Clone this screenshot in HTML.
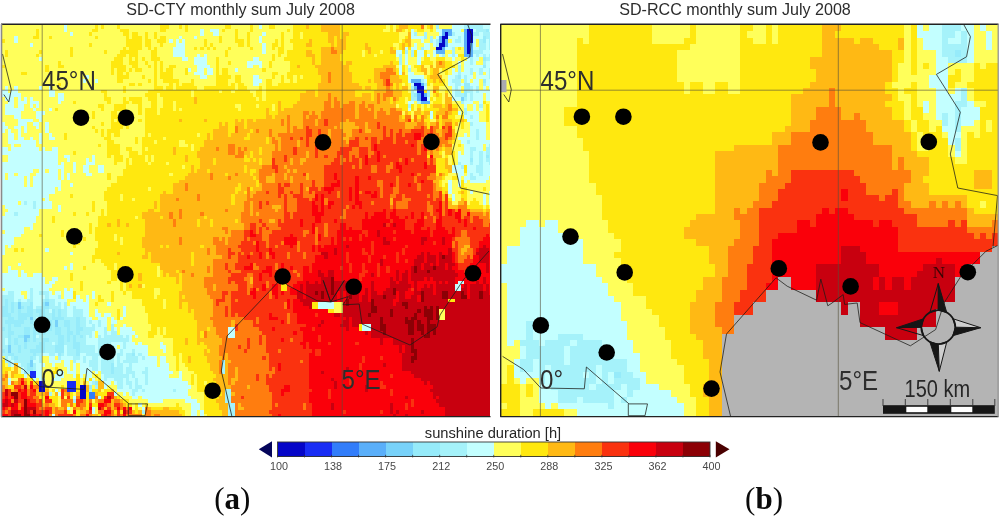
<!DOCTYPE html>
<html lang="en"><head><meta charset="utf-8"><title>Sunshine duration July 2008</title>
<style>html,body{margin:0;padding:0;background:#fff}body{width:1000px;height:516px;overflow:hidden}svg{display:block}text{font-family:"Liberation Sans",Arial,sans-serif}text.sf{font-family:"Liberation Serif","Times New Roman",serif}</style></head>
<body>
<svg width="1000" height="516" viewBox="0 0 1000 516">
<rect width="1000" height="516" fill="#fff"/>
<g shape-rendering="crispEdges">
<rect x="2" y="25" width="488" height="391.5" fill="#fa320f"/>
<path fill="#0505c8" d="M445.3 32.2H448.4V35.8H445.3zM442.2 35.8H448.4V39.4H442.2zM467 28.6H473.2V43H467zM442.2 39.4H445.3V43H442.2zM439.1 43H445.3V46.6H439.1zM436 46.6H442.2V50.2H436zM467 43H470.1V53.8H467zM414.3 82.6H420.5V86.2H414.3zM417.4 86.2H423.6V93.4H417.4zM420.5 93.4H423.6V97H420.5zM420.5 97H426.7V100.6H420.5zM39.2 381.4H45.4V392.2H39.2zM79.5 385H85.7V399.4H79.5z"/>
<path fill="#192df5" d="M29.9 370.6H36.1V377.8H29.9zM67.1 381.4H76.4V392.2H67.1z"/>
<path fill="#327dfa" d="M88.8 392.2H95V399.4H88.8z"/>
<path fill="#5aaffa" d="M442.2 28.6H451.5V32.2H442.2zM448.4 32.2H451.5V35.8H448.4zM442.2 32.2H445.3V35.8H442.2zM439.1 35.8H442.2V43H439.1zM445.3 39.4H448.4V46.6H445.3zM442.2 46.6H445.3V50.2H442.2zM463.9 28.6H467V53.8H463.9zM470.1 43H473.2V53.8H470.1zM436 50.2H445.3V53.8H436zM463.9 53.8H473.2V57.4H463.9zM411.2 79H420.5V82.6H411.2zM420.5 82.6H423.6V86.2H420.5zM414.3 86.2H417.4V89.8H414.3zM423.6 93.4H426.7V97H423.6zM417.4 93.4H420.5V100.6H417.4zM420.5 100.6H429.8V104.2H420.5z"/>
<path fill="#78d2fa" d="M460.8 97H463.9V100.6H460.8zM45.4 302.2H48.5V305.8H45.4zM17.5 302.2H20.6V309.4H17.5zM29.9 316.6H33V320.2H29.9zM54.7 320.2H57.8V327.4H54.7zM23.7 334.6H29.9V338.2H23.7zM23.7 338.2H26.8V341.8H23.7zM8.2 345.4H11.3V352.6H8.2zM29.9 359.8H33V367H29.9z"/>
<path fill="#96ebfa" d="M467 25H470.1V28.6H467zM485.6 28.6H488.7V32.2H485.6zM482.5 35.8H485.6V43H482.5zM482.5 57.4H485.6V61H482.5zM482.5 64.6H485.6V68.2H482.5zM457.7 75.4H460.8V79H457.7zM482.5 79H485.6V82.6H482.5zM463.9 82.6H470.1V89.8H463.9zM463.9 89.8H467V97H463.9zM414.3 93.4H417.4V97H414.3zM485.6 154.6H488.7V158.2H485.6zM470.1 158.2H473.2V161.8H470.1zM45.4 298.6H48.5V302.2H45.4zM5.1 298.6H8.2V305.8H5.1zM29.9 302.2H33V305.8H29.9zM42.3 302.2H45.4V305.8H42.3zM20.6 305.8H23.7V309.4H20.6zM42.3 305.8H48.5V309.4H42.3zM11.3 302.2H14.4V313H11.3zM26.8 305.8H33V313H26.8zM2 305.8H8.2V313H2zM36.1 309.4H45.4V313H36.1zM17.5 309.4H20.6V313H17.5zM51.6 309.4H54.7V316.6H51.6zM57.8 309.4H60.9V316.6H57.8zM2 313H11.3V316.6H2zM39.2 313H45.4V316.6H39.2zM17.5 313H33V316.6H17.5zM51.6 316.6H64V320.2H51.6zM39.2 316.6H42.3V320.2H39.2zM17.5 316.6H26.8V320.2H17.5zM8.2 316.6H14.4V320.2H8.2zM48.5 320.2H51.6V323.8H48.5zM29.9 320.2H33V323.8H29.9zM5.1 320.2H23.7V323.8H5.1zM76.4 316.6H79.5V327.4H76.4zM64 320.2H70.2V327.4H64zM42.3 323.8H51.6V327.4H42.3zM36.1 323.8H39.2V327.4H36.1zM14.4 323.8H20.6V327.4H14.4zM8.2 323.8H11.3V331H8.2zM2 327.4H5.1V331H2zM33 327.4H51.6V331H33zM76.4 327.4H82.6V331H76.4zM67.1 327.4H70.2V331H67.1zM23.7 327.4H29.9V334.6H23.7zM54.7 327.4H60.9V334.6H54.7zM76.4 331H79.5V334.6H76.4zM67.1 331H73.3V334.6H67.1zM42.3 331H45.4V334.6H42.3zM8.2 331H14.4V334.6H8.2zM17.5 334.6H23.7V338.2H17.5zM79.5 334.6H82.6V338.2H79.5zM33 331H36.1V341.8H33zM73.3 334.6H76.4V341.8H73.3zM67.1 334.6H70.2V341.8H67.1zM42.3 338.2H48.5V341.8H42.3zM26.8 338.2H29.9V341.8H26.8zM8.2 334.6H11.3V345.4H8.2zM57.8 334.6H64V345.4H57.8zM14.4 338.2H17.5V345.4H14.4zM39.2 341.8H45.4V345.4H39.2zM23.7 341.8H26.8V349H23.7zM73.3 341.8H79.5V349H73.3zM36.1 345.4H45.4V349H36.1zM17.5 345.4H20.6V352.6H17.5zM54.7 345.4H64V352.6H54.7zM2 349H5.1V352.6H2zM29.9 349H45.4V352.6H29.9zM76.4 349H79.5V356.2H76.4zM33 352.6H36.1V356.2H33zM132.2 352.6H135.3V356.2H132.2zM8.2 352.6H14.4V356.2H8.2zM57.8 352.6H60.9V356.2H57.8zM14.4 356.2H17.5V359.8H14.4zM29.9 356.2H33V359.8H29.9zM26.8 363.4H29.9V367H26.8zM26.8 367H33V370.6H26.8zM110.5 363.4H113.6V374.2H110.5zM23.7 370.6H26.8V374.2H23.7zM95 381.4H98.1V385H95zM88.8 385H91.9V388.6H88.8z"/>
<path fill="#a5f2fa" d="M436 25H439.1V28.6H436zM470.1 25H482.5V28.6H470.1zM463.9 25H467V28.6H463.9zM476.3 28.6H485.6V32.2H476.3zM451.5 32.2H454.6V35.8H451.5zM473.2 32.2H479.4V35.8H473.2zM414.3 32.2H417.4V35.8H414.3zM482.5 32.2H490V35.8H482.5zM423.6 32.2H426.7V39.4H423.6zM485.6 35.8H490V39.4H485.6zM457.7 35.8H460.8V39.4H457.7zM429.8 35.8H432.9V43H429.8zM454.6 39.4H460.8V43H454.6zM479.4 39.4H482.5V43H479.4zM436 39.4H439.1V46.6H436zM488.7 39.4H490V50.2H488.7zM479.4 43H485.6V50.2H479.4zM420.5 46.6H423.6V50.2H420.5zM405 50.2H408.1V53.8H405zM473.2 50.2H482.5V53.8H473.2zM451.5 46.6H454.6V57.4H451.5zM411.2 50.2H414.3V57.4H411.2zM476.3 53.8H479.4V57.4H476.3zM482.5 53.8H485.6V57.4H482.5zM488.7 53.8H490V57.4H488.7zM442.2 53.8H445.3V57.4H442.2zM485.6 57.4H490V61H485.6zM398.8 53.8H401.9V64.6H398.8zM470.1 57.4H473.2V64.6H470.1zM482.5 61H485.6V64.6H482.5zM408.1 68.2H411.2V71.8H408.1zM457.7 64.6H460.8V75.4H457.7zM479.4 68.2H482.5V75.4H479.4zM470.1 68.2H473.2V75.4H470.1zM488.7 68.2H490V79H488.7zM454.6 75.4H457.7V79H454.6zM463.9 75.4H467V82.6H463.9zM451.5 79H460.8V82.6H451.5zM420.5 79H423.6V82.6H420.5zM454.6 82.6H460.8V86.2H454.6zM482.5 82.6H485.6V86.2H482.5zM423.6 82.6H426.7V86.2H423.6zM470.1 86.2H473.2V89.8H470.1zM454.6 86.2H457.7V89.8H454.6zM476.3 86.2H479.4V93.4H476.3zM467 89.8H473.2V93.4H467zM454.6 89.8H460.8V93.4H454.6zM411.2 86.2H414.3V97H411.2zM426.7 89.8H429.8V97H426.7zM454.6 93.4H463.9V97H454.6zM470.1 93.4H473.2V100.6H470.1zM463.9 97H467V100.6H463.9zM411.2 97H417.4V100.6H411.2zM417.4 100.6H420.5V104.2H417.4zM460.8 100.6H463.9V104.2H460.8zM479.4 104.2H482.5V107.8H479.4zM408.1 104.2H411.2V107.8H408.1zM463.9 107.8H467V115H463.9zM470.1 115H473.2V118.6H470.1zM470.1 122.2H473.2V125.8H470.1zM476.3 129.4H479.4V140.2H476.3zM467 140.2H470.1V143.8H467zM488.7 143.8H490V147.4H488.7zM470.1 147.4H476.3V151H470.1zM485.6 147.4H490V154.6H485.6zM470.1 151H473.2V158.2H470.1zM488.7 154.6H490V158.2H488.7zM485.6 158.2H490V161.8H485.6zM479.4 151H482.5V165.4H479.4zM457.7 161.8H460.8V165.4H457.7zM470.1 161.8H473.2V165.4H470.1zM488.7 161.8H490V165.4H488.7zM460.8 165.4H463.9V169H460.8zM476.3 165.4H482.5V172.6H476.3zM479.4 172.6H482.5V176.2H479.4zM470.1 172.6H473.2V176.2H470.1zM470.1 176.2H476.3V179.8H470.1zM23.7 201.4H26.8V205H23.7zM33 201.4H36.1V208.6H33zM14.4 212.2H17.5V215.8H14.4zM8.2 291.4H14.4V295H8.2zM39.2 291.4H48.5V295H39.2zM29.9 287.8H33V298.6H29.9zM2 295H14.4V298.6H2zM45.4 295H48.5V298.6H45.4zM57.8 295H60.9V298.6H57.8zM17.5 298.6H20.6V302.2H17.5zM42.3 298.6H45.4V302.2H42.3zM8.2 298.6H14.4V302.2H8.2zM26.8 298.6H33V302.2H26.8zM48.5 298.6H54.7V305.8H48.5zM2 298.6H5.1V305.8H2zM57.8 302.2H60.9V305.8H57.8zM20.6 302.2H29.9V305.8H20.6zM64 302.2H67.1V309.4H64zM23.7 305.8H26.8V309.4H23.7zM48.5 305.8H60.9V309.4H48.5zM36.1 305.8H42.3V309.4H36.1zM73.3 305.8H76.4V309.4H73.3zM14.4 302.2H17.5V313H14.4zM8.2 302.2H11.3V313H8.2zM20.6 309.4H26.8V313H20.6zM45.4 309.4H48.5V313H45.4zM33 309.4H36.1V313H33zM60.9 309.4H67.1V316.6H60.9zM54.7 309.4H57.8V316.6H54.7zM73.3 309.4H82.6V316.6H73.3zM33 313H39.2V316.6H33zM45.4 313H51.6V316.6H45.4zM11.3 313H17.5V316.6H11.3zM2 316.6H8.2V320.2H2zM26.8 316.6H29.9V320.2H26.8zM64 316.6H76.4V320.2H64zM42.3 316.6H51.6V320.2H42.3zM14.4 316.6H17.5V320.2H14.4zM33 316.6H36.1V323.8H33zM88.8 320.2H91.9V323.8H88.8zM39.2 320.2H48.5V323.8H39.2zM23.7 320.2H29.9V323.8H23.7zM2 320.2H5.1V323.8H2zM79.5 316.6H85.7V327.4H79.5zM57.8 320.2H64V327.4H57.8zM98.1 320.2H101.2V327.4H98.1zM91.9 323.8H95V327.4H91.9zM11.3 323.8H14.4V327.4H11.3zM2 323.8H8.2V327.4H2zM39.2 323.8H42.3V327.4H39.2zM20.6 323.8H36.1V327.4H20.6zM51.6 320.2H54.7V331H51.6zM70.2 320.2H76.4V331H70.2zM110.5 323.8H113.6V331H110.5zM5.1 327.4H8.2V331H5.1zM11.3 327.4H23.7V331H11.3zM82.6 327.4H95V331H82.6zM104.3 327.4H107.4V334.6H104.3zM60.9 327.4H67.1V334.6H60.9zM110.5 331H116.7V334.6H110.5zM79.5 331H91.9V334.6H79.5zM45.4 331H54.7V334.6H45.4zM36.1 331H42.3V334.6H36.1zM73.3 331H76.4V334.6H73.3zM14.4 331H23.7V334.6H14.4zM2 331H8.2V338.2H2zM88.8 334.6H91.9V338.2H88.8zM39.2 334.6H57.8V338.2H39.2zM76.4 334.6H79.5V338.2H76.4zM82.6 334.6H85.7V338.2H82.6zM98.1 334.6H101.2V338.2H98.1zM126 334.6H129.1V338.2H126zM11.3 334.6H17.5V338.2H11.3zM104.3 334.6H122.9V338.2H104.3zM29.9 327.4H33V341.8H29.9zM64 334.6H67.1V341.8H64zM70.2 334.6H73.3V341.8H70.2zM98.1 338.2H129.1V341.8H98.1zM36.1 338.2H42.3V341.8H36.1zM48.5 338.2H57.8V341.8H48.5zM76.4 338.2H85.7V341.8H76.4zM11.3 338.2H14.4V345.4H11.3zM2 338.2H5.1V345.4H2zM17.5 338.2H23.7V345.4H17.5zM79.5 341.8H85.7V345.4H79.5zM64 341.8H73.3V345.4H64zM45.4 341.8H51.6V345.4H45.4zM54.7 341.8H57.8V345.4H54.7zM26.8 341.8H39.2V345.4H26.8zM98.1 341.8H110.5V345.4H98.1zM122.9 341.8H126V349H122.9zM67.1 345.4H73.3V349H67.1zM2 345.4H8.2V349H2zM26.8 345.4H36.1V349H26.8zM20.6 345.4H23.7V349H20.6zM107.4 345.4H113.6V349H107.4zM98.1 345.4H104.3V349H98.1zM79.5 345.4H95V352.6H79.5zM45.4 345.4H54.7V352.6H45.4zM11.3 345.4H17.5V352.6H11.3zM110.5 349H113.6V352.6H110.5zM119.8 349H122.9V352.6H119.8zM132.2 349H135.3V352.6H132.2zM98.1 349H107.4V352.6H98.1zM5.1 349H8.2V352.6H5.1zM20.6 349H29.9V352.6H20.6zM67.1 349H76.4V356.2H67.1zM126 352.6H132.2V356.2H126zM48.5 352.6H54.7V356.2H48.5zM2 352.6H8.2V356.2H2zM14.4 352.6H33V356.2H14.4zM138.4 352.6H141.5V356.2H138.4zM85.7 352.6H113.6V356.2H85.7zM116.7 352.6H122.9V356.2H116.7zM36.1 352.6H42.3V356.2H36.1zM60.9 352.6H64V356.2H60.9zM17.5 356.2H29.9V359.8H17.5zM73.3 356.2H79.5V359.8H73.3zM11.3 356.2H14.4V359.8H11.3zM126 356.2H138.4V359.8H126zM5.1 356.2H8.2V359.8H5.1zM141.5 356.2H144.6V359.8H141.5zM57.8 356.2H60.9V359.8H57.8zM33 356.2H36.1V359.8H33zM91.9 356.2H98.1V359.8H91.9zM82.6 356.2H85.7V363.4H82.6zM116.7 356.2H119.8V363.4H116.7zM101.2 356.2H113.6V363.4H101.2zM39.2 356.2H42.3V363.4H39.2zM14.4 359.8H29.9V363.4H14.4zM122.9 359.8H138.4V363.4H122.9zM73.3 359.8H76.4V363.4H73.3zM5.1 359.8H11.3V363.4H5.1zM88.8 359.8H98.1V367H88.8zM20.6 363.4H26.8V367H20.6zM116.7 363.4H122.9V367H116.7zM129.1 363.4H132.2V367H129.1zM8.2 363.4H11.3V367H8.2zM33 363.4H36.1V370.6H33zM23.7 367H26.8V370.6H23.7zM126 367H132.2V370.6H126zM91.9 367H98.1V370.6H91.9zM144.6 367H147.7V370.6H144.6zM222.1 359.8H225.2V374.2H222.1zM101.2 363.4H110.5V374.2H101.2zM113.6 367H122.9V374.2H113.6zM141.5 370.6H147.7V374.2H141.5zM26.8 370.6H29.9V374.2H26.8zM126 370.6H135.3V374.2H126zM132.2 374.2H135.3V377.8H132.2zM104.3 374.2H129.1V377.8H104.3zM104.3 377.8H107.4V381.4H104.3zM126 377.8H129.1V381.4H126zM113.6 377.8H122.9V381.4H113.6zM144.6 374.2H147.7V385H144.6zM135.3 377.8H138.4V385H135.3zM126 381.4H132.2V385H126zM91.9 381.4H95V385H91.9zM116.7 381.4H122.9V388.6H116.7zM95 385H98.1V388.6H95zM135.3 385H141.5V388.6H135.3zM129.1 385H132.2V388.6H129.1zM88.8 388.6H91.9V392.2H88.8zM172.5 388.6H175.6V392.2H172.5zM141.5 388.6H144.6V392.2H141.5zM132.2 388.6H138.4V392.2H132.2zM132.2 392.2H135.3V395.8H132.2zM48.5 392.2H51.6V395.8H48.5zM225.2 388.6H231.4V403H225.2zM73.3 399.4H76.4V403H73.3zM141.5 410.2H144.6V413.8H141.5zM228.3 403H234.5V416.5H228.3z"/>
<path fill="#c3ffff" d="M259.3 25H262.4V28.6H259.3zM451.5 25H463.9V28.6H451.5zM482.5 25H490V28.6H482.5zM64 25H67.1V32.2H64zM451.5 28.6H460.8V32.2H451.5zM436 28.6H442.2V32.2H436zM473.2 28.6H476.3V32.2H473.2zM488.7 28.6H490V32.2H488.7zM209.7 28.6H219V32.2H209.7zM411.2 28.6H414.3V35.8H411.2zM200.4 28.6H203.5V35.8H200.4zM212.8 32.2H219V35.8H212.8zM479.4 32.2H482.5V35.8H479.4zM262.4 32.2H265.5V35.8H262.4zM454.6 32.2H463.9V35.8H454.6zM439.1 32.2H442.2V35.8H439.1zM70.2 32.2H73.3V35.8H70.2zM178.7 35.8H181.8V39.4H178.7zM194.2 35.8H197.3V39.4H194.2zM473.2 35.8H482.5V39.4H473.2zM448.4 35.8H457.7V39.4H448.4zM436 35.8H439.1V39.4H436zM411.2 35.8H423.6V39.4H411.2zM460.8 35.8H463.9V43H460.8zM259.3 35.8H262.4V43H259.3zM14.4 35.8H17.5V43H14.4zM181.8 39.4H184.9V43H181.8zM420.5 39.4H423.6V43H420.5zM169.4 39.4H172.5V43H169.4zM175.6 39.4H178.7V43H175.6zM451.5 39.4H454.6V43H451.5zM473.2 39.4H476.3V46.6H473.2zM432.9 39.4H436V46.6H432.9zM414.3 43H417.4V46.6H414.3zM29.9 43H33V46.6H29.9zM448.4 43H463.9V46.6H448.4zM175.6 43H184.9V46.6H175.6zM485.6 39.4H488.7V50.2H485.6zM423.6 43H429.8V50.2H423.6zM411.2 46.6H417.4V50.2H411.2zM445.3 46.6H451.5V50.2H445.3zM473.2 46.6H479.4V50.2H473.2zM405 46.6H408.1V50.2H405zM262.4 43H265.5V53.8H262.4zM482.5 50.2H490V53.8H482.5zM395.7 50.2H401.9V53.8H395.7zM172.5 46.6H184.9V57.4H172.5zM417.4 50.2H423.6V57.4H417.4zM432.9 50.2H436V57.4H432.9zM479.4 53.8H482.5V57.4H479.4zM473.2 53.8H476.3V57.4H473.2zM426.7 53.8H429.8V57.4H426.7zM485.6 53.8H488.7V57.4H485.6zM454.6 53.8H457.7V57.4H454.6zM203.5 53.8H206.6V57.4H203.5zM448.4 53.8H451.5V57.4H448.4zM395.7 53.8H398.8V57.4H395.7zM439.1 53.8H442.2V57.4H439.1zM197.3 53.8H200.4V57.4H197.3zM467 57.4H470.1V61H467zM181.8 57.4H188V61H181.8zM253.1 57.4H259.3V61H253.1zM451.5 57.4H454.6V61H451.5zM473.2 57.4H479.4V61H473.2zM39.2 57.4H42.3V61H39.2zM405 53.8H408.1V64.6H405zM417.4 57.4H420.5V64.6H417.4zM194.2 57.4H206.6V64.6H194.2zM457.7 61H460.8V64.6H457.7zM473.2 61H476.3V64.6H473.2zM246.9 61H262.4V64.6H246.9zM463.9 61H470.1V64.6H463.9zM485.6 61H490V68.2H485.6zM259.3 64.6H262.4V68.2H259.3zM197.3 64.6H209.7V68.2H197.3zM246.9 64.6H253.1V68.2H246.9zM408.1 64.6H411.2V68.2H408.1zM463.9 64.6H482.5V68.2H463.9zM197.3 68.2H203.5V71.8H197.3zM234.5 68.2H237.6V71.8H234.5zM188 68.2H191.1V71.8H188zM463.9 68.2H470.1V71.8H463.9zM451.5 68.2H454.6V71.8H451.5zM473.2 68.2H479.4V71.8H473.2zM482.5 68.2H488.7V71.8H482.5zM398.8 64.6H401.9V75.4H398.8zM206.6 68.2H212.8V75.4H206.6zM408.1 71.8H414.3V75.4H408.1zM485.6 71.8H488.7V75.4H485.6zM451.5 71.8H457.7V75.4H451.5zM460.8 71.8H470.1V75.4H460.8zM194.2 71.8H203.5V75.4H194.2zM476.3 71.8H479.4V75.4H476.3zM200.4 75.4H206.6V79H200.4zM85.7 75.4H88.8V79H85.7zM460.8 75.4H463.9V79H460.8zM448.4 75.4H454.6V79H448.4zM476.3 75.4H488.7V79H476.3zM408.1 75.4H423.6V79H408.1zM467 75.4H473.2V79H467zM253.1 75.4H259.3V79H253.1zM467 79H470.1V82.6H467zM253.1 79H262.4V82.6H253.1zM408.1 79H411.2V82.6H408.1zM423.6 79H426.7V82.6H423.6zM448.4 79H451.5V82.6H448.4zM82.6 79H85.7V82.6H82.6zM95 79H98.1V82.6H95zM473.2 79H479.4V82.6H473.2zM485.6 79H490V86.2H485.6zM460.8 82.6H463.9V86.2H460.8zM448.4 82.6H454.6V86.2H448.4zM470.1 82.6H479.4V86.2H470.1zM253.1 82.6H259.3V86.2H253.1zM411.2 82.6H414.3V86.2H411.2zM457.7 86.2H460.8V89.8H457.7zM482.5 86.2H485.6V89.8H482.5zM5.1 86.2H8.2V89.8H5.1zM14.4 86.2H17.5V89.8H14.4zM488.7 86.2H490V89.8H488.7zM48.5 86.2H51.6V89.8H48.5zM423.6 86.2H426.7V89.8H423.6zM39.2 86.2H42.3V89.8H39.2zM473.2 86.2H476.3V93.4H473.2zM414.3 89.8H417.4V93.4H414.3zM11.3 89.8H17.5V93.4H11.3zM479.4 89.8H490V93.4H479.4zM2 89.8H8.2V93.4H2zM451.5 86.2H454.6V97H451.5zM48.5 89.8H54.7V97H48.5zM2 93.4H20.6V97H2zM467 93.4H470.1V100.6H467zM473.2 93.4H482.5V100.6H473.2zM57.8 93.4H64V100.6H57.8zM485.6 93.4H490V100.6H485.6zM17.5 97H20.6V100.6H17.5zM451.5 97H460.8V100.6H451.5zM426.7 97H429.8V100.6H426.7zM5.1 97H14.4V100.6H5.1zM29.9 97H33V100.6H29.9zM23.7 97H26.8V100.6H23.7zM479.4 100.6H482.5V104.2H479.4zM463.9 100.6H473.2V104.2H463.9zM17.5 100.6H26.8V104.2H17.5zM408.1 100.6H414.3V104.2H408.1zM8.2 100.6H14.4V104.2H8.2zM57.8 100.6H60.9V104.2H57.8zM29.9 100.6H39.2V104.2H29.9zM5.1 104.2H14.4V107.8H5.1zM17.5 104.2H23.7V107.8H17.5zM29.9 104.2H33V107.8H29.9zM36.1 104.2H39.2V107.8H36.1zM463.9 104.2H467V107.8H463.9zM473.2 104.2H476.3V111.4H473.2zM479.4 107.8H482.5V111.4H479.4zM33 107.8H36.1V111.4H33zM408.1 107.8H411.2V111.4H408.1zM48.5 107.8H51.6V111.4H48.5zM5.1 107.8H23.7V111.4H5.1zM36.1 111.4H45.4V115H36.1zM457.7 111.4H460.8V115H457.7zM5.1 111.4H20.6V115H5.1zM467 111.4H479.4V115H467zM429.8 111.4H432.9V118.6H429.8zM36.1 115H42.3V118.6H36.1zM463.9 115H470.1V118.6H463.9zM14.4 115H20.6V118.6H14.4zM473.2 115H479.4V118.6H473.2zM17.5 118.6H33V122.2H17.5zM467 118.6H479.4V122.2H467zM39.2 118.6H42.3V122.2H39.2zM17.5 122.2H26.8V125.8H17.5zM2 122.2H5.1V125.8H2zM33 122.2H39.2V125.8H33zM473.2 122.2H485.6V125.8H473.2zM470.1 125.8H485.6V129.4H470.1zM36.1 125.8H39.2V129.4H36.1zM14.4 125.8H20.6V129.4H14.4zM2 125.8H8.2V129.4H2zM45.4 122.2H48.5V133H45.4zM23.7 125.8H26.8V133H23.7zM2 129.4H5.1V133H2zM8.2 129.4H11.3V133H8.2zM17.5 129.4H20.6V136.6H17.5zM470.1 129.4H476.3V136.6H470.1zM48.5 133H51.6V136.6H48.5zM463.9 133H467V136.6H463.9zM479.4 129.4H485.6V140.2H479.4zM8.2 133H14.4V140.2H8.2zM17.5 136.6H23.7V140.2H17.5zM29.9 136.6H33V140.2H29.9zM457.7 136.6H476.3V140.2H457.7zM48.5 136.6H54.7V140.2H48.5zM39.2 133H42.3V143.8H39.2zM8.2 140.2H36.1V143.8H8.2zM470.1 140.2H490V143.8H470.1zM460.8 140.2H467V143.8H460.8zM485.6 143.8H488.7V147.4H485.6zM20.6 143.8H36.1V147.4H20.6zM463.9 143.8H482.5V147.4H463.9zM11.3 143.8H14.4V147.4H11.3zM11.3 147.4H39.2V151H11.3zM42.3 147.4H45.4V151H42.3zM476.3 147.4H482.5V151H476.3zM51.6 147.4H57.8V151H51.6zM2 147.4H8.2V151H2zM463.9 147.4H470.1V154.6H463.9zM457.7 151H460.8V154.6H457.7zM2 151H57.8V154.6H2zM64 154.6H70.2V158.2H64zM482.5 151H485.6V161.8H482.5zM457.7 154.6H470.1V161.8H457.7zM8.2 154.6H57.8V161.8H8.2zM91.9 154.6H95V161.8H91.9zM85.7 158.2H88.8V161.8H85.7zM67.1 158.2H70.2V161.8H67.1zM473.2 151H479.4V165.4H473.2zM85.7 161.8H95V165.4H85.7zM460.8 161.8H470.1V165.4H460.8zM60.9 161.8H64V165.4H60.9zM2 161.8H57.8V165.4H2zM482.5 161.8H488.7V165.4H482.5zM451.5 165.4H460.8V169H451.5zM2 165.4H64V169H2zM73.3 161.8H76.4V172.6H73.3zM467 165.4H476.3V172.6H467zM82.6 165.4H88.8V172.6H82.6zM98.1 165.4H104.3V172.6H98.1zM2 169H33V172.6H2zM451.5 169H463.9V172.6H451.5zM48.5 169H57.8V172.6H48.5zM39.2 169H45.4V172.6H39.2zM482.5 165.4H490V176.2H482.5zM467 172.6H470.1V176.2H467zM36.1 172.6H57.8V176.2H36.1zM8.2 172.6H14.4V176.2H8.2zM457.7 172.6H463.9V176.2H457.7zM85.7 172.6H91.9V176.2H85.7zM17.5 172.6H29.9V176.2H17.5zM473.2 172.6H479.4V176.2H473.2zM60.9 169H64V179.8H60.9zM67.1 172.6H70.2V179.8H67.1zM2 172.6H5.1V179.8H2zM33 176.2H57.8V179.8H33zM463.9 176.2H470.1V179.8H463.9zM476.3 176.2H488.7V179.8H476.3zM8.2 176.2H23.7V179.8H8.2zM470.1 179.8H485.6V183.4H470.1zM463.9 179.8H467V183.4H463.9zM457.7 176.2H460.8V187H457.7zM26.8 176.2H29.9V187H26.8zM33 179.8H60.9V187H33zM2 179.8H23.7V187H2zM70.2 183.4H73.3V187H70.2zM57.8 187H60.9V190.6H57.8zM448.4 179.8H451.5V194.2H448.4zM2 187H54.7V194.2H2zM470.1 190.6H473.2V194.2H470.1zM2 194.2H48.5V197.8H2zM451.5 194.2H454.6V201.4H451.5zM45.4 197.8H48.5V201.4H45.4zM2 197.8H42.3V201.4H2zM488.7 190.6H490V205H488.7zM482.5 194.2H485.6V205H482.5zM20.6 201.4H23.7V205H20.6zM26.8 201.4H33V205H26.8zM2 201.4H17.5V205H2zM36.1 201.4H51.6V208.6H36.1zM5.1 205H33V208.6H5.1zM57.8 205H60.9V212.2H57.8zM8.2 208.6H39.2V212.2H8.2zM5.1 212.2H14.4V215.8H5.1zM17.5 212.2H39.2V215.8H17.5zM2 215.8H36.1V223H2zM2 223H33V226.6H2zM29.9 226.6H33V230.2H29.9zM2 226.6H23.7V230.2H2zM5.1 230.2H23.7V233.8H5.1zM2 233.8H20.6V237.4H2zM2 237.4H14.4V244.6H2zM8.2 244.6H11.3V248.2H8.2zM45.4 248.2H48.5V251.8H45.4zM2 244.6H5.1V255.4H2zM70.2 251.8H73.3V255.4H70.2zM17.5 262.6H20.6V266.2H17.5zM70.2 262.6H73.3V269.8H70.2zM8.2 266.2H11.3V269.8H8.2zM64 266.2H67.1V269.8H64zM20.6 269.8H23.7V273.4H20.6zM8.2 269.8H17.5V273.4H8.2zM33 273.4H42.3V277H33zM2 273.4H17.5V277H2zM20.6 273.4H26.8V277H20.6zM51.6 277H57.8V280.6H51.6zM2 277H45.4V284.2H2zM457.7 280.6H463.9V284.2H457.7zM48.5 280.6H54.7V284.2H48.5zM2 284.2H51.6V287.8H2zM454.6 284.2H460.8V291.4H454.6zM5.1 287.8H29.9V291.4H5.1zM33 287.8H48.5V291.4H33zM64 287.8H67.1V291.4H64zM70.2 287.8H73.3V291.4H70.2zM54.7 291.4H60.9V295H54.7zM2 291.4H8.2V295H2zM33 291.4H39.2V295H33zM14.4 291.4H20.6V295H14.4zM48.5 291.4H51.6V295H48.5zM64 291.4H73.3V298.6H64zM26.8 291.4H29.9V298.6H26.8zM91.9 291.4H95V298.6H91.9zM14.4 295H23.7V298.6H14.4zM48.5 295H57.8V298.6H48.5zM76.4 295H79.5V298.6H76.4zM33 295H45.4V298.6H33zM85.7 295H88.8V302.2H85.7zM76.4 298.6H82.6V302.2H76.4zM14.4 298.6H17.5V302.2H14.4zM20.6 298.6H26.8V302.2H20.6zM54.7 298.6H67.1V302.2H54.7zM33 298.6H42.3V305.8H33zM107.4 302.2H110.5V305.8H107.4zM54.7 302.2H57.8V305.8H54.7zM70.2 302.2H88.8V305.8H70.2zM318.2 302.2H333.7V309.4H318.2zM60.9 302.2H64V309.4H60.9zM76.4 305.8H88.8V309.4H76.4zM33 305.8H36.1V309.4H33zM48.5 309.4H51.6V313H48.5zM95 309.4H98.1V313H95zM122.9 305.8H126V316.6H122.9zM67.1 305.8H73.3V316.6H67.1zM82.6 309.4H88.8V316.6H82.6zM104.3 313H110.5V316.6H104.3zM95 313H101.2V316.6H95zM110.5 316.6H113.6V320.2H110.5zM98.1 316.6H107.4V320.2H98.1zM85.7 316.6H91.9V320.2H85.7zM119.8 316.6H122.9V320.2H119.8zM36.1 316.6H39.2V323.8H36.1zM85.7 320.2H88.8V323.8H85.7zM91.9 320.2H98.1V323.8H91.9zM110.5 320.2H116.7V323.8H110.5zM101.2 320.2H107.4V327.4H101.2zM85.7 323.8H91.9V327.4H85.7zM122.9 323.8H126V327.4H122.9zM95 323.8H98.1V327.4H95zM361.6 323.8H370.9V331H361.6zM95 327.4H104.3V331H95zM113.6 327.4H116.7V331H113.6zM119.8 327.4H132.2V331H119.8zM107.4 331H110.5V334.6H107.4zM119.8 331H135.3V334.6H119.8zM98.1 331H104.3V334.6H98.1zM228.3 327.4H234.5V338.2H228.3zM91.9 331H95V338.2H91.9zM85.7 334.6H88.8V338.2H85.7zM101.2 334.6H104.3V338.2H101.2zM122.9 334.6H126V338.2H122.9zM135.3 334.6H138.4V338.2H135.3zM36.1 334.6H39.2V338.2H36.1zM129.1 334.6H132.2V341.8H129.1zM5.1 338.2H8.2V345.4H5.1zM85.7 338.2H98.1V345.4H85.7zM138.4 341.8H141.5V345.4H138.4zM160.1 341.8H163.2V345.4H160.1zM126 341.8H135.3V345.4H126zM110.5 341.8H122.9V345.4H110.5zM51.6 341.8H54.7V345.4H51.6zM113.6 345.4H116.7V349H113.6zM126 345.4H147.7V349H126zM104.3 345.4H107.4V349H104.3zM160.1 345.4H166.3V349H160.1zM119.8 345.4H122.9V349H119.8zM95 345.4H98.1V352.6H95zM107.4 349H110.5V352.6H107.4zM135.3 349H147.7V352.6H135.3zM122.9 349H132.2V352.6H122.9zM113.6 349H119.8V352.6H113.6zM163.2 349H166.3V352.6H163.2zM64 345.4H67.1V356.2H64zM54.7 352.6H57.8V356.2H54.7zM122.9 352.6H126V356.2H122.9zM79.5 352.6H85.7V356.2H79.5zM42.3 352.6H48.5V356.2H42.3zM135.3 352.6H138.4V356.2H135.3zM141.5 352.6H147.7V356.2H141.5zM60.9 356.2H73.3V359.8H60.9zM79.5 356.2H82.6V359.8H79.5zM138.4 356.2H141.5V359.8H138.4zM144.6 356.2H157V359.8H144.6zM85.7 356.2H91.9V359.8H85.7zM119.8 356.2H126V359.8H119.8zM8.2 356.2H11.3V359.8H8.2zM36.1 356.2H39.2V359.8H36.1zM48.5 356.2H54.7V359.8H48.5zM160.1 356.2H166.3V363.4H160.1zM85.7 359.8H88.8V363.4H85.7zM48.5 359.8H60.9V363.4H48.5zM76.4 359.8H82.6V363.4H76.4zM33 359.8H39.2V363.4H33zM138.4 359.8H157V363.4H138.4zM119.8 359.8H122.9V363.4H119.8zM113.6 352.6H116.7V367H113.6zM64 359.8H70.2V367H64zM11.3 359.8H14.4V367H11.3zM17.5 363.4H20.6V367H17.5zM79.5 363.4H88.8V367H79.5zM122.9 363.4H129.1V367H122.9zM160.1 363.4H169.4V367H160.1zM132.2 363.4H157V367H132.2zM51.6 363.4H54.7V367H51.6zM36.1 363.4H45.4V367H36.1zM98.1 356.2H101.2V370.6H98.1zM73.3 363.4H76.4V370.6H73.3zM67.1 367H70.2V370.6H67.1zM132.2 367H144.6V370.6H132.2zM147.7 367H169.4V370.6H147.7zM20.6 367H23.7V374.2H20.6zM122.9 367H126V374.2H122.9zM79.5 367H91.9V374.2H79.5zM135.3 370.6H141.5V374.2H135.3zM67.1 370.6H76.4V374.2H67.1zM147.7 370.6H172.5V374.2H147.7zM57.8 370.6H64V374.2H57.8zM95 370.6H98.1V374.2H95zM36.1 367H42.3V377.8H36.1zM178.7 370.6H181.8V377.8H178.7zM79.5 374.2H82.6V377.8H79.5zM54.7 374.2H64V377.8H54.7zM129.1 374.2H132.2V377.8H129.1zM73.3 374.2H76.4V377.8H73.3zM85.7 374.2H91.9V377.8H85.7zM135.3 374.2H144.6V377.8H135.3zM23.7 374.2H26.8V377.8H23.7zM147.7 374.2H169.4V377.8H147.7zM101.2 374.2H104.3V381.4H101.2zM85.7 377.8H88.8V381.4H85.7zM147.7 377.8H181.8V381.4H147.7zM51.6 377.8H60.9V381.4H51.6zM33 377.8H36.1V381.4H33zM129.1 377.8H135.3V381.4H129.1zM107.4 377.8H113.6V381.4H107.4zM39.2 377.8H45.4V381.4H39.2zM91.9 377.8H95V381.4H91.9zM8.2 377.8H11.3V385H8.2zM138.4 377.8H144.6V385H138.4zM122.9 377.8H126V385H122.9zM147.7 381.4H188V385H147.7zM113.6 381.4H116.7V385H113.6zM104.3 381.4H110.5V385H104.3zM88.8 381.4H91.9V385H88.8zM132.2 381.4H135.3V388.6H132.2zM122.9 385H129.1V388.6H122.9zM141.5 385H191.1V388.6H141.5zM104.3 385H107.4V388.6H104.3zM144.6 388.6H172.5V392.2H144.6zM116.7 388.6H132.2V392.2H116.7zM54.7 388.6H57.8V392.2H54.7zM138.4 388.6H141.5V392.2H138.4zM175.6 388.6H188V392.2H175.6zM113.6 392.2H116.7V395.8H113.6zM57.8 392.2H60.9V395.8H57.8zM135.3 392.2H188V395.8H135.3zM129.1 392.2H132.2V395.8H129.1zM122.9 392.2H126V395.8H122.9zM98.1 395.8H101.2V399.4H98.1zM73.3 395.8H76.4V399.4H73.3zM132.2 395.8H138.4V399.4H132.2zM141.5 395.8H191.1V399.4H141.5zM184.9 399.4H197.3V403H184.9zM147.7 399.4H163.2V403H147.7zM138.4 403H141.5V406.6H138.4zM191.1 403H200.4V410.2H191.1zM67.1 406.6H70.2V410.2H67.1zM141.5 406.6H144.6V410.2H141.5zM91.9 406.6H95V413.8H91.9zM200.4 410.2H203.5V416.5H200.4zM191.1 410.2H197.3V416.5H191.1zM51.6 413.8H54.7V416.5H51.6z"/>
<path fill="#ffff5a" d="M439.1 25H451.5V28.6H439.1zM119.8 25H160.1V28.6H119.8zM231.4 25H250V28.6H231.4zM104.3 25H116.7V28.6H104.3zM188 25H225.2V28.6H188zM67.1 25H95V28.6H67.1zM423.6 25H426.7V28.6H423.6zM169.4 25H178.7V28.6H169.4zM2 25H64V28.6H2zM253.1 25H259.3V28.6H253.1zM262.4 25H268.6V28.6H262.4zM386.4 25H389.5V28.6H386.4zM274.8 25H293.4V28.6H274.8zM98.1 25H101.2V28.6H98.1zM181.8 25H184.9V28.6H181.8zM432.9 25H436V32.2H432.9zM392.6 25H395.7V32.2H392.6zM423.6 28.6H429.8V32.2H423.6zM98.1 28.6H119.8V32.2H98.1zM129.1 28.6H160.1V32.2H129.1zM383.3 28.6H389.5V32.2H383.3zM237.6 28.6H250V32.2H237.6zM253.1 28.6H287.2V32.2H253.1zM166.3 28.6H184.9V32.2H166.3zM39.2 28.6H64V32.2H39.2zM405 28.6H408.1V32.2H405zM290.3 28.6H293.4V32.2H290.3zM67.1 28.6H91.9V32.2H67.1zM188 28.6H200.4V32.2H188zM225.2 28.6H234.5V32.2H225.2zM460.8 28.6H463.9V32.2H460.8zM414.3 28.6H417.4V32.2H414.3zM219 28.6H222.1V32.2H219zM203.5 28.6H209.7V32.2H203.5zM2 28.6H36.1V35.8H2zM265.5 32.2H281V35.8H265.5zM219 32.2H234.5V35.8H219zM417.4 32.2H423.6V35.8H417.4zM157 32.2H200.4V35.8H157zM73.3 32.2H88.8V35.8H73.3zM91.9 32.2H122.9V35.8H91.9zM138.4 32.2H144.6V35.8H138.4zM250 32.2H262.4V35.8H250zM203.5 32.2H212.8V35.8H203.5zM39.2 32.2H70.2V35.8H39.2zM426.7 32.2H439.1V35.8H426.7zM398.8 32.2H408.1V35.8H398.8zM129.1 32.2H132.2V39.4H129.1zM299.6 32.2H302.7V39.4H299.6zM284.1 32.2H293.4V39.4H284.1zM147.7 32.2H153.9V39.4H147.7zM237.6 32.2H246.9V39.4H237.6zM98.1 35.8H126V39.4H98.1zM398.8 35.8H405V39.4H398.8zM432.9 35.8H436V39.4H432.9zM157 35.8H160.1V39.4H157zM166.3 35.8H178.7V39.4H166.3zM181.8 35.8H194.2V39.4H181.8zM197.3 35.8H219V39.4H197.3zM2 35.8H14.4V39.4H2zM262.4 35.8H281V39.4H262.4zM39.2 35.8H48.5V39.4H39.2zM51.6 35.8H95V39.4H51.6zM426.7 35.8H429.8V39.4H426.7zM17.5 35.8H33V39.4H17.5zM250 35.8H259.3V43H250zM222.1 35.8H234.5V43H222.1zM423.6 39.4H429.8V43H423.6zM150.8 39.4H157V43H150.8zM17.5 39.4H126V43H17.5zM448.4 39.4H451.5V43H448.4zM262.4 39.4H274.8V43H262.4zM206.6 39.4H219V43H206.6zM398.8 39.4H401.9V43H398.8zM166.3 39.4H169.4V43H166.3zM411.2 39.4H420.5V43H411.2zM178.7 39.4H181.8V43H178.7zM5.1 39.4H14.4V43H5.1zM284.1 39.4H290.3V43H284.1zM172.5 39.4H175.6V43H172.5zM141.5 35.8H144.6V46.6H141.5zM184.9 39.4H203.5V46.6H184.9zM476.3 39.4H479.4V46.6H476.3zM243.8 39.4H246.9V46.6H243.8zM277.9 39.4H281V46.6H277.9zM417.4 43H423.6V46.6H417.4zM429.8 43H432.9V46.6H429.8zM163.2 43H175.6V46.6H163.2zM33 43H88.8V46.6H33zM250 43H262.4V46.6H250zM2 43H29.9V46.6H2zM411.2 43H414.3V46.6H411.2zM150.8 43H160.1V46.6H150.8zM392.6 43H398.8V46.6H392.6zM206.6 43H209.7V46.6H206.6zM91.9 43H126V46.6H91.9zM212.8 43H237.6V46.6H212.8zM284.1 43H293.4V50.2H284.1zM265.5 43H271.7V50.2H265.5zM454.6 46.6H457.7V50.2H454.6zM253.1 46.6H262.4V50.2H253.1zM209.7 46.6H212.8V50.2H209.7zM231.4 46.6H250V50.2H231.4zM73.3 46.6H122.9V50.2H73.3zM203.5 46.6H206.6V50.2H203.5zM395.7 46.6H398.8V50.2H395.7zM417.4 46.6H420.5V50.2H417.4zM184.9 46.6H194.2V50.2H184.9zM197.3 46.6H200.4V50.2H197.3zM429.8 46.6H436V50.2H429.8zM150.8 46.6H153.9V50.2H150.8zM2 46.6H70.2V50.2H2zM141.5 46.6H147.7V50.2H141.5zM126 46.6H129.1V50.2H126zM460.8 46.6H463.9V50.2H460.8zM274.8 46.6H277.9V50.2H274.8zM215.9 46.6H228.3V50.2H215.9zM184.9 50.2H225.2V53.8H184.9zM454.6 50.2H463.9V53.8H454.6zM42.3 50.2H70.2V53.8H42.3zM8.2 50.2H39.2V53.8H8.2zM284.1 50.2H287.2V53.8H284.1zM107.4 50.2H119.8V53.8H107.4zM445.3 50.2H451.5V53.8H445.3zM426.7 50.2H432.9V53.8H426.7zM265.5 50.2H277.9V53.8H265.5zM228.3 50.2H262.4V53.8H228.3zM380.2 50.2H383.3V53.8H380.2zM73.3 50.2H104.3V53.8H73.3zM157 46.6H172.5V57.4H157zM2 50.2H5.1V57.4H2zM408.1 50.2H411.2V57.4H408.1zM361.6 50.2H364.7V57.4H361.6zM138.4 50.2H150.8V57.4H138.4zM374 53.8H377.1V57.4H374zM200.4 53.8H203.5V57.4H200.4zM429.8 53.8H432.9V57.4H429.8zM184.9 53.8H197.3V57.4H184.9zM73.3 53.8H116.7V57.4H73.3zM436 53.8H439.1V57.4H436zM228.3 53.8H271.7V57.4H228.3zM39.2 53.8H70.2V57.4H39.2zM206.6 53.8H225.2V57.4H206.6zM445.3 53.8H448.4V57.4H445.3zM281 53.8H287.2V57.4H281zM8.2 53.8H36.1V57.4H8.2zM126 53.8H129.1V57.4H126zM274.8 53.8H277.9V57.4H274.8zM274.8 57.4H284.1V61H274.8zM2 57.4H39.2V61H2zM420.5 57.4H423.6V61H420.5zM160.1 57.4H181.8V61H160.1zM445.3 57.4H451.5V61H445.3zM259.3 57.4H271.7V61H259.3zM219 57.4H253.1V61H219zM395.7 57.4H398.8V61H395.7zM429.8 57.4H436V61H429.8zM463.9 57.4H467V61H463.9zM454.6 57.4H460.8V61H454.6zM188 57.4H194.2V61H188zM132.2 57.4H135.3V61H132.2zM479.4 57.4H482.5V61H479.4zM144.6 57.4H150.8V61H144.6zM138.4 57.4H141.5V61H138.4zM42.3 57.4H113.6V61H42.3zM401.9 53.8H405V64.6H401.9zM206.6 57.4H215.9V64.6H206.6zM122.9 57.4H129.1V64.6H122.9zM408.1 57.4H417.4V64.6H408.1zM451.5 61H457.7V64.6H451.5zM476.3 61H482.5V64.6H476.3zM60.9 61H110.5V64.6H60.9zM138.4 61H144.6V64.6H138.4zM2 61H57.8V64.6H2zM163.2 61H194.2V64.6H163.2zM147.7 61H153.9V64.6H147.7zM231.4 61H246.9V64.6H231.4zM219 61H228.3V64.6H219zM432.9 61H436V68.2H432.9zM271.7 61H290.3V68.2H271.7zM262.4 61H268.6V68.2H262.4zM423.6 64.6H429.8V68.2H423.6zM138.4 64.6H147.7V68.2H138.4zM163.2 64.6H169.4V68.2H163.2zM219 64.6H246.9V68.2H219zM48.5 64.6H57.8V68.2H48.5zM5.1 64.6H45.4V68.2H5.1zM395.7 64.6H398.8V68.2H395.7zM253.1 64.6H259.3V68.2H253.1zM126 64.6H132.2V68.2H126zM150.8 64.6H153.9V68.2H150.8zM411.2 64.6H414.3V68.2H411.2zM209.7 64.6H215.9V68.2H209.7zM175.6 64.6H197.3V68.2H175.6zM64 64.6H110.5V68.2H64zM460.8 61H463.9V71.8H460.8zM454.6 64.6H457.7V71.8H454.6zM411.2 68.2H417.4V71.8H411.2zM2 68.2H45.4V71.8H2zM191.1 68.2H197.3V71.8H191.1zM163.2 68.2H166.3V71.8H163.2zM439.1 68.2H442.2V71.8H439.1zM48.5 68.2H110.5V71.8H48.5zM237.6 68.2H262.4V71.8H237.6zM265.5 68.2H290.3V71.8H265.5zM132.2 68.2H135.3V71.8H132.2zM126 68.2H129.1V71.8H126zM141.5 68.2H153.9V71.8H141.5zM228.3 68.2H234.5V71.8H228.3zM405 64.6H408.1V75.4H405zM426.7 68.2H429.8V75.4H426.7zM212.8 68.2H215.9V75.4H212.8zM203.5 68.2H206.6V75.4H203.5zM448.4 68.2H451.5V75.4H448.4zM172.5 68.2H184.9V75.4H172.5zM219 68.2H222.1V75.4H219zM113.6 68.2H116.7V75.4H113.6zM129.1 71.8H153.9V75.4H129.1zM414.3 71.8H423.6V75.4H414.3zM277.9 71.8H287.2V75.4H277.9zM439.1 71.8H445.3V75.4H439.1zM122.9 71.8H126V75.4H122.9zM228.3 71.8H271.7V75.4H228.3zM188 71.8H194.2V75.4H188zM2 71.8H20.6V75.4H2zM482.5 71.8H485.6V75.4H482.5zM26.8 71.8H110.5V75.4H26.8zM157 61H160.1V79H157zM473.2 71.8H476.3V79H473.2zM206.6 75.4H215.9V79H206.6zM2 75.4H85.7V79H2zM172.5 75.4H200.4V79H172.5zM284.1 75.4H287.2V79H284.1zM423.6 75.4H426.7V79H423.6zM274.8 75.4H281V79H274.8zM259.3 75.4H271.7V79H259.3zM144.6 75.4H153.9V79H144.6zM299.6 75.4H302.7V79H299.6zM442.2 75.4H448.4V79H442.2zM231.4 75.4H234.5V79H231.4zM88.8 75.4H116.7V79H88.8zM129.1 75.4H141.5V79H129.1zM293.4 75.4H296.5V82.6H293.4zM240.7 75.4H253.1V82.6H240.7zM122.9 79H147.7V82.6H122.9zM178.7 79H191.1V82.6H178.7zM98.1 79H116.7V82.6H98.1zM150.8 79H153.9V82.6H150.8zM284.1 79H290.3V82.6H284.1zM271.7 79H281V82.6H271.7zM470.1 79H473.2V82.6H470.1zM460.8 79H463.9V82.6H460.8zM2 79H82.6V82.6H2zM157 79H163.2V82.6H157zM228.3 79H234.5V82.6H228.3zM85.7 79H95V82.6H85.7zM262.4 79H265.5V82.6H262.4zM194.2 79H215.9V86.2H194.2zM445.3 79H448.4V86.2H445.3zM157 82.6H169.4V86.2H157zM429.8 82.6H432.9V86.2H429.8zM259.3 82.6H265.5V86.2H259.3zM228.3 82.6H231.4V86.2H228.3zM271.7 82.6H277.9V86.2H271.7zM2 82.6H57.8V86.2H2zM135.3 82.6H138.4V86.2H135.3zM243.8 82.6H253.1V86.2H243.8zM60.9 82.6H129.1V86.2H60.9zM401.9 82.6H405V86.2H401.9zM178.7 82.6H181.8V86.2H178.7zM141.5 82.6H153.9V86.2H141.5zM479.4 79H482.5V89.8H479.4zM234.5 82.6H237.6V89.8H234.5zM172.5 82.6H175.6V89.8H172.5zM17.5 86.2H39.2V89.8H17.5zM2 86.2H5.1V89.8H2zM439.1 86.2H451.5V89.8H439.1zM126 86.2H153.9V89.8H126zM246.9 86.2H259.3V89.8H246.9zM42.3 86.2H48.5V89.8H42.3zM426.7 86.2H432.9V89.8H426.7zM163.2 86.2H166.3V89.8H163.2zM51.6 86.2H122.9V89.8H51.6zM485.6 86.2H488.7V89.8H485.6zM8.2 86.2H14.4V89.8H8.2zM197.3 86.2H203.5V89.8H197.3zM408.1 82.6H411.2V93.4H408.1zM460.8 86.2H463.9V93.4H460.8zM439.1 89.8H445.3V93.4H439.1zM126 89.8H147.7V93.4H126zM8.2 89.8H11.3V93.4H8.2zM250 89.8H256.2V93.4H250zM54.7 89.8H101.2V93.4H54.7zM17.5 89.8H48.5V93.4H17.5zM231.4 89.8H234.5V93.4H231.4zM107.4 89.8H122.9V93.4H107.4zM219 89.8H222.1V93.4H219zM429.8 89.8H432.9V97H429.8zM448.4 89.8H451.5V97H448.4zM191.1 89.8H194.2V97H191.1zM20.6 93.4H48.5V97H20.6zM157 93.4H160.1V97H157zM107.4 93.4H144.6V97H107.4zM54.7 93.4H57.8V97H54.7zM253.1 93.4H256.2V97H253.1zM262.4 86.2H265.5V100.6H262.4zM482.5 93.4H485.6V100.6H482.5zM64 93.4H104.3V100.6H64zM20.6 97H23.7V100.6H20.6zM2 97H5.1V100.6H2zM432.9 97H436V100.6H432.9zM256.2 97H259.3V100.6H256.2zM141.5 97H147.7V100.6H141.5zM126 97H129.1V100.6H126zM33 97H57.8V100.6H33zM442.2 93.4H445.3V104.2H442.2zM110.5 97H122.9V104.2H110.5zM405 97H408.1V104.2H405zM26.8 97H29.9V104.2H26.8zM129.1 100.6H132.2V104.2H129.1zM429.8 100.6H432.9V104.2H429.8zM76.4 100.6H107.4V104.2H76.4zM39.2 100.6H57.8V104.2H39.2zM485.6 100.6H490V104.2H485.6zM473.2 100.6H479.4V104.2H473.2zM2 100.6H8.2V104.2H2zM451.5 100.6H460.8V104.2H451.5zM60.9 100.6H73.3V104.2H60.9zM14.4 97H17.5V107.8H14.4zM157 97H163.2V107.8H157zM141.5 100.6H150.8V107.8H141.5zM426.7 104.2H429.8V107.8H426.7zM33 104.2H36.1V107.8H33zM23.7 104.2H29.9V107.8H23.7zM395.7 104.2H398.8V107.8H395.7zM39.2 104.2H98.1V107.8H39.2zM256.2 104.2H259.3V107.8H256.2zM234.5 104.2H240.7V107.8H234.5zM414.3 100.6H417.4V111.4H414.3zM172.5 100.6H175.6V111.4H172.5zM420.5 104.2H423.6V111.4H420.5zM457.7 104.2H463.9V111.4H457.7zM467 104.2H473.2V111.4H467zM476.3 104.2H479.4V111.4H476.3zM104.3 104.2H113.6V111.4H104.3zM271.7 104.2H274.8V111.4H271.7zM482.5 104.2H485.6V111.4H482.5zM36.1 107.8H48.5V111.4H36.1zM23.7 107.8H33V111.4H23.7zM51.6 107.8H54.7V111.4H51.6zM237.6 107.8H240.7V111.4H237.6zM178.7 107.8H181.8V111.4H178.7zM57.8 107.8H101.2V111.4H57.8zM2 104.2H5.1V115H2zM126 104.2H138.4V115H126zM141.5 107.8H144.6V115H141.5zM157 107.8H160.1V115H157zM116.7 111.4H122.9V115H116.7zM45.4 111.4H91.9V115H45.4zM401.9 111.4H405V115H401.9zM460.8 111.4H463.9V115H460.8zM20.6 111.4H36.1V118.6H20.6zM411.2 111.4H414.3V118.6H411.2zM95 111.4H110.5V118.6H95zM85.7 115H91.9V118.6H85.7zM126 115H144.6V118.6H126zM454.6 115H460.8V118.6H454.6zM2 115H14.4V118.6H2zM488.7 104.2H490V122.2H488.7zM479.4 111.4H485.6V122.2H479.4zM42.3 115H82.6V122.2H42.3zM119.8 115H122.9V122.2H119.8zM141.5 118.6H144.6V122.2H141.5zM2 118.6H17.5V122.2H2zM33 118.6H39.2V122.2H33zM429.8 118.6H436V122.2H429.8zM85.7 118.6H110.5V122.2H85.7zM126 118.6H138.4V122.2H126zM113.6 118.6H116.7V122.2H113.6zM104.3 122.2H110.5V125.8H104.3zM26.8 122.2H33V125.8H26.8zM5.1 122.2H17.5V125.8H5.1zM126 122.2H144.6V125.8H126zM457.7 122.2H460.8V125.8H457.7zM48.5 122.2H101.2V125.8H48.5zM463.9 122.2H470.1V129.4H463.9zM39.2 122.2H45.4V129.4H39.2zM129.1 125.8H144.6V129.4H129.1zM48.5 125.8H91.9V129.4H48.5zM122.9 125.8H126V129.4H122.9zM454.6 125.8H460.8V129.4H454.6zM95 125.8H110.5V129.4H95zM26.8 125.8H36.1V129.4H26.8zM8.2 125.8H14.4V129.4H8.2zM20.6 125.8H23.7V133H20.6zM11.3 129.4H17.5V133H11.3zM454.6 129.4H470.1V133H454.6zM26.8 129.4H45.4V133H26.8zM98.1 129.4H101.2V133H98.1zM48.5 129.4H95V133H48.5zM5.1 129.4H8.2V133H5.1zM119.8 129.4H144.6V136.6H119.8zM104.3 129.4H107.4V136.6H104.3zM51.6 133H64V136.6H51.6zM457.7 133H463.9V136.6H457.7zM147.7 133H150.8V136.6H147.7zM67.1 133H101.2V136.6H67.1zM197.3 133H200.4V136.6H197.3zM20.6 133H39.2V136.6H20.6zM110.5 133H113.6V136.6H110.5zM467 133H470.1V136.6H467zM485.6 122.2H490V140.2H485.6zM14.4 133H17.5V140.2H14.4zM42.3 133H48.5V140.2H42.3zM23.7 136.6H29.9V140.2H23.7zM454.6 136.6H457.7V140.2H454.6zM33 136.6H39.2V140.2H33zM163.2 136.6H166.3V140.2H163.2zM110.5 136.6H135.3V140.2H110.5zM54.7 136.6H64V140.2H54.7zM67.1 136.6H104.3V140.2H67.1zM2 133H8.2V143.8H2zM138.4 136.6H141.5V143.8H138.4zM153.9 140.2H157V143.8H153.9zM113.6 140.2H135.3V143.8H113.6zM178.7 140.2H184.9V143.8H178.7zM36.1 140.2H39.2V143.8H36.1zM454.6 140.2H460.8V143.8H454.6zM42.3 140.2H107.4V143.8H42.3zM451.5 143.8H457.7V147.4H451.5zM2 143.8H11.3V147.4H2zM101.2 143.8H107.4V147.4H101.2zM14.4 143.8H20.6V147.4H14.4zM178.7 143.8H188V147.4H178.7zM460.8 143.8H463.9V147.4H460.8zM119.8 143.8H141.5V147.4H119.8zM36.1 143.8H98.1V147.4H36.1zM191.1 143.8H194.2V151H191.1zM482.5 143.8H485.6V151H482.5zM57.8 147.4H107.4V151H57.8zM451.5 147.4H463.9V151H451.5zM144.6 147.4H147.7V151H144.6zM8.2 147.4H11.3V151H8.2zM119.8 147.4H126V151H119.8zM45.4 147.4H51.6V151H45.4zM39.2 147.4H42.3V151H39.2zM132.2 147.4H141.5V151H132.2zM57.8 151H73.3V154.6H57.8zM76.4 151H107.4V154.6H76.4zM119.8 151H129.1V154.6H119.8zM460.8 151H463.9V154.6H460.8zM138.4 151H141.5V154.6H138.4zM442.2 151H445.3V158.2H442.2zM95 154.6H107.4V158.2H95zM122.9 154.6H129.1V158.2H122.9zM57.8 154.6H64V158.2H57.8zM110.5 154.6H113.6V158.2H110.5zM70.2 154.6H91.9V158.2H70.2zM144.6 154.6H147.7V161.8H144.6zM150.8 154.6H153.9V161.8H150.8zM2 154.6H8.2V161.8H2zM57.8 158.2H67.1V161.8H57.8zM88.8 158.2H91.9V161.8H88.8zM122.9 158.2H126V161.8H122.9zM70.2 158.2H85.7V161.8H70.2zM454.6 151H457.7V165.4H454.6zM448.4 154.6H451.5V165.4H448.4zM129.1 158.2H132.2V165.4H129.1zM95 158.2H113.6V165.4H95zM57.8 161.8H60.9V165.4H57.8zM147.7 161.8H150.8V165.4H147.7zM76.4 161.8H85.7V165.4H76.4zM116.7 161.8H126V165.4H116.7zM166.3 161.8H169.4V165.4H166.3zM104.3 165.4H126V169H104.3zM181.8 165.4H184.9V169H181.8zM64 161.8H73.3V172.6H64zM88.8 165.4H98.1V172.6H88.8zM76.4 165.4H82.6V172.6H76.4zM104.3 169H122.9V172.6H104.3zM33 169H39.2V172.6H33zM45.4 169H48.5V172.6H45.4zM14.4 172.6H17.5V176.2H14.4zM169.4 172.6H172.5V176.2H169.4zM110.5 172.6H122.9V176.2H110.5zM448.4 172.6H457.7V176.2H448.4zM463.9 172.6H467V176.2H463.9zM91.9 172.6H107.4V176.2H91.9zM29.9 172.6H36.1V176.2H29.9zM70.2 172.6H85.7V176.2H70.2zM57.8 169H60.9V179.8H57.8zM64 172.6H67.1V179.8H64zM5.1 172.6H8.2V179.8H5.1zM488.7 176.2H490V179.8H488.7zM445.3 176.2H451.5V179.8H445.3zM110.5 176.2H116.7V179.8H110.5zM70.2 176.2H107.4V179.8H70.2zM460.8 176.2H463.9V179.8H460.8zM485.6 179.8H490V183.4H485.6zM60.9 179.8H116.7V183.4H60.9zM442.2 179.8H448.4V183.4H442.2zM467 179.8H470.1V183.4H467zM29.9 176.2H33V187H29.9zM23.7 176.2H26.8V187H23.7zM451.5 179.8H457.7V187H451.5zM60.9 183.4H70.2V187H60.9zM73.3 183.4H110.5V187H73.3zM442.2 183.4H445.3V187H442.2zM463.9 183.4H490V187H463.9zM147.7 187H150.8V190.6H147.7zM485.6 187H490V190.6H485.6zM60.9 187H107.4V190.6H60.9zM451.5 187H460.8V190.6H451.5zM54.7 187H57.8V190.6H54.7zM467 187H482.5V190.6H467zM451.5 190.6H457.7V194.2H451.5zM54.7 190.6H104.3V194.2H54.7zM473.2 190.6H488.7V194.2H473.2zM467 190.6H470.1V194.2H467zM48.5 194.2H70.2V197.8H48.5zM448.4 194.2H451.5V197.8H448.4zM467 194.2H482.5V197.8H467zM73.3 194.2H104.3V197.8H73.3zM454.6 194.2H460.8V201.4H454.6zM119.8 194.2H122.9V201.4H119.8zM476.3 197.8H482.5V201.4H476.3zM467 197.8H473.2V201.4H467zM48.5 197.8H104.3V201.4H48.5zM132.2 197.8H135.3V201.4H132.2zM42.3 197.8H45.4V201.4H42.3zM485.6 194.2H488.7V205H485.6zM451.5 201.4H457.7V205H451.5zM51.6 201.4H91.9V205H51.6zM467 201.4H470.1V205H467zM17.5 201.4H20.6V205H17.5zM479.4 201.4H482.5V205H479.4zM95 201.4H107.4V208.6H95zM2 205H5.1V208.6H2zM51.6 205H57.8V208.6H51.6zM488.7 205H490V208.6H488.7zM482.5 205H485.6V208.6H482.5zM60.9 205H91.9V212.2H60.9zM95 208.6H101.2V212.2H95zM39.2 208.6H57.8V212.2H39.2zM2 208.6H8.2V212.2H2zM104.3 208.6H107.4V215.8H104.3zM2 212.2H5.1V215.8H2zM39.2 212.2H73.3V215.8H39.2zM76.4 212.2H85.7V215.8H76.4zM88.8 212.2H101.2V215.8H88.8zM135.3 215.8H138.4V219.4H135.3zM36.1 215.8H51.6V223H36.1zM54.7 215.8H98.1V223H54.7zM91.9 223H98.1V226.6H91.9zM33 223H88.8V230.2H33zM23.7 226.6H29.9V230.2H23.7zM91.9 226.6H95V233.8H91.9zM2 230.2H5.1V233.8H2zM64 230.2H88.8V233.8H64zM23.7 230.2H60.9V233.8H23.7zM73.3 233.8H95V237.4H73.3zM20.6 233.8H39.2V237.4H20.6zM42.3 233.8H60.9V237.4H42.3zM64 233.8H70.2V237.4H64zM113.6 233.8H116.7V241H113.6zM14.4 237.4H82.6V241H14.4zM85.7 237.4H95V241H85.7zM119.8 237.4H122.9V244.6H119.8zM14.4 241H76.4V244.6H14.4zM79.5 241H98.1V244.6H79.5zM11.3 244.6H73.3V248.2H11.3zM76.4 244.6H98.1V248.2H76.4zM5.1 244.6H8.2V248.2H5.1zM17.5 248.2H20.6V251.8H17.5zM48.5 248.2H95V251.8H48.5zM5.1 248.2H14.4V251.8H5.1zM23.7 248.2H45.4V251.8H23.7zM73.3 251.8H95V255.4H73.3zM5.1 251.8H70.2V255.4H5.1zM2 255.4H91.9V262.6H2zM95 259H101.2V262.6H95zM20.6 262.6H70.2V266.2H20.6zM2 262.6H17.5V266.2H2zM73.3 262.6H104.3V266.2H73.3zM113.6 262.6H116.7V269.8H113.6zM11.3 266.2H64V269.8H11.3zM73.3 266.2H82.6V269.8H73.3zM67.1 266.2H70.2V269.8H67.1zM85.7 266.2H107.4V269.8H85.7zM2 266.2H8.2V273.4H2zM23.7 269.8H110.5V273.4H23.7zM157 266.2H160.1V277H157zM17.5 269.8H20.6V277H17.5zM42.3 273.4H70.2V277H42.3zM26.8 273.4H33V277H26.8zM73.3 273.4H110.5V280.6H73.3zM116.7 273.4H119.8V280.6H116.7zM45.4 277H51.6V280.6H45.4zM57.8 277H70.2V280.6H57.8zM82.6 280.6H107.4V284.2H82.6zM54.7 280.6H79.5V284.2H54.7zM110.5 280.6H119.8V284.2H110.5zM45.4 280.6H48.5V284.2H45.4zM141.5 284.2H144.6V287.8H141.5zM51.6 284.2H79.5V287.8H51.6zM122.9 280.6H126V291.4H122.9zM82.6 284.2H119.8V291.4H82.6zM2 287.8H5.1V291.4H2zM48.5 287.8H64V291.4H48.5zM73.3 287.8H79.5V291.4H73.3zM67.1 287.8H70.2V291.4H67.1zM153.9 287.8H160.1V295H153.9zM126 291.4H132.2V295H126zM113.6 291.4H122.9V295H113.6zM76.4 291.4H91.9V295H76.4zM51.6 291.4H54.7V295H51.6zM20.6 291.4H26.8V295H20.6zM95 291.4H110.5V295H95zM60.9 291.4H64V298.6H60.9zM153.9 295H157V298.6H153.9zM101.2 295H110.5V298.6H101.2zM88.8 295H91.9V298.6H88.8zM79.5 295H85.7V298.6H79.5zM23.7 295H26.8V298.6H23.7zM95 295H98.1V298.6H95zM113.6 295H132.2V298.6H113.6zM67.1 298.6H76.4V302.2H67.1zM104.3 298.6H110.5V302.2H104.3zM113.6 298.6H141.5V302.2H113.6zM88.8 298.6H98.1V302.2H88.8zM82.6 298.6H85.7V302.2H82.6zM110.5 302.2H141.5V305.8H110.5zM98.1 302.2H107.4V305.8H98.1zM67.1 302.2H70.2V305.8H67.1zM88.8 302.2H95V305.8H88.8zM163.2 298.6H166.3V309.4H163.2zM88.8 305.8H122.9V309.4H88.8zM333.7 302.2H343V313H333.7zM126 305.8H144.6V313H126zM98.1 309.4H116.7V313H98.1zM119.8 309.4H122.9V316.6H119.8zM88.8 309.4H95V316.6H88.8zM126 313H147.7V316.6H126zM110.5 313H116.7V316.6H110.5zM101.2 313H104.3V316.6H101.2zM439.1 309.4H445.3V320.2H439.1zM91.9 316.6H98.1V320.2H91.9zM122.9 316.6H147.7V320.2H122.9zM113.6 316.6H116.7V320.2H113.6zM116.7 320.2H147.7V323.8H116.7zM113.6 323.8H122.9V327.4H113.6zM126 323.8H150.8V327.4H126zM107.4 316.6H110.5V331H107.4zM132.2 327.4H150.8V331H132.2zM157 327.4H160.1V334.6H157zM163.2 327.4H166.3V334.6H163.2zM116.7 327.4H119.8V334.6H116.7zM135.3 331H147.7V334.6H135.3zM95 331H98.1V338.2H95zM138.4 334.6H147.7V338.2H138.4zM153.9 334.6H163.2V338.2H153.9zM132.2 334.6H135.3V338.2H132.2zM132.2 338.2H172.5V341.8H132.2zM135.3 341.8H138.4V345.4H135.3zM163.2 341.8H172.5V345.4H163.2zM141.5 341.8H160.1V345.4H141.5zM147.7 345.4H160.1V349H147.7zM116.7 345.4H119.8V349H116.7zM166.3 345.4H172.5V352.6H166.3zM147.7 349H163.2V352.6H147.7zM147.7 352.6H172.5V356.2H147.7zM2 356.2H5.1V359.8H2zM54.7 356.2H57.8V359.8H54.7zM178.7 352.6H181.8V363.4H178.7zM42.3 356.2H48.5V363.4H42.3zM166.3 356.2H175.6V363.4H166.3zM60.9 359.8H64V363.4H60.9zM157 356.2H160.1V367H157zM178.7 363.4H184.9V367H178.7zM45.4 363.4H51.6V367H45.4zM5.1 363.4H8.2V367H5.1zM54.7 363.4H64V367H54.7zM70.2 359.8H73.3V370.6H70.2zM169.4 363.4H175.6V370.6H169.4zM57.8 367H67.1V370.6H57.8zM11.3 367H14.4V370.6H11.3zM42.3 367H54.7V370.6H42.3zM178.7 367H188V370.6H178.7zM76.4 363.4H79.5V374.2H76.4zM17.5 367H20.6V374.2H17.5zM42.3 370.6H51.6V374.2H42.3zM64 370.6H67.1V374.2H64zM172.5 370.6H178.7V374.2H172.5zM181.8 370.6H194.2V374.2H181.8zM8.2 370.6H11.3V377.8H8.2zM91.9 370.6H95V377.8H91.9zM98.1 370.6H101.2V377.8H98.1zM169.4 374.2H178.7V377.8H169.4zM64 374.2H73.3V377.8H64zM82.6 374.2H85.7V377.8H82.6zM42.3 374.2H54.7V377.8H42.3zM26.8 374.2H29.9V377.8H26.8zM181.8 374.2H191.1V381.4H181.8zM11.3 377.8H17.5V381.4H11.3zM60.9 377.8H76.4V381.4H60.9zM45.4 377.8H51.6V381.4H45.4zM95 377.8H98.1V381.4H95zM36.1 377.8H39.2V381.4H36.1zM194.2 374.2H197.3V385H194.2zM79.5 377.8H82.6V385H79.5zM188 381.4H191.1V385H188zM45.4 381.4H67.1V385H45.4zM203.5 381.4H206.6V385H203.5zM110.5 381.4H113.6V385H110.5zM85.7 381.4H88.8V385H85.7zM191.1 385H197.3V388.6H191.1zM64 385H67.1V388.6H64zM91.9 385H95V388.6H91.9zM107.4 385H116.7V388.6H107.4zM48.5 385H60.9V388.6H48.5zM57.8 388.6H60.9V392.2H57.8zM48.5 388.6H51.6V392.2H48.5zM188 388.6H197.3V392.2H188zM113.6 388.6H116.7V392.2H113.6zM101.2 388.6H104.3V392.2H101.2zM116.7 392.2H122.9V395.8H116.7zM73.3 392.2H76.4V395.8H73.3zM188 392.2H203.5V395.8H188zM51.6 392.2H54.7V395.8H51.6zM126 392.2H129.1V395.8H126zM191.1 395.8H203.5V399.4H191.1zM119.8 395.8H132.2V399.4H119.8zM64 395.8H67.1V399.4H64zM138.4 395.8H141.5V399.4H138.4zM91.9 399.4H95V403H91.9zM163.2 399.4H184.9V403H163.2zM129.1 399.4H147.7V403H129.1zM197.3 399.4H203.5V403H197.3zM57.8 395.8H60.9V406.6H57.8zM141.5 403H144.6V406.6H141.5zM178.7 403H191.1V406.6H178.7zM147.7 403H175.6V406.6H147.7zM200.4 403H203.5V410.2H200.4zM132.2 403H135.3V410.2H132.2zM181.8 406.6H191.1V410.2H181.8zM138.4 406.6H141.5V410.2H138.4zM95 406.6H98.1V413.8H95zM70.2 406.6H73.3V413.8H70.2zM184.9 410.2H191.1V416.5H184.9zM197.3 410.2H200.4V416.5H197.3zM141.5 413.8H144.6V416.5H141.5zM203.5 413.8H206.6V416.5H203.5z"/>
<path fill="#ffe80f" d="M225.2 25H231.4V28.6H225.2zM339.9 25H386.4V28.6H339.9zM395.7 25H398.8V28.6H395.7zM95 25H98.1V28.6H95zM116.7 25H119.8V28.6H116.7zM268.6 25H274.8V28.6H268.6zM408.1 25H420.5V28.6H408.1zM293.4 25H305.8V28.6H293.4zM178.7 25H181.8V28.6H178.7zM101.2 25H104.3V28.6H101.2zM426.7 25H429.8V28.6H426.7zM308.9 25H321.3V28.6H308.9zM160.1 25H169.4V28.6H160.1zM184.9 25H188V32.2H184.9zM250 25H253.1V32.2H250zM389.5 25H392.6V32.2H389.5zM293.4 28.6H321.3V32.2H293.4zM160.1 28.6H166.3V32.2H160.1zM119.8 28.6H129.1V32.2H119.8zM339.9 28.6H383.3V32.2H339.9zM401.9 28.6H405V32.2H401.9zM287.2 28.6H290.3V32.2H287.2zM222.1 28.6H225.2V32.2H222.1zM91.9 28.6H98.1V32.2H91.9zM417.4 28.6H423.6V32.2H417.4zM408.1 28.6H411.2V32.2H408.1zM429.8 28.6H432.9V32.2H429.8zM36.1 28.6H39.2V35.8H36.1zM122.9 32.2H129.1V35.8H122.9zM132.2 32.2H138.4V35.8H132.2zM349.2 32.2H398.8V35.8H349.2zM88.8 32.2H91.9V35.8H88.8zM234.5 28.6H237.6V39.4H234.5zM302.7 32.2H327.5V39.4H302.7zM339.9 32.2H343V39.4H339.9zM293.4 32.2H299.6V39.4H293.4zM153.9 32.2H157V39.4H153.9zM144.6 32.2H147.7V39.4H144.6zM33 35.8H39.2V39.4H33zM95 35.8H98.1V39.4H95zM160.1 35.8H166.3V39.4H160.1zM405 35.8H408.1V39.4H405zM132.2 35.8H141.5V39.4H132.2zM126 35.8H129.1V39.4H126zM48.5 35.8H51.6V39.4H48.5zM346.1 35.8H398.8V43H346.1zM219 35.8H222.1V43H219zM157 39.4H166.3V43H157zM312 39.4H327.5V43H312zM401.9 39.4H405V43H401.9zM274.8 39.4H277.9V43H274.8zM2 39.4H5.1V43H2zM290.3 39.4H308.9V43H290.3zM234.5 39.4H243.8V43H234.5zM246.9 32.2H250V46.6H246.9zM281 32.2H284.1V46.6H281zM333.7 35.8H336.8V46.6H333.7zM144.6 39.4H150.8V46.6H144.6zM126 39.4H141.5V46.6H126zM203.5 39.4H206.6V46.6H203.5zM237.6 43H243.8V46.6H237.6zM405 43H408.1V46.6H405zM293.4 43H305.8V46.6H293.4zM160.1 43H163.2V46.6H160.1zM209.7 43H212.8V46.6H209.7zM312 43H330.6V46.6H312zM271.7 43H277.9V46.6H271.7zM88.8 43H91.9V46.6H88.8zM367.8 43H392.6V46.6H367.8zM398.8 43H401.9V50.2H398.8zM346.1 43H364.7V50.2H346.1zM147.7 46.6H150.8V50.2H147.7zM122.9 46.6H126V50.2H122.9zM293.4 46.6H321.3V50.2H293.4zM250 46.6H253.1V50.2H250zM457.7 46.6H460.8V50.2H457.7zM271.7 46.6H274.8V50.2H271.7zM129.1 46.6H141.5V50.2H129.1zM206.6 46.6H209.7V50.2H206.6zM194.2 46.6H197.3V50.2H194.2zM392.6 46.6H395.7V50.2H392.6zM212.8 46.6H215.9V50.2H212.8zM153.9 46.6H157V50.2H153.9zM200.4 46.6H203.5V50.2H200.4zM408.1 46.6H411.2V50.2H408.1zM228.3 46.6H231.4V50.2H228.3zM370.9 46.6H389.5V50.2H370.9zM277.9 46.6H284.1V53.8H277.9zM119.8 50.2H138.4V53.8H119.8zM104.3 50.2H107.4V53.8H104.3zM39.2 50.2H42.3V53.8H39.2zM370.9 50.2H380.2V53.8H370.9zM312 50.2H321.3V53.8H312zM401.9 50.2H405V53.8H401.9zM343 50.2H361.6V53.8H343zM383.3 50.2H389.5V53.8H383.3zM364.7 50.2H367.8V53.8H364.7zM70.2 46.6H73.3V57.4H70.2zM423.6 50.2H426.7V57.4H423.6zM287.2 50.2H305.8V57.4H287.2zM225.2 50.2H228.3V57.4H225.2zM5.1 50.2H8.2V57.4H5.1zM414.3 50.2H417.4V57.4H414.3zM150.8 50.2H157V57.4H150.8zM364.7 53.8H374V57.4H364.7zM36.1 53.8H39.2V57.4H36.1zM116.7 53.8H126V57.4H116.7zM277.9 53.8H281V57.4H277.9zM339.9 53.8H361.6V57.4H339.9zM377.1 53.8H395.7V57.4H377.1zM457.7 53.8H463.9V57.4H457.7zM129.1 53.8H138.4V57.4H129.1zM271.7 53.8H274.8V61H271.7zM436 57.4H445.3V61H436zM135.3 57.4H138.4V61H135.3zM284.1 57.4H312V61H284.1zM150.8 57.4H160.1V61H150.8zM460.8 57.4H463.9V61H460.8zM339.9 57.4H395.7V61H339.9zM423.6 57.4H429.8V61H423.6zM141.5 57.4H144.6V61H141.5zM129.1 57.4H132.2V61H129.1zM113.6 57.4H122.9V61H113.6zM315.1 53.8H321.3V64.6H315.1zM445.3 61H451.5V64.6H445.3zM392.6 61H398.8V64.6H392.6zM420.5 61H432.9V64.6H420.5zM352.3 61H389.5V64.6H352.3zM290.3 61H312V64.6H290.3zM57.8 61H60.9V64.6H57.8zM228.3 61H231.4V64.6H228.3zM110.5 61H122.9V64.6H110.5zM343 61H346.1V64.6H343zM144.6 61H147.7V64.6H144.6zM129.1 61H138.4V64.6H129.1zM268.6 61H271.7V68.2H268.6zM147.7 64.6H150.8V68.2H147.7zM57.8 64.6H64V68.2H57.8zM414.3 64.6H420.5V68.2H414.3zM349.2 64.6H383.3V68.2H349.2zM299.6 64.6H315.1V68.2H299.6zM169.4 64.6H175.6V68.2H169.4zM110.5 64.6H126V68.2H110.5zM445.3 64.6H454.6V68.2H445.3zM290.3 64.6H296.5V68.2H290.3zM2 64.6H5.1V68.2H2zM132.2 64.6H138.4V68.2H132.2zM160.1 61H163.2V71.8H160.1zM401.9 64.6H405V71.8H401.9zM45.4 64.6H48.5V71.8H45.4zM417.4 68.2H420.5V71.8H417.4zM116.7 68.2H126V71.8H116.7zM442.2 68.2H448.4V71.8H442.2zM349.2 68.2H374V71.8H349.2zM262.4 68.2H265.5V71.8H262.4zM290.3 68.2H318.2V71.8H290.3zM135.3 68.2H141.5V71.8H135.3zM129.1 68.2H132.2V71.8H129.1zM166.3 68.2H172.5V71.8H166.3zM215.9 57.4H219V75.4H215.9zM395.7 68.2H398.8V75.4H395.7zM184.9 68.2H188V75.4H184.9zM110.5 68.2H113.6V75.4H110.5zM222.1 68.2H228.3V75.4H222.1zM429.8 68.2H432.9V75.4H429.8zM20.6 71.8H26.8V75.4H20.6zM445.3 71.8H448.4V75.4H445.3zM126 71.8H129.1V75.4H126zM287.2 71.8H318.2V75.4H287.2zM116.7 71.8H122.9V75.4H116.7zM271.7 71.8H277.9V75.4H271.7zM160.1 71.8H172.5V79H160.1zM352.3 71.8H374V79H352.3zM287.2 75.4H293.4V79H287.2zM215.9 75.4H231.4V79H215.9zM271.7 75.4H274.8V79H271.7zM426.7 75.4H429.8V79H426.7zM398.8 75.4H408.1V79H398.8zM141.5 75.4H144.6V79H141.5zM116.7 75.4H129.1V79H116.7zM302.7 75.4H321.3V79H302.7zM296.5 75.4H299.6V79H296.5zM234.5 75.4H240.7V82.6H234.5zM281 75.4H284.1V82.6H281zM147.7 79H150.8V82.6H147.7zM436 79H439.1V82.6H436zM426.7 79H432.9V82.6H426.7zM401.9 79H408.1V82.6H401.9zM370.9 79H374V82.6H370.9zM290.3 79H293.4V82.6H290.3zM163.2 79H178.7V82.6H163.2zM191.1 79H194.2V82.6H191.1zM352.3 79H367.8V82.6H352.3zM116.7 79H122.9V82.6H116.7zM442.2 79H445.3V82.6H442.2zM296.5 79H321.3V82.6H296.5zM153.9 61H157V86.2H153.9zM265.5 79H271.7V86.2H265.5zM215.9 79H228.3V86.2H215.9zM237.6 82.6H243.8V86.2H237.6zM277.9 82.6H318.2V86.2H277.9zM181.8 82.6H194.2V86.2H181.8zM175.6 82.6H178.7V86.2H175.6zM405 82.6H408.1V86.2H405zM231.4 82.6H234.5V86.2H231.4zM129.1 82.6H135.3V86.2H129.1zM358.5 82.6H377.1V86.2H358.5zM432.9 82.6H445.3V86.2H432.9zM138.4 82.6H141.5V86.2H138.4zM426.7 82.6H429.8V86.2H426.7zM57.8 82.6H60.9V86.2H57.8zM169.4 82.6H172.5V86.2H169.4zM398.8 82.6H401.9V89.8H398.8zM392.6 82.6H395.7V89.8H392.6zM265.5 86.2H318.2V89.8H265.5zM175.6 86.2H197.3V89.8H175.6zM259.3 86.2H262.4V89.8H259.3zM237.6 86.2H246.9V89.8H237.6zM370.9 86.2H377.1V89.8H370.9zM361.6 86.2H364.7V89.8H361.6zM203.5 86.2H234.5V89.8H203.5zM153.9 86.2H163.2V89.8H153.9zM166.3 86.2H172.5V89.8H166.3zM122.9 86.2H126V93.4H122.9zM423.6 89.8H426.7V93.4H423.6zM436 89.8H439.1V93.4H436zM101.2 89.8H107.4V93.4H101.2zM401.9 89.8H408.1V93.4H401.9zM147.7 89.8H191.1V93.4H147.7zM265.5 89.8H305.8V93.4H265.5zM445.3 89.8H448.4V93.4H445.3zM194.2 89.8H219V93.4H194.2zM355.4 89.8H374V93.4H355.4zM222.1 89.8H231.4V93.4H222.1zM234.5 89.8H250V93.4H234.5zM315.1 89.8H318.2V97H315.1zM256.2 89.8H262.4V97H256.2zM104.3 93.4H107.4V97H104.3zM439.1 93.4H442.2V97H439.1zM194.2 93.4H253.1V97H194.2zM355.4 93.4H361.6V97H355.4zM160.1 93.4H191.1V97H160.1zM144.6 93.4H157V97H144.6zM401.9 93.4H411.2V97H401.9zM432.9 93.4H436V97H432.9zM265.5 93.4H299.6V100.6H265.5zM370.9 93.4H374V100.6H370.9zM147.7 97H157V100.6H147.7zM122.9 97H126V100.6H122.9zM163.2 97H194.2V100.6H163.2zM129.1 97H141.5V100.6H129.1zM259.3 97H262.4V100.6H259.3zM436 97H442.2V100.6H436zM408.1 97H411.2V100.6H408.1zM104.3 97H110.5V100.6H104.3zM429.8 97H432.9V100.6H429.8zM398.8 97H405V100.6H398.8zM197.3 97H256.2V100.6H197.3zM389.5 97H392.6V104.2H389.5zM395.7 100.6H405V104.2H395.7zM132.2 100.6H141.5V104.2H132.2zM107.4 100.6H110.5V104.2H107.4zM482.5 100.6H485.6V104.2H482.5zM122.9 100.6H129.1V104.2H122.9zM197.3 100.6H277.9V104.2H197.3zM73.3 100.6H76.4V104.2H73.3zM432.9 100.6H442.2V104.2H432.9zM281 100.6H296.5V104.2H281zM175.6 100.6H194.2V104.2H175.6zM163.2 100.6H172.5V107.8H163.2zM150.8 100.6H157V107.8H150.8zM423.6 104.2H426.7V107.8H423.6zM259.3 104.2H271.7V107.8H259.3zM417.4 104.2H420.5V107.8H417.4zM442.2 104.2H445.3V107.8H442.2zM281 104.2H293.4V107.8H281zM398.8 104.2H408.1V107.8H398.8zM175.6 104.2H234.5V107.8H175.6zM451.5 104.2H457.7V107.8H451.5zM240.7 104.2H256.2V107.8H240.7zM429.8 104.2H432.9V107.8H429.8zM98.1 104.2H104.3V107.8H98.1zM411.2 104.2H414.3V111.4H411.2zM113.6 104.2H126V111.4H113.6zM274.8 104.2H277.9V111.4H274.8zM401.9 107.8H408.1V111.4H401.9zM423.6 107.8H439.1V111.4H423.6zM175.6 107.8H178.7V111.4H175.6zM240.7 107.8H265.5V111.4H240.7zM160.1 107.8H172.5V111.4H160.1zM54.7 107.8H57.8V111.4H54.7zM101.2 107.8H104.3V111.4H101.2zM268.6 107.8H271.7V111.4H268.6zM281 107.8H284.1V111.4H281zM181.8 107.8H237.6V111.4H181.8zM138.4 104.2H141.5V115H138.4zM144.6 107.8H157V115H144.6zM268.6 111.4H277.9V115H268.6zM160.1 111.4H265.5V115H160.1zM451.5 111.4H457.7V115H451.5zM408.1 111.4H411.2V115H408.1zM420.5 111.4H423.6V115H420.5zM110.5 111.4H116.7V115H110.5zM91.9 111.4H95V118.6H91.9zM432.9 111.4H436V118.6H432.9zM417.4 115H420.5V118.6H417.4zM271.7 115H274.8V118.6H271.7zM401.9 115H405V118.6H401.9zM110.5 115H119.8V118.6H110.5zM460.8 115H463.9V118.6H460.8zM426.7 115H429.8V118.6H426.7zM448.4 115H454.6V118.6H448.4zM144.6 115H265.5V118.6H144.6zM485.6 104.2H488.7V122.2H485.6zM122.9 111.4H126V122.2H122.9zM82.6 115H85.7V122.2H82.6zM181.8 118.6H203.5V122.2H181.8zM116.7 118.6H119.8V122.2H116.7zM463.9 118.6H467V122.2H463.9zM411.2 118.6H414.3V122.2H411.2zM110.5 118.6H113.6V122.2H110.5zM451.5 118.6H460.8V122.2H451.5zM144.6 118.6H178.7V122.2H144.6zM237.6 118.6H240.7V122.2H237.6zM138.4 118.6H141.5V122.2H138.4zM253.1 118.6H256.2V122.2H253.1zM423.6 118.6H429.8V122.2H423.6zM206.6 118.6H234.5V122.2H206.6zM110.5 122.2H126V125.8H110.5zM101.2 122.2H104.3V125.8H101.2zM222.1 122.2H225.2V125.8H222.1zM439.1 115H442.2V129.4H439.1zM243.8 118.6H246.9V129.4H243.8zM451.5 122.2H454.6V129.4H451.5zM460.8 122.2H463.9V129.4H460.8zM426.7 122.2H429.8V129.4H426.7zM144.6 122.2H219V129.4H144.6zM91.9 125.8H95V129.4H91.9zM126 125.8H129.1V129.4H126zM110.5 125.8H122.9V129.4H110.5zM228.3 122.2H234.5V133H228.3zM95 129.4H98.1V133H95zM250 129.4H253.1V133H250zM144.6 129.4H212.8V133H144.6zM107.4 129.4H119.8V133H107.4zM101.2 129.4H104.3V136.6H101.2zM113.6 133H119.8V136.6H113.6zM200.4 133H206.6V136.6H200.4zM107.4 133H110.5V136.6H107.4zM246.9 133H250V136.6H246.9zM150.8 133H197.3V136.6H150.8zM454.6 133H457.7V136.6H454.6zM228.3 133H231.4V136.6H228.3zM144.6 133H147.7V136.6H144.6zM64 133H67.1V140.2H64zM209.7 133H212.8V140.2H209.7zM141.5 136.6H163.2V140.2H141.5zM166.3 136.6H206.6V140.2H166.3zM243.8 136.6H250V140.2H243.8zM104.3 136.6H110.5V140.2H104.3zM135.3 136.6H138.4V143.8H135.3zM265.5 136.6H268.6V143.8H265.5zM157 140.2H178.7V143.8H157zM451.5 140.2H454.6V143.8H451.5zM141.5 140.2H153.9V143.8H141.5zM184.9 140.2H203.5V143.8H184.9zM107.4 140.2H113.6V143.8H107.4zM457.7 143.8H460.8V147.4H457.7zM98.1 143.8H101.2V147.4H98.1zM188 143.8H191.1V147.4H188zM141.5 143.8H178.7V147.4H141.5zM194.2 143.8H203.5V147.4H194.2zM194.2 147.4H200.4V151H194.2zM126 147.4H132.2V151H126zM175.6 147.4H191.1V151H175.6zM141.5 147.4H144.6V151H141.5zM147.7 147.4H172.5V151H147.7zM442.2 147.4H445.3V151H442.2zM107.4 143.8H119.8V154.6H107.4zM259.3 147.4H262.4V154.6H259.3zM439.1 151H442.2V154.6H439.1zM175.6 151H197.3V154.6H175.6zM141.5 151H172.5V154.6H141.5zM73.3 151H76.4V154.6H73.3zM129.1 151H138.4V154.6H129.1zM250 151H253.1V158.2H250zM243.8 154.6H246.9V158.2H243.8zM445.3 154.6H448.4V158.2H445.3zM107.4 154.6H110.5V158.2H107.4zM426.7 154.6H429.8V158.2H426.7zM129.1 154.6H144.6V158.2H129.1zM188 154.6H197.3V158.2H188zM147.7 154.6H150.8V161.8H147.7zM153.9 154.6H184.9V161.8H153.9zM113.6 154.6H122.9V161.8H113.6zM188 158.2H200.4V161.8H188zM253.1 158.2H256.2V161.8H253.1zM243.8 158.2H250V161.8H243.8zM132.2 158.2H144.6V161.8H132.2zM451.5 151H454.6V165.4H451.5zM126 158.2H129.1V165.4H126zM259.3 158.2H262.4V165.4H259.3zM212.8 158.2H215.9V165.4H212.8zM150.8 161.8H166.3V165.4H150.8zM132.2 161.8H147.7V165.4H132.2zM113.6 161.8H116.7V165.4H113.6zM169.4 161.8H200.4V165.4H169.4zM436 158.2H445.3V169H436zM194.2 165.4H200.4V169H194.2zM184.9 165.4H191.1V169H184.9zM126 165.4H181.8V169H126zM243.8 165.4H246.9V172.6H243.8zM463.9 165.4H467V172.6H463.9zM250 169H256.2V172.6H250zM122.9 169H191.1V172.6H122.9zM206.6 169H209.7V172.6H206.6zM436 169H448.4V172.6H436zM194.2 169H197.3V172.6H194.2zM436 172.6H439.1V176.2H436zM250 172.6H253.1V176.2H250zM445.3 172.6H448.4V176.2H445.3zM225.2 172.6H228.3V176.2H225.2zM122.9 172.6H169.4V176.2H122.9zM172.5 172.6H188V176.2H172.5zM107.4 172.6H110.5V179.8H107.4zM253.1 176.2H256.2V179.8H253.1zM116.7 176.2H184.9V179.8H116.7zM451.5 176.2H457.7V179.8H451.5zM442.2 176.2H445.3V179.8H442.2zM116.7 179.8H178.7V183.4H116.7zM439.1 179.8H442.2V187H439.1zM256.2 179.8H259.3V187H256.2zM460.8 179.8H463.9V187H460.8zM445.3 183.4H448.4V187H445.3zM237.6 183.4H240.7V187H237.6zM110.5 183.4H172.5V187H110.5zM460.8 187H467V190.6H460.8zM442.2 187H448.4V190.6H442.2zM150.8 187H172.5V190.6H150.8zM250 187H253.1V190.6H250zM234.5 187H240.7V190.6H234.5zM482.5 187H485.6V190.6H482.5zM107.4 187H147.7V190.6H107.4zM243.8 190.6H246.9V194.2H243.8zM463.9 190.6H467V194.2H463.9zM442.2 190.6H445.3V194.2H442.2zM457.7 190.6H460.8V194.2H457.7zM234.5 190.6H237.6V194.2H234.5zM104.3 190.6H163.2V194.2H104.3zM166.3 190.6H172.5V194.2H166.3zM122.9 194.2H160.1V197.8H122.9zM460.8 194.2H467V197.8H460.8zM70.2 194.2H73.3V197.8H70.2zM104.3 194.2H119.8V201.4H104.3zM448.4 197.8H451.5V201.4H448.4zM122.9 197.8H132.2V201.4H122.9zM463.9 197.8H467V201.4H463.9zM473.2 197.8H476.3V201.4H473.2zM135.3 197.8H160.1V201.4H135.3zM231.4 194.2H234.5V205H231.4zM470.1 201.4H479.4V205H470.1zM107.4 201.4H153.9V208.6H107.4zM157 201.4H160.1V208.6H157zM485.6 205H488.7V208.6H485.6zM467 205H482.5V208.6H467zM91.9 201.4H95V212.2H91.9zM153.9 208.6H160.1V212.2H153.9zM482.5 208.6H485.6V212.2H482.5zM107.4 208.6H147.7V212.2H107.4zM101.2 208.6H104.3V215.8H101.2zM85.7 212.2H88.8V215.8H85.7zM73.3 212.2H76.4V215.8H73.3zM107.4 212.2H141.5V215.8H107.4zM98.1 215.8H135.3V219.4H98.1zM138.4 215.8H141.5V219.4H138.4zM160.1 215.8H163.2V219.4H160.1zM203.5 215.8H206.6V219.4H203.5zM51.6 215.8H54.7V223H51.6zM119.8 219.4H144.6V223H119.8zM98.1 219.4H116.7V223H98.1zM234.5 219.4H237.6V223H234.5zM197.3 219.4H200.4V226.6H197.3zM209.7 219.4H212.8V226.6H209.7zM119.8 223H126V226.6H119.8zM98.1 223H107.4V226.6H98.1zM129.1 223H144.6V226.6H129.1zM110.5 223H116.7V226.6H110.5zM88.8 223H91.9V233.8H88.8zM95 226.6H144.6V233.8H95zM60.9 230.2H64V237.4H60.9zM70.2 233.8H73.3V237.4H70.2zM39.2 233.8H42.3V237.4H39.2zM116.7 233.8H144.6V237.4H116.7zM95 233.8H113.6V241H95zM82.6 237.4H85.7V241H82.6zM116.7 237.4H119.8V241H116.7zM122.9 237.4H141.5V244.6H122.9zM76.4 241H79.5V244.6H76.4zM98.1 241H119.8V244.6H98.1zM166.3 244.6H169.4V248.2H166.3zM98.1 244.6H141.5V248.2H98.1zM160.1 244.6H163.2V248.2H160.1zM73.3 244.6H76.4V248.2H73.3zM200.4 244.6H203.5V248.2H200.4zM95 248.2H144.6V251.8H95zM20.6 248.2H23.7V251.8H20.6zM14.4 248.2H17.5V251.8H14.4zM119.8 251.8H144.6V255.4H119.8zM95 251.8H116.7V255.4H95zM147.7 251.8H150.8V259H147.7zM91.9 255.4H141.5V259H91.9zM91.9 259H95V262.6H91.9zM101.2 259H150.8V262.6H101.2zM191.1 251.8H194.2V266.2H191.1zM104.3 262.6H113.6V266.2H104.3zM116.7 262.6H160.1V266.2H116.7zM82.6 266.2H85.7V269.8H82.6zM116.7 266.2H157V269.8H116.7zM107.4 266.2H113.6V269.8H107.4zM110.5 269.8H157V273.4H110.5zM175.6 269.8H178.7V273.4H175.6zM160.1 269.8H163.2V277H160.1zM166.3 273.4H169.4V277H166.3zM141.5 273.4H157V277H141.5zM119.8 273.4H138.4V280.6H119.8zM70.2 273.4H73.3V280.6H70.2zM110.5 273.4H116.7V280.6H110.5zM141.5 277H175.6V280.6H141.5zM178.7 273.4H181.8V284.2H178.7zM107.4 280.6H110.5V284.2H107.4zM126 280.6H175.6V284.2H126zM144.6 284.2H181.8V287.8H144.6zM126 284.2H129.1V287.8H126zM132.2 284.2H138.4V287.8H132.2zM119.8 280.6H122.9V291.4H119.8zM79.5 280.6H82.6V291.4H79.5zM281 284.2H287.2V291.4H281zM126 287.8H153.9V291.4H126zM160.1 287.8H181.8V291.4H160.1zM122.9 291.4H126V295H122.9zM160.1 291.4H178.7V295H160.1zM73.3 291.4H76.4V298.6H73.3zM132.2 291.4H153.9V298.6H132.2zM157 295H178.7V298.6H157zM98.1 295H101.2V298.6H98.1zM181.8 295H184.9V298.6H181.8zM110.5 291.4H113.6V302.2H110.5zM448.4 298.6H454.6V302.2H448.4zM98.1 298.6H104.3V302.2H98.1zM141.5 298.6H163.2V305.8H141.5zM95 302.2H98.1V305.8H95zM166.3 298.6H178.7V309.4H166.3zM181.8 302.2H188V309.4H181.8zM312 302.2H318.2V309.4H312zM144.6 305.8H163.2V309.4H144.6zM144.6 309.4H188V313H144.6zM191.1 309.4H194.2V313H191.1zM327.5 309.4H333.7V313H327.5zM116.7 309.4H119.8V320.2H116.7zM147.7 313H194.2V320.2H147.7zM147.7 320.2H197.3V323.8H147.7zM150.8 323.8H197.3V327.4H150.8zM358.5 323.8H361.6V331H358.5zM206.6 327.4H209.7V331H206.6zM150.8 327.4H157V331H150.8zM166.3 327.4H197.3V334.6H166.3zM160.1 327.4H163.2V334.6H160.1zM147.7 331H157V334.6H147.7zM200.4 331H203.5V338.2H200.4zM147.7 334.6H153.9V338.2H147.7zM163.2 334.6H197.3V338.2H163.2zM188 338.2H197.3V345.4H188zM172.5 338.2H184.9V345.4H172.5zM200.4 341.8H203.5V345.4H200.4zM172.5 345.4H206.6V349H172.5zM172.5 349H203.5V352.6H172.5zM206.6 349H209.7V352.6H206.6zM181.8 352.6H203.5V356.2H181.8zM172.5 352.6H178.7V356.2H172.5zM181.8 356.2H188V363.4H181.8zM191.1 356.2H206.6V363.4H191.1zM2 359.8H5.1V367H2zM184.9 363.4H209.7V367H184.9zM175.6 356.2H178.7V370.6H175.6zM188 367H209.7V370.6H188zM54.7 367H57.8V370.6H54.7zM2 367H11.3V370.6H2zM194.2 370.6H212.8V374.2H194.2zM2 370.6H5.1V374.2H2zM51.6 370.6H57.8V374.2H51.6zM95 374.2H98.1V377.8H95zM197.3 374.2H215.9V377.8H197.3zM14.4 374.2H23.7V377.8H14.4zM82.6 377.8H85.7V381.4H82.6zM98.1 377.8H101.2V381.4H98.1zM197.3 377.8H212.8V381.4H197.3zM26.8 377.8H33V381.4H26.8zM88.8 377.8H91.9V381.4H88.8zM191.1 374.2H194.2V385H191.1zM26.8 381.4H29.9V385H26.8zM197.3 381.4H203.5V385H197.3zM33 381.4H36.1V385H33zM206.6 381.4H215.9V385H206.6zM8.2 385H14.4V388.6H8.2zM45.4 385H48.5V388.6H45.4zM60.9 385H64V388.6H60.9zM76.4 374.2H79.5V392.2H76.4zM197.3 385H219V392.2H197.3zM51.6 388.6H54.7V392.2H51.6zM91.9 388.6H98.1V392.2H91.9zM104.3 388.6H110.5V392.2H104.3zM98.1 392.2H107.4V395.8H98.1zM203.5 392.2H222.1V395.8H203.5zM70.2 392.2H73.3V399.4H70.2zM116.7 395.8H119.8V399.4H116.7zM203.5 395.8H219V399.4H203.5zM101.2 395.8H104.3V399.4H101.2zM48.5 395.8H57.8V399.4H48.5zM39.2 395.8H45.4V399.4H39.2zM42.3 399.4H45.4V403H42.3zM203.5 399.4H215.9V403H203.5zM122.9 399.4H129.1V403H122.9zM51.6 399.4H57.8V403H51.6zM126 403H132.2V406.6H126zM175.6 403H178.7V406.6H175.6zM54.7 403H57.8V406.6H54.7zM67.1 403H70.2V406.6H67.1zM144.6 403H147.7V406.6H144.6zM91.9 403H98.1V406.6H91.9zM73.3 403H76.4V406.6H73.3zM85.7 392.2H88.8V410.2H85.7zM203.5 403H219V410.2H203.5zM169.4 406.6H181.8V410.2H169.4zM150.8 406.6H163.2V410.2H150.8zM135.3 403H138.4V413.8H135.3zM119.8 410.2H122.9V413.8H119.8zM67.1 410.2H70.2V413.8H67.1zM178.7 410.2H184.9V413.8H178.7zM113.6 410.2H116.7V413.8H113.6zM203.5 410.2H222.1V413.8H203.5zM76.4 410.2H79.5V416.5H76.4zM98.1 413.8H101.2V416.5H98.1zM181.8 413.8H184.9V416.5H181.8zM206.6 413.8H222.1V416.5H206.6z"/>
<path fill="#ffb914" d="M305.8 25H308.9V28.6H305.8zM398.8 25H408.1V28.6H398.8zM429.8 25H432.9V28.6H429.8zM321.3 25H339.9V32.2H321.3zM395.7 28.6H401.9V32.2H395.7zM343 32.2H349.2V35.8H343zM327.5 32.2H339.9V35.8H327.5zM408.1 32.2H411.2V39.4H408.1zM343 35.8H346.1V39.4H343zM336.8 35.8H339.9V39.4H336.8zM327.5 35.8H333.7V43H327.5zM405 39.4H411.2V43H405zM308.9 39.4H312V43H308.9zM336.8 39.4H346.1V46.6H336.8zM330.6 43H333.7V46.6H330.6zM408.1 43H411.2V46.6H408.1zM305.8 43H312V46.6H305.8zM364.7 43H367.8V46.6H364.7zM401.9 43H405V50.2H401.9zM364.7 46.6H370.9V50.2H364.7zM389.5 46.6H392.6V50.2H389.5zM333.7 46.6H346.1V50.2H333.7zM321.3 46.6H330.6V53.8H321.3zM389.5 50.2H395.7V53.8H389.5zM336.8 50.2H343V53.8H336.8zM305.8 50.2H312V53.8H305.8zM367.8 50.2H370.9V53.8H367.8zM305.8 53.8H315.1V57.4H305.8zM321.3 53.8H339.9V61H321.3zM312 57.4H315.1V64.6H312zM321.3 61H343V64.6H321.3zM442.2 61H445.3V64.6H442.2zM389.5 61H392.6V64.6H389.5zM436 61H439.1V64.6H436zM346.1 61H352.3V64.6H346.1zM315.1 64.6H349.2V68.2H315.1zM420.5 64.6H423.6V68.2H420.5zM429.8 64.6H432.9V68.2H429.8zM383.3 64.6H395.7V68.2H383.3zM296.5 64.6H299.6V68.2H296.5zM436 64.6H445.3V68.2H436zM318.2 68.2H349.2V71.8H318.2zM420.5 68.2H426.7V71.8H420.5zM374 68.2H386.4V71.8H374zM392.6 68.2H395.7V71.8H392.6zM432.9 68.2H439.1V75.4H432.9zM401.9 71.8H405V75.4H401.9zM318.2 71.8H327.5V75.4H318.2zM423.6 71.8H426.7V75.4H423.6zM374 71.8H380.2V79H374zM429.8 75.4H442.2V79H429.8zM389.5 75.4H398.8V79H389.5zM330.6 71.8H352.3V82.6H330.6zM321.3 75.4H327.5V82.6H321.3zM389.5 79H401.9V82.6H389.5zM374 79H383.3V82.6H374zM432.9 79H436V82.6H432.9zM367.8 79H370.9V82.6H367.8zM439.1 79H442.2V82.6H439.1zM377.1 82.6H383.3V86.2H377.1zM318.2 82.6H358.5V86.2H318.2zM395.7 82.6H398.8V89.8H395.7zM432.9 86.2H439.1V89.8H432.9zM318.2 86.2H361.6V89.8H318.2zM364.7 86.2H370.9V89.8H364.7zM389.5 86.2H392.6V89.8H389.5zM377.1 86.2H386.4V89.8H377.1zM401.9 86.2H408.1V89.8H401.9zM318.2 89.8H355.4V93.4H318.2zM374 89.8H386.4V93.4H374zM305.8 89.8H315.1V93.4H305.8zM392.6 89.8H401.9V97H392.6zM445.3 93.4H448.4V97H445.3zM299.6 93.4H315.1V97H299.6zM318.2 93.4H327.5V97H318.2zM361.6 93.4H370.9V97H361.6zM436 93.4H439.1V97H436zM330.6 93.4H355.4V97H330.6zM380.2 93.4H383.3V100.6H380.2zM374 93.4H377.1V100.6H374zM386.4 97H389.5V100.6H386.4zM336.8 97H370.9V100.6H336.8zM299.6 97H327.5V100.6H299.6zM395.7 97H398.8V100.6H395.7zM194.2 97H197.3V104.2H194.2zM445.3 97H451.5V104.2H445.3zM339.9 100.6H349.2V104.2H339.9zM355.4 100.6H361.6V104.2H355.4zM364.7 100.6H377.1V104.2H364.7zM380.2 100.6H389.5V104.2H380.2zM392.6 100.6H395.7V104.2H392.6zM296.5 100.6H324.4V104.2H296.5zM330.6 97H333.7V107.8H330.6zM445.3 104.2H448.4V107.8H445.3zM339.9 104.2H343V107.8H339.9zM293.4 104.2H324.4V107.8H293.4zM432.9 104.2H442.2V107.8H432.9zM364.7 104.2H367.8V107.8H364.7zM374 104.2H395.7V107.8H374zM277.9 100.6H281V111.4H277.9zM439.1 107.8H448.4V111.4H439.1zM374 107.8H380.2V111.4H374zM284.1 107.8H324.4V111.4H284.1zM451.5 107.8H457.7V111.4H451.5zM383.3 107.8H389.5V111.4H383.3zM395.7 107.8H401.9V111.4H395.7zM367.8 107.8H370.9V111.4H367.8zM417.4 107.8H420.5V111.4H417.4zM265.5 107.8H268.6V115H265.5zM277.9 111.4H302.7V115H277.9zM386.4 111.4H389.5V115H386.4zM423.6 111.4H429.8V115H423.6zM315.1 111.4H321.3V115H315.1zM308.9 111.4H312V115H308.9zM414.3 111.4H420.5V115H414.3zM436 111.4H445.3V115H436zM448.4 111.4H451.5V115H448.4zM405 111.4H408.1V115H405zM355.4 104.2H358.5V118.6H355.4zM374 111.4H377.1V118.6H374zM398.8 115H401.9V118.6H398.8zM305.8 115H308.9V118.6H305.8zM318.2 115H321.3V118.6H318.2zM423.6 115H426.7V118.6H423.6zM265.5 115H271.7V118.6H265.5zM274.8 115H287.2V118.6H274.8zM178.7 118.6H181.8V122.2H178.7zM460.8 118.6H463.9V122.2H460.8zM240.7 118.6H243.8V122.2H240.7zM346.1 118.6H349.2V122.2H346.1zM234.5 118.6H237.6V122.2H234.5zM246.9 118.6H253.1V122.2H246.9zM398.8 118.6H405V122.2H398.8zM442.2 118.6H451.5V122.2H442.2zM203.5 118.6H206.6V122.2H203.5zM256.2 118.6H281V122.2H256.2zM436 118.6H439.1V122.2H436zM417.4 118.6H420.5V122.2H417.4zM290.3 115H302.7V125.8H290.3zM284.1 118.6H287.2V125.8H284.1zM315.1 118.6H318.2V125.8H315.1zM339.9 122.2H355.4V125.8H339.9zM225.2 122.2H228.3V125.8H225.2zM219 122.2H222.1V125.8H219zM454.6 122.2H457.7V125.8H454.6zM405 122.2H417.4V125.8H405zM246.9 122.2H281V125.8H246.9zM442.2 122.2H445.3V125.8H442.2zM234.5 122.2H243.8V125.8H234.5zM423.6 122.2H426.7V125.8H423.6zM429.8 122.2H436V125.8H429.8zM364.7 122.2H367.8V129.4H364.7zM296.5 125.8H302.7V129.4H296.5zM219 125.8H228.3V129.4H219zM333.7 125.8H336.8V129.4H333.7zM237.6 125.8H243.8V129.4H237.6zM246.9 125.8H287.2V129.4H246.9zM339.9 125.8H358.5V129.4H339.9zM405 125.8H414.3V129.4H405zM290.3 125.8H293.4V133H290.3zM259.3 129.4H268.6V133H259.3zM436 129.4H442.2V133H436zM253.1 129.4H256.2V133H253.1zM271.7 129.4H287.2V133H271.7zM364.7 129.4H370.9V133H364.7zM237.6 129.4H250V133H237.6zM343 129.4H352.3V133H343zM212.8 129.4H228.3V136.6H212.8zM231.4 133H246.9V136.6H231.4zM271.7 133H277.9V136.6H271.7zM346.1 133H352.3V136.6H346.1zM439.1 133H442.2V136.6H439.1zM250 133H268.6V136.6H250zM451.5 129.4H454.6V140.2H451.5zM206.6 133H209.7V140.2H206.6zM250 136.6H265.5V140.2H250zM343 136.6H349.2V140.2H343zM212.8 136.6H243.8V140.2H212.8zM274.8 136.6H281V140.2H274.8zM268.6 136.6H271.7V143.8H268.6zM203.5 140.2H265.5V143.8H203.5zM346.1 140.2H349.2V143.8H346.1zM448.4 140.2H451.5V143.8H448.4zM327.5 129.4H330.6V147.4H327.5zM296.5 140.2H299.6V147.4H296.5zM203.5 143.8H228.3V147.4H203.5zM442.2 143.8H445.3V147.4H442.2zM234.5 143.8H274.8V147.4H234.5zM277.9 140.2H281V151H277.9zM219 147.4H228.3V151H219zM240.7 147.4H243.8V151H240.7zM200.4 147.4H215.9V151H200.4zM432.9 147.4H436V151H432.9zM246.9 147.4H259.3V151H246.9zM439.1 147.4H442.2V151H439.1zM262.4 147.4H274.8V151H262.4zM172.5 147.4H175.6V154.6H172.5zM234.5 147.4H237.6V154.6H234.5zM445.3 147.4H451.5V154.6H445.3zM432.9 151H439.1V154.6H432.9zM426.7 151H429.8V154.6H426.7zM262.4 151H271.7V154.6H262.4zM243.8 151H250V154.6H243.8zM197.3 151H228.3V154.6H197.3zM253.1 151H259.3V154.6H253.1zM305.8 151H308.9V158.2H305.8zM253.1 154.6H271.7V158.2H253.1zM246.9 154.6H250V158.2H246.9zM432.9 154.6H442.2V158.2H432.9zM197.3 154.6H234.5V158.2H197.3zM184.9 154.6H188V161.8H184.9zM250 158.2H253.1V161.8H250zM215.9 158.2H243.8V161.8H215.9zM299.6 158.2H305.8V161.8H299.6zM256.2 158.2H259.3V161.8H256.2zM445.3 158.2H448.4V165.4H445.3zM200.4 158.2H212.8V165.4H200.4zM262.4 158.2H271.7V165.4H262.4zM290.3 158.2H293.4V165.4H290.3zM215.9 161.8H259.3V165.4H215.9zM299.6 161.8H302.7V165.4H299.6zM246.9 165.4H262.4V169H246.9zM200.4 165.4H243.8V169H200.4zM284.1 165.4H287.2V169H284.1zM445.3 165.4H451.5V169H445.3zM191.1 165.4H194.2V172.6H191.1zM246.9 169H250V172.6H246.9zM287.2 169H290.3V172.6H287.2zM293.4 169H296.5V172.6H293.4zM448.4 169H451.5V172.6H448.4zM256.2 169H259.3V172.6H256.2zM197.3 169H206.6V172.6H197.3zM209.7 169H243.8V172.6H209.7zM271.7 172.6H274.8V176.2H271.7zM228.3 172.6H234.5V176.2H228.3zM212.8 172.6H225.2V176.2H212.8zM442.2 172.6H445.3V176.2H442.2zM237.6 172.6H250V176.2H237.6zM253.1 172.6H259.3V176.2H253.1zM188 172.6H209.7V176.2H188zM305.8 172.6H308.9V179.8H305.8zM284.1 172.6H287.2V179.8H284.1zM231.4 176.2H253.1V179.8H231.4zM436 176.2H442.2V179.8H436zM212.8 176.2H228.3V179.8H212.8zM184.9 176.2H209.7V179.8H184.9zM256.2 176.2H259.3V179.8H256.2zM265.5 176.2H274.8V183.4H265.5zM290.3 176.2H293.4V183.4H290.3zM432.9 179.8H439.1V183.4H432.9zM178.7 179.8H256.2V183.4H178.7zM259.3 183.4H262.4V187H259.3zM240.7 183.4H256.2V187H240.7zM188 183.4H237.6V187H188zM436 183.4H439.1V187H436zM172.5 183.4H184.9V190.6H172.5zM305.8 187H308.9V190.6H305.8zM188 187H234.5V190.6H188zM436 187H442.2V190.6H436zM253.1 187H262.4V190.6H253.1zM240.7 187H246.9V190.6H240.7zM445.3 190.6H448.4V194.2H445.3zM460.8 190.6H463.9V194.2H460.8zM237.6 190.6H243.8V194.2H237.6zM250 190.6H256.2V194.2H250zM172.5 190.6H234.5V194.2H172.5zM163.2 190.6H166.3V194.2H163.2zM250 194.2H253.1V197.8H250zM160.1 194.2H197.3V197.8H160.1zM200.4 194.2H231.4V201.4H200.4zM442.2 194.2H445.3V201.4H442.2zM234.5 194.2H246.9V201.4H234.5zM460.8 197.8H463.9V201.4H460.8zM160.1 197.8H175.6V201.4H160.1zM178.7 197.8H197.3V201.4H178.7zM389.5 197.8H392.6V205H389.5zM160.1 201.4H231.4V205H160.1zM457.7 201.4H463.9V205H457.7zM234.5 201.4H243.8V205H234.5zM448.4 201.4H451.5V205H448.4zM153.9 201.4H157V208.6H153.9zM271.7 205H281V208.6H271.7zM160.1 205H243.8V208.6H160.1zM448.4 205H457.7V208.6H448.4zM147.7 208.6H153.9V212.2H147.7zM274.8 208.6H277.9V212.2H274.8zM181.8 208.6H225.2V212.2H181.8zM485.6 208.6H490V212.2H485.6zM228.3 208.6H243.8V212.2H228.3zM470.1 208.6H482.5V212.2H470.1zM160.1 208.6H178.7V212.2H160.1zM250 201.4H253.1V215.8H250zM181.8 212.2H200.4V215.8H181.8zM482.5 212.2H485.6V215.8H482.5zM203.5 212.2H240.7V215.8H203.5zM141.5 212.2H169.4V215.8H141.5zM256.2 212.2H259.3V215.8H256.2zM488.7 212.2H490V219.4H488.7zM172.5 212.2H178.7V219.4H172.5zM141.5 215.8H160.1V219.4H141.5zM163.2 215.8H169.4V219.4H163.2zM181.8 215.8H203.5V219.4H181.8zM206.6 215.8H240.7V219.4H206.6zM237.6 219.4H240.7V223H237.6zM212.8 219.4H234.5V223H212.8zM268.6 219.4H274.8V223H268.6zM144.6 219.4H172.5V226.6H144.6zM175.6 219.4H197.3V226.6H175.6zM200.4 219.4H209.7V226.6H200.4zM116.7 219.4H119.8V226.6H116.7zM107.4 223H110.5V226.6H107.4zM126 223H129.1V226.6H126zM212.8 223H243.8V226.6H212.8zM228.3 226.6H243.8V230.2H228.3zM144.6 226.6H222.1V230.2H144.6zM144.6 230.2H225.2V233.8H144.6zM228.3 230.2H231.4V233.8H228.3zM144.6 233.8H231.4V237.4H144.6zM219 237.4H222.1V241H219zM225.2 237.4H228.3V244.6H225.2zM181.8 237.4H212.8V244.6H181.8zM141.5 237.4H178.7V244.6H141.5zM141.5 244.6H160.1V248.2H141.5zM203.5 244.6H215.9V248.2H203.5zM463.9 244.6H470.1V248.2H463.9zM169.4 244.6H200.4V248.2H169.4zM163.2 244.6H166.3V248.2H163.2zM144.6 248.2H206.6V251.8H144.6zM460.8 248.2H467V251.8H460.8zM209.7 248.2H215.9V255.4H209.7zM460.8 251.8H463.9V255.4H460.8zM144.6 251.8H147.7V255.4H144.6zM194.2 251.8H206.6V255.4H194.2zM116.7 251.8H119.8V255.4H116.7zM141.5 255.4H147.7V259H141.5zM194.2 255.4H222.1V259H194.2zM150.8 251.8H191.1V262.6H150.8zM194.2 259H212.8V266.2H194.2zM160.1 262.6H191.1V266.2H160.1zM160.1 266.2H206.6V269.8H160.1zM209.7 266.2H212.8V273.4H209.7zM184.9 269.8H206.6V273.4H184.9zM178.7 269.8H181.8V273.4H178.7zM163.2 269.8H175.6V273.4H163.2zM194.2 273.4H212.8V277H194.2zM181.8 273.4H191.1V277H181.8zM169.4 273.4H178.7V277H169.4zM163.2 273.4H166.3V277H163.2zM138.4 273.4H141.5V280.6H138.4zM250 277H253.1V284.2H250zM175.6 277H178.7V284.2H175.6zM181.8 277H203.5V287.8H181.8zM138.4 284.2H141.5V287.8H138.4zM129.1 284.2H132.2V287.8H129.1zM212.8 284.2H215.9V291.4H212.8zM181.8 287.8H206.6V291.4H181.8zM178.7 291.4H206.6V295H178.7zM178.7 295H181.8V298.6H178.7zM184.9 295H209.7V298.6H184.9zM178.7 298.6H212.8V302.2H178.7zM178.7 302.2H181.8V309.4H178.7zM188 302.2H212.8V309.4H188zM188 309.4H191.1V313H188zM194.2 309.4H212.8V316.6H194.2zM194.2 316.6H209.7V320.2H194.2zM197.3 320.2H212.8V327.4H197.3zM231.4 320.2H234.5V327.4H231.4zM209.7 327.4H215.9V331H209.7zM197.3 327.4H206.6V331H197.3zM206.6 331H215.9V334.6H206.6zM197.3 331H200.4V338.2H197.3zM206.6 334.6H219V338.2H206.6zM197.3 338.2H222.1V341.8H197.3zM184.9 338.2H188V345.4H184.9zM203.5 341.8H222.1V345.4H203.5zM197.3 341.8H200.4V345.4H197.3zM206.6 345.4H219V349H206.6zM203.5 349H206.6V352.6H203.5zM209.7 349H219V352.6H209.7zM203.5 352.6H219V356.2H203.5zM225.2 352.6H228.3V359.8H225.2zM206.6 356.2H222.1V359.8H206.6zM188 356.2H191.1V363.4H188zM225.2 359.8H231.4V363.4H225.2zM206.6 359.8H219V363.4H206.6zM14.4 363.4H17.5V370.6H14.4zM209.7 363.4H219V370.6H209.7zM225.2 363.4H228.3V374.2H225.2zM212.8 370.6H219V374.2H212.8zM5.1 370.6H8.2V374.2H5.1zM11.3 370.6H17.5V374.2H11.3zM234.5 367H237.6V377.8H234.5zM215.9 374.2H228.3V377.8H215.9zM2 374.2H5.1V377.8H2zM11.3 374.2H14.4V377.8H11.3zM5.1 377.8H8.2V381.4H5.1zM231.4 377.8H237.6V381.4H231.4zM212.8 377.8H228.3V381.4H212.8zM23.7 377.8H26.8V381.4H23.7zM231.4 381.4H234.5V385H231.4zM215.9 381.4H228.3V385H215.9zM14.4 381.4H17.5V385H14.4zM82.6 381.4H85.7V385H82.6zM36.1 381.4H39.2V385H36.1zM2 381.4H8.2V385H2zM98.1 381.4H104.3V388.6H98.1zM26.8 385H29.9V388.6H26.8zM246.9 385H250V388.6H246.9zM5.1 385H8.2V388.6H5.1zM219 385H231.4V388.6H219zM85.7 385H88.8V392.2H85.7zM110.5 388.6H113.6V392.2H110.5zM98.1 388.6H101.2V392.2H98.1zM45.4 388.6H48.5V392.2H45.4zM219 388.6H225.2V392.2H219zM36.1 388.6H39.2V392.2H36.1zM11.3 388.6H14.4V392.2H11.3zM36.1 392.2H45.4V395.8H36.1zM54.7 392.2H57.8V395.8H54.7zM231.4 392.2H234.5V395.8H231.4zM222.1 392.2H225.2V395.8H222.1zM64 392.2H67.1V395.8H64zM76.4 392.2H79.5V395.8H76.4zM95 392.2H98.1V395.8H95zM113.6 395.8H116.7V399.4H113.6zM219 395.8H225.2V399.4H219zM119.8 399.4H122.9V403H119.8zM95 399.4H98.1V403H95zM215.9 399.4H225.2V403H215.9zM237.6 403H240.7V406.6H237.6zM42.3 403H45.4V406.6H42.3zM122.9 403H126V406.6H122.9zM48.5 403H54.7V406.6H48.5zM110.5 399.4H113.6V410.2H110.5zM219 403H228.3V410.2H219zM163.2 406.6H169.4V410.2H163.2zM237.6 406.6H243.8V410.2H237.6zM147.7 406.6H150.8V410.2H147.7zM57.8 406.6H64V410.2H57.8zM76.4 406.6H79.5V410.2H76.4zM82.6 406.6H85.7V410.2H82.6zM104.3 406.6H107.4V410.2H104.3zM51.6 406.6H54.7V413.8H51.6zM132.2 410.2H135.3V413.8H132.2zM138.4 410.2H141.5V413.8H138.4zM150.8 410.2H178.7V413.8H150.8zM79.5 410.2H85.7V413.8H79.5zM222.1 410.2H228.3V416.5H222.1zM113.6 413.8H116.7V416.5H113.6zM91.9 413.8H98.1V416.5H91.9zM160.1 413.8H181.8V416.5H160.1zM150.8 413.8H153.9V416.5H150.8z"/>
<path fill="#ff7d0f" d="M420.5 25H423.6V28.6H420.5zM330.6 46.6H333.7V50.2H330.6zM330.6 50.2H336.8V53.8H330.6zM439.1 61H442.2V64.6H439.1zM386.4 68.2H392.6V71.8H386.4zM380.2 71.8H395.7V75.4H380.2zM380.2 75.4H389.5V79H380.2zM327.5 71.8H330.6V82.6H327.5zM383.3 79H386.4V86.2H383.3zM389.5 82.6H392.6V86.2H389.5zM386.4 86.2H389.5V89.8H386.4zM432.9 89.8H436V93.4H432.9zM386.4 89.8H392.6V93.4H386.4zM383.3 93.4H392.6V97H383.3zM327.5 93.4H330.6V100.6H327.5zM392.6 97H395.7V100.6H392.6zM333.7 97H336.8V100.6H333.7zM383.3 97H386.4V100.6H383.3zM377.1 93.4H380.2V104.2H377.1zM361.6 100.6H364.7V104.2H361.6zM349.2 100.6H355.4V104.2H349.2zM324.4 100.6H330.6V107.8H324.4zM333.7 100.6H339.9V107.8H333.7zM343 104.2H355.4V107.8H343zM358.5 104.2H364.7V107.8H358.5zM367.8 104.2H374V107.8H367.8zM448.4 104.2H451.5V111.4H448.4zM324.4 107.8H355.4V111.4H324.4zM370.9 107.8H374V111.4H370.9zM389.5 107.8H395.7V111.4H389.5zM380.2 107.8H383.3V111.4H380.2zM358.5 107.8H367.8V111.4H358.5zM389.5 111.4H401.9V115H389.5zM302.7 111.4H308.9V115H302.7zM377.1 111.4H386.4V115H377.1zM312 111.4H315.1V115H312zM445.3 111.4H448.4V115H445.3zM358.5 111.4H374V118.6H358.5zM321.3 111.4H355.4V118.6H321.3zM405 115H411.2V118.6H405zM436 115H439.1V118.6H436zM308.9 115H318.2V118.6H308.9zM377.1 115H398.8V118.6H377.1zM442.2 115H448.4V118.6H442.2zM302.7 115H305.8V118.6H302.7zM420.5 115H423.6V122.2H420.5zM414.3 115H417.4V122.2H414.3zM349.2 118.6H398.8V122.2H349.2zM327.5 118.6H346.1V122.2H327.5zM405 118.6H408.1V122.2H405zM281 118.6H284.1V125.8H281zM302.7 118.6H315.1V125.8H302.7zM318.2 118.6H324.4V125.8H318.2zM417.4 122.2H423.6V125.8H417.4zM445.3 122.2H451.5V125.8H445.3zM436 122.2H439.1V125.8H436zM327.5 122.2H339.9V125.8H327.5zM355.4 122.2H364.7V125.8H355.4zM380.2 122.2H405V125.8H380.2zM367.8 122.2H377.1V129.4H367.8zM308.9 125.8H333.7V129.4H308.9zM293.4 125.8H296.5V129.4H293.4zM423.6 125.8H426.7V129.4H423.6zM386.4 125.8H405V129.4H386.4zM414.3 125.8H420.5V129.4H414.3zM358.5 125.8H364.7V129.4H358.5zM336.8 125.8H339.9V129.4H336.8zM302.7 125.8H305.8V129.4H302.7zM445.3 125.8H448.4V129.4H445.3zM432.9 125.8H439.1V129.4H432.9zM380.2 125.8H383.3V129.4H380.2zM287.2 115H290.3V133H287.2zM234.5 125.8H237.6V133H234.5zM401.9 129.4H411.2V133H401.9zM361.6 129.4H364.7V133H361.6zM370.9 129.4H383.3V133H370.9zM432.9 129.4H436V133H432.9zM352.3 129.4H358.5V133H352.3zM330.6 129.4H343V133H330.6zM256.2 129.4H259.3V133H256.2zM442.2 129.4H448.4V133H442.2zM392.6 129.4H398.8V133H392.6zM293.4 129.4H305.8V133H293.4zM423.6 129.4H429.8V133H423.6zM312 129.4H318.2V136.6H312zM268.6 129.4H271.7V136.6H268.6zM321.3 129.4H327.5V136.6H321.3zM386.4 129.4H389.5V136.6H386.4zM442.2 133H445.3V136.6H442.2zM423.6 133H426.7V136.6H423.6zM277.9 133H305.8V136.6H277.9zM330.6 133H346.1V136.6H330.6zM352.3 133H383.3V136.6H352.3zM432.9 133H439.1V136.6H432.9zM401.9 133H405V136.6H401.9zM429.8 136.6H432.9V140.2H429.8zM420.5 136.6H423.6V140.2H420.5zM281 136.6H290.3V140.2H281zM367.8 136.6H370.9V140.2H367.8zM324.4 136.6H327.5V140.2H324.4zM448.4 136.6H451.5V140.2H448.4zM358.5 136.6H364.7V140.2H358.5zM330.6 136.6H343V140.2H330.6zM436 136.6H445.3V140.2H436zM302.7 136.6H305.8V140.2H302.7zM349.2 136.6H355.4V140.2H349.2zM271.7 136.6H274.8V140.2H271.7zM293.4 136.6H299.6V140.2H293.4zM377.1 136.6H383.3V140.2H377.1zM308.9 136.6H321.3V140.2H308.9zM392.6 133H395.7V143.8H392.6zM417.4 140.2H423.6V143.8H417.4zM271.7 140.2H277.9V143.8H271.7zM377.1 140.2H380.2V143.8H377.1zM405 140.2H408.1V143.8H405zM330.6 140.2H346.1V143.8H330.6zM436 140.2H448.4V143.8H436zM299.6 140.2H305.8V147.4H299.6zM281 140.2H296.5V147.4H281zM358.5 140.2H370.9V147.4H358.5zM318.2 140.2H327.5V147.4H318.2zM308.9 140.2H315.1V147.4H308.9zM445.3 143.8H451.5V147.4H445.3zM330.6 143.8H349.2V147.4H330.6zM429.8 143.8H442.2V147.4H429.8zM274.8 143.8H277.9V151H274.8zM296.5 147.4H315.1V151H296.5zM352.3 147.4H358.5V151H352.3zM215.9 147.4H219V151H215.9zM436 147.4H439.1V151H436zM367.8 147.4H370.9V151H367.8zM426.7 147.4H432.9V151H426.7zM243.8 147.4H246.9V151H243.8zM281 147.4H293.4V151H281zM237.6 147.4H240.7V151H237.6zM318.2 147.4H339.9V151H318.2zM417.4 143.8H420.5V154.6H417.4zM228.3 143.8H234.5V154.6H228.3zM349.2 151H358.5V154.6H349.2zM429.8 151H432.9V154.6H429.8zM237.6 151H243.8V154.6H237.6zM318.2 151H336.8V154.6H318.2zM296.5 151H305.8V154.6H296.5zM367.8 151H374V154.6H367.8zM271.7 151H293.4V154.6H271.7zM308.9 151H315.1V158.2H308.9zM318.2 154.6H324.4V158.2H318.2zM234.5 154.6H243.8V158.2H234.5zM355.4 154.6H358.5V158.2H355.4zM367.8 154.6H370.9V158.2H367.8zM271.7 154.6H284.1V158.2H271.7zM383.3 154.6H386.4V158.2H383.3zM287.2 154.6H305.8V158.2H287.2zM339.9 154.6H343V158.2H339.9zM327.5 154.6H336.8V158.2H327.5zM349.2 154.6H352.3V161.8H349.2zM274.8 158.2H284.1V161.8H274.8zM339.9 158.2H346.1V161.8H339.9zM305.8 158.2H333.7V161.8H305.8zM411.2 158.2H414.3V161.8H411.2zM398.8 158.2H401.9V161.8H398.8zM287.2 158.2H290.3V161.8H287.2zM432.9 158.2H436V165.4H432.9zM293.4 158.2H299.6V165.4H293.4zM426.7 158.2H429.8V165.4H426.7zM274.8 161.8H290.3V165.4H274.8zM389.5 161.8H392.6V165.4H389.5zM339.9 161.8H343V165.4H339.9zM302.7 161.8H330.6V165.4H302.7zM358.5 158.2H361.6V169H358.5zM386.4 165.4H392.6V169H386.4zM277.9 165.4H284.1V169H277.9zM352.3 165.4H355.4V169H352.3zM287.2 165.4H324.4V169H287.2zM262.4 165.4H271.7V169H262.4zM370.9 165.4H377.1V172.6H370.9zM277.9 169H287.2V172.6H277.9zM259.3 169H274.8V172.6H259.3zM296.5 169H324.4V172.6H296.5zM290.3 169H293.4V172.6H290.3zM386.4 169H389.5V172.6H386.4zM234.5 172.6H237.6V176.2H234.5zM287.2 172.6H302.7V176.2H287.2zM259.3 172.6H271.7V176.2H259.3zM417.4 172.6H420.5V176.2H417.4zM439.1 172.6H442.2V176.2H439.1zM429.8 172.6H436V176.2H429.8zM274.8 172.6H284.1V179.8H274.8zM209.7 172.6H212.8V179.8H209.7zM308.9 172.6H324.4V179.8H308.9zM228.3 176.2H231.4V179.8H228.3zM426.7 176.2H436V179.8H426.7zM293.4 176.2H305.8V179.8H293.4zM287.2 176.2H290.3V179.8H287.2zM259.3 176.2H265.5V183.4H259.3zM414.3 176.2H417.4V183.4H414.3zM274.8 179.8H290.3V183.4H274.8zM293.4 179.8H312V183.4H293.4zM395.7 176.2H398.8V187H395.7zM315.1 179.8H324.4V187H315.1zM377.1 179.8H383.3V187H377.1zM281 183.4H284.1V187H281zM290.3 183.4H299.6V187H290.3zM302.7 183.4H312V187H302.7zM262.4 183.4H277.9V190.6H262.4zM432.9 183.4H436V190.6H432.9zM417.4 183.4H420.5V190.6H417.4zM184.9 183.4H188V190.6H184.9zM284.1 187H299.6V190.6H284.1zM302.7 187H305.8V190.6H302.7zM318.2 187H321.3V190.6H318.2zM392.6 187H398.8V194.2H392.6zM302.7 190.6H308.9V194.2H302.7zM268.6 190.6H277.9V194.2H268.6zM312 190.6H315.1V194.2H312zM256.2 190.6H265.5V194.2H256.2zM293.4 190.6H299.6V194.2H293.4zM358.5 190.6H361.6V194.2H358.5zM284.1 190.6H290.3V194.2H284.1zM246.9 187H250V197.8H246.9zM380.2 187H383.3V197.8H380.2zM336.8 190.6H339.9V197.8H336.8zM432.9 190.6H439.1V197.8H432.9zM281 194.2H284.1V197.8H281zM302.7 194.2H315.1V197.8H302.7zM287.2 194.2H293.4V197.8H287.2zM389.5 194.2H395.7V197.8H389.5zM253.1 194.2H277.9V197.8H253.1zM401.9 194.2H405V197.8H401.9zM426.7 194.2H429.8V197.8H426.7zM197.3 194.2H200.4V201.4H197.3zM401.9 197.8H411.2V201.4H401.9zM432.9 197.8H436V201.4H432.9zM308.9 197.8H312V201.4H308.9zM175.6 197.8H178.7V201.4H175.6zM246.9 197.8H284.1V201.4H246.9zM324.4 197.8H327.5V205H324.4zM268.6 201.4H284.1V205H268.6zM370.9 201.4H374V205H370.9zM463.9 201.4H467V205H463.9zM426.7 201.4H429.8V205H426.7zM262.4 201.4H265.5V205H262.4zM395.7 201.4H408.1V208.6H395.7zM253.1 201.4H259.3V208.6H253.1zM346.1 205H349.2V208.6H346.1zM281 205H284.1V208.6H281zM389.5 205H392.6V208.6H389.5zM457.7 205H467V208.6H457.7zM262.4 205H271.7V208.6H262.4zM287.2 197.8H296.5V212.2H287.2zM243.8 201.4H250V212.2H243.8zM426.7 205H432.9V212.2H426.7zM460.8 208.6H470.1V212.2H460.8zM454.6 208.6H457.7V212.2H454.6zM253.1 208.6H274.8V212.2H253.1zM277.9 208.6H284.1V212.2H277.9zM225.2 208.6H228.3V212.2H225.2zM442.2 201.4H445.3V215.8H442.2zM343 208.6H346.1V215.8H343zM200.4 212.2H203.5V215.8H200.4zM240.7 212.2H250V215.8H240.7zM429.8 212.2H432.9V215.8H429.8zM470.1 212.2H482.5V215.8H470.1zM460.8 212.2H467V215.8H460.8zM259.3 212.2H284.1V215.8H259.3zM485.6 212.2H488.7V215.8H485.6zM253.1 212.2H256.2V215.8H253.1zM178.7 208.6H181.8V219.4H178.7zM169.4 212.2H172.5V219.4H169.4zM290.3 212.2H293.4V219.4H290.3zM240.7 215.8H284.1V219.4H240.7zM339.9 215.8H346.1V219.4H339.9zM423.6 215.8H426.7V219.4H423.6zM460.8 215.8H463.9V219.4H460.8zM479.4 215.8H488.7V219.4H479.4zM432.9 215.8H436V223H432.9zM470.1 215.8H473.2V223H470.1zM274.8 219.4H277.9V223H274.8zM482.5 219.4H490V223H482.5zM281 219.4H284.1V223H281zM262.4 219.4H268.6V223H262.4zM240.7 219.4H259.3V223H240.7zM172.5 219.4H175.6V226.6H172.5zM256.2 223H262.4V226.6H256.2zM482.5 223H488.7V226.6H482.5zM265.5 223H277.9V226.6H265.5zM243.8 223H250V230.2H243.8zM268.6 226.6H281V230.2H268.6zM222.1 226.6H228.3V230.2H222.1zM262.4 226.6H265.5V230.2H262.4zM256.2 226.6H259.3V233.8H256.2zM302.7 230.2H308.9V233.8H302.7zM225.2 230.2H228.3V233.8H225.2zM262.4 230.2H271.7V233.8H262.4zM324.4 223H327.5V237.4H324.4zM231.4 230.2H243.8V237.4H231.4zM460.8 230.2H467V237.4H460.8zM302.7 233.8H305.8V237.4H302.7zM262.4 233.8H268.6V241H262.4zM222.1 237.4H225.2V241H222.1zM454.6 237.4H470.1V241H454.6zM228.3 237.4H243.8V241H228.3zM212.8 237.4H219V241H212.8zM246.9 237.4H250V241H246.9zM315.1 226.6H318.2V244.6H315.1zM178.7 237.4H181.8V244.6H178.7zM228.3 241H240.7V244.6H228.3zM281 241H284.1V244.6H281zM457.7 241H470.1V244.6H457.7zM212.8 241H225.2V244.6H212.8zM253.1 241H256.2V244.6H253.1zM265.5 241H268.6V248.2H265.5zM451.5 241H454.6V248.2H451.5zM274.8 244.6H277.9V248.2H274.8zM457.7 244.6H463.9V248.2H457.7zM215.9 244.6H237.6V248.2H215.9zM296.5 241H299.6V251.8H296.5zM467 248.2H473.2V251.8H467zM231.4 248.2H240.7V251.8H231.4zM215.9 248.2H228.3V255.4H215.9zM457.7 248.2H460.8V255.4H457.7zM206.6 248.2H209.7V255.4H206.6zM234.5 251.8H237.6V255.4H234.5zM250 251.8H253.1V255.4H250zM463.9 251.8H473.2V255.4H463.9zM240.7 251.8H243.8V255.4H240.7zM265.5 251.8H268.6V259H265.5zM302.7 251.8H305.8V259H302.7zM287.2 251.8H290.3V259H287.2zM231.4 255.4H237.6V259H231.4zM457.7 255.4H467V259H457.7zM222.1 255.4H228.3V259H222.1zM470.1 255.4H473.2V259H470.1zM212.8 259H237.6V262.6H212.8zM457.7 259H463.9V262.6H457.7zM253.1 262.6H256.2V266.2H253.1zM274.8 262.6H277.9V269.8H274.8zM228.3 262.6H234.5V269.8H228.3zM212.8 262.6H225.2V269.8H212.8zM253.1 266.2H259.3V269.8H253.1zM206.6 266.2H209.7V273.4H206.6zM293.4 269.8H296.5V273.4H293.4zM212.8 269.8H228.3V273.4H212.8zM231.4 269.8H240.7V273.4H231.4zM181.8 269.8H184.9V273.4H181.8zM246.9 273.4H253.1V277H246.9zM296.5 273.4H299.6V277H296.5zM191.1 273.4H194.2V277H191.1zM212.8 273.4H231.4V277H212.8zM243.8 277H250V280.6H243.8zM203.5 277H228.3V284.2H203.5zM231.4 280.6H234.5V284.2H231.4zM246.9 280.6H250V284.2H246.9zM265.5 280.6H268.6V287.8H265.5zM246.9 284.2H253.1V287.8H246.9zM203.5 284.2H212.8V287.8H203.5zM215.9 284.2H237.6V291.4H215.9zM206.6 287.8H212.8V291.4H206.6zM256.2 287.8H259.3V291.4H256.2zM246.9 287.8H250V295H246.9zM206.6 291.4H222.1V295H206.6zM228.3 291.4H231.4V295H228.3zM268.6 291.4H271.7V298.6H268.6zM209.7 295H222.1V298.6H209.7zM225.2 295H231.4V302.2H225.2zM234.5 298.6H237.6V302.2H234.5zM212.8 298.6H215.9V305.8H212.8zM219 302.2H231.4V305.8H219zM284.1 302.2H287.2V309.4H284.1zM228.3 305.8H231.4V316.6H228.3zM212.8 305.8H225.2V316.6H212.8zM234.5 313H237.6V316.6H234.5zM209.7 316.6H243.8V320.2H209.7zM287.2 313H290.3V323.8H287.2zM256.2 316.6H259.3V323.8H256.2zM234.5 320.2H253.1V323.8H234.5zM212.8 320.2H231.4V327.4H212.8zM237.6 323.8H253.1V327.4H237.6zM237.6 327.4H259.3V331H237.6zM215.9 327.4H228.3V334.6H215.9zM234.5 331H262.4V334.6H234.5zM203.5 331H206.6V338.2H203.5zM234.5 334.6H259.3V338.2H234.5zM219 334.6H228.3V338.2H219zM290.3 338.2H293.4V341.8H290.3zM262.4 334.6H265.5V345.4H262.4zM250 338.2H259.3V345.4H250zM222.1 338.2H246.9V345.4H222.1zM240.7 345.4H246.9V349H240.7zM219 345.4H237.6V349H219zM250 345.4H265.5V349H250zM246.9 349H265.5V352.6H246.9zM219 349H243.8V352.6H219zM277.9 349H281V352.6H277.9zM219 352.6H225.2V356.2H219zM228.3 352.6H268.6V356.2H228.3zM265.5 356.2H268.6V359.8H265.5zM222.1 356.2H225.2V359.8H222.1zM228.3 356.2H262.4V359.8H228.3zM299.6 359.8H302.7V363.4H299.6zM231.4 359.8H268.6V363.4H231.4zM228.3 363.4H268.6V367H228.3zM271.7 367H274.8V370.6H271.7zM237.6 367H268.6V370.6H237.6zM219 359.8H222.1V374.2H219zM237.6 370.6H274.8V374.2H237.6zM228.3 367H234.5V377.8H228.3zM268.6 374.2H271.7V377.8H268.6zM5.1 374.2H8.2V377.8H5.1zM259.3 374.2H265.5V381.4H259.3zM237.6 374.2H256.2V381.4H237.6zM2 377.8H5.1V381.4H2zM228.3 377.8H231.4V385H228.3zM17.5 377.8H20.6V385H17.5zM234.5 381.4H265.5V385H234.5zM23.7 381.4H26.8V385H23.7zM11.3 381.4H14.4V385H11.3zM20.6 385H23.7V388.6H20.6zM33 385H39.2V388.6H33zM250 385H268.6V388.6H250zM231.4 385H246.9V388.6H231.4zM2 385H5.1V392.2H2zM14.4 388.6H17.5V392.2H14.4zM64 388.6H67.1V392.2H64zM231.4 388.6H268.6V392.2H231.4zM26.8 388.6H29.9V395.8H26.8zM234.5 392.2H271.7V395.8H234.5zM67.1 392.2H70.2V395.8H67.1zM45.4 392.2H48.5V395.8H45.4zM33 395.8H39.2V399.4H33zM76.4 395.8H79.5V399.4H76.4zM95 395.8H98.1V399.4H95zM231.4 395.8H240.7V399.4H231.4zM243.8 395.8H271.7V399.4H243.8zM231.4 399.4H271.7V403H231.4zM98.1 399.4H104.3V403H98.1zM88.8 399.4H91.9V403H88.8zM113.6 399.4H119.8V403H113.6zM82.6 399.4H85.7V403H82.6zM36.1 399.4H39.2V403H36.1zM11.3 399.4H14.4V403H11.3zM60.9 399.4H73.3V403H60.9zM274.8 403H277.9V406.6H274.8zM79.5 403H85.7V406.6H79.5zM70.2 403H73.3V406.6H70.2zM60.9 403H67.1V406.6H60.9zM107.4 403H110.5V406.6H107.4zM240.7 403H271.7V406.6H240.7zM45.4 403H48.5V406.6H45.4zM234.5 403H237.6V410.2H234.5zM302.7 403H305.8V410.2H302.7zM119.8 403H122.9V410.2H119.8zM17.5 403H20.6V410.2H17.5zM73.3 406.6H76.4V410.2H73.3zM144.6 406.6H147.7V410.2H144.6zM39.2 406.6H45.4V410.2H39.2zM8.2 406.6H11.3V410.2H8.2zM64 406.6H67.1V410.2H64zM54.7 406.6H57.8V410.2H54.7zM126 406.6H129.1V410.2H126zM79.5 406.6H82.6V410.2H79.5zM113.6 406.6H116.7V410.2H113.6zM243.8 406.6H271.7V410.2H243.8zM98.1 410.2H104.3V413.8H98.1zM234.5 410.2H268.6V413.8H234.5zM85.7 410.2H88.8V413.8H85.7zM5.1 410.2H8.2V413.8H5.1zM54.7 410.2H64V413.8H54.7zM110.5 410.2H113.6V416.5H110.5zM144.6 410.2H150.8V416.5H144.6zM126 413.8H141.5V416.5H126zM234.5 413.8H271.7V416.5H234.5zM73.3 413.8H76.4V416.5H73.3zM48.5 413.8H51.6V416.5H48.5zM88.8 413.8H91.9V416.5H88.8zM79.5 413.8H85.7V416.5H79.5zM153.9 413.8H160.1V416.5H153.9zM119.8 413.8H122.9V416.5H119.8zM54.7 413.8H57.8V416.5H54.7z"/>
<path fill="#fa320f" d="M386.4 79H389.5V86.2H386.4zM408.1 118.6H411.2V122.2H408.1zM324.4 118.6H327.5V125.8H324.4zM377.1 122.2H380.2V129.4H377.1zM305.8 125.8H308.9V129.4H305.8zM420.5 125.8H423.6V129.4H420.5zM442.2 125.8H445.3V129.4H442.2zM448.4 125.8H451.5V133H448.4zM429.8 125.8H432.9V133H429.8zM411.2 129.4H423.6V133H411.2zM398.8 129.4H401.9V133H398.8zM358.5 129.4H361.6V133H358.5zM383.3 125.8H386.4V136.6H383.3zM318.2 129.4H321.3V136.6H318.2zM389.5 129.4H392.6V136.6H389.5zM305.8 129.4H312V136.6H305.8zM445.3 133H451.5V136.6H445.3zM426.7 133H432.9V136.6H426.7zM405 133H414.3V136.6H405zM395.7 133H401.9V136.6H395.7zM420.5 133H423.6V136.6H420.5zM364.7 136.6H367.8V140.2H364.7zM355.4 136.6H358.5V140.2H355.4zM299.6 136.6H302.7V140.2H299.6zM290.3 136.6H293.4V140.2H290.3zM445.3 136.6H448.4V140.2H445.3zM383.3 136.6H392.6V140.2H383.3zM321.3 136.6H324.4V140.2H321.3zM423.6 136.6H429.8V140.2H423.6zM395.7 136.6H414.3V140.2H395.7zM432.9 136.6H436V140.2H432.9zM370.9 136.6H377.1V143.8H370.9zM395.7 140.2H405V143.8H395.7zM380.2 140.2H392.6V143.8H380.2zM426.7 140.2H436V143.8H426.7zM408.1 140.2H417.4V143.8H408.1zM305.8 136.6H308.9V147.4H305.8zM349.2 140.2H358.5V147.4H349.2zM414.3 143.8H417.4V147.4H414.3zM377.1 143.8H411.2V147.4H377.1zM426.7 143.8H429.8V147.4H426.7zM370.9 143.8H374V151H370.9zM420.5 143.8H423.6V151H420.5zM339.9 147.4H352.3V151H339.9zM377.1 147.4H417.4V151H377.1zM358.5 147.4H367.8V154.6H358.5zM293.4 147.4H296.5V154.6H293.4zM420.5 151H426.7V154.6H420.5zM380.2 151H417.4V154.6H380.2zM374 151H377.1V154.6H374zM336.8 151H349.2V154.6H336.8zM315.1 140.2H318.2V158.2H315.1zM386.4 154.6H426.7V158.2H386.4zM324.4 154.6H327.5V158.2H324.4zM336.8 154.6H339.9V158.2H336.8zM358.5 154.6H364.7V158.2H358.5zM352.3 154.6H355.4V158.2H352.3zM343 154.6H349.2V158.2H343zM380.2 154.6H383.3V158.2H380.2zM370.9 154.6H377.1V158.2H370.9zM284.1 154.6H287.2V161.8H284.1zM367.8 158.2H377.1V161.8H367.8zM333.7 158.2H339.9V161.8H333.7zM414.3 158.2H426.7V161.8H414.3zM380.2 158.2H398.8V161.8H380.2zM401.9 158.2H405V161.8H401.9zM346.1 158.2H349.2V161.8H346.1zM408.1 158.2H411.2V161.8H408.1zM352.3 158.2H358.5V161.8H352.3zM271.7 158.2H274.8V165.4H271.7zM361.6 158.2H364.7V165.4H361.6zM429.8 158.2H432.9V165.4H429.8zM408.1 161.8H423.6V165.4H408.1zM343 161.8H358.5V165.4H343zM367.8 161.8H389.5V165.4H367.8zM330.6 161.8H339.9V165.4H330.6zM398.8 161.8H405V165.4H398.8zM392.6 161.8H395.7V169H392.6zM355.4 165.4H358.5V169H355.4zM324.4 165.4H352.3V169H324.4zM426.7 165.4H436V169H426.7zM401.9 165.4H423.6V169H401.9zM361.6 165.4H370.9V169H361.6zM271.7 165.4H277.9V169H271.7zM377.1 165.4H386.4V172.6H377.1zM401.9 169H436V172.6H401.9zM274.8 169H277.9V172.6H274.8zM324.4 169H370.9V172.6H324.4zM389.5 169H398.8V172.6H389.5zM302.7 172.6H305.8V176.2H302.7zM414.3 172.6H417.4V176.2H414.3zM336.8 172.6H411.2V176.2H336.8zM420.5 172.6H429.8V176.2H420.5zM324.4 172.6H333.7V179.8H324.4zM370.9 176.2H395.7V179.8H370.9zM417.4 176.2H426.7V179.8H417.4zM358.5 176.2H367.8V179.8H358.5zM336.8 176.2H355.4V179.8H336.8zM398.8 176.2H414.3V183.4H398.8zM423.6 179.8H432.9V183.4H423.6zM417.4 179.8H420.5V183.4H417.4zM383.3 179.8H395.7V183.4H383.3zM324.4 179.8H336.8V183.4H324.4zM312 179.8H315.1V187H312zM358.5 179.8H377.1V187H358.5zM339.9 179.8H355.4V187H339.9zM398.8 183.4H408.1V187H398.8zM277.9 183.4H281V187H277.9zM284.1 183.4H290.3V187H284.1zM392.6 183.4H395.7V187H392.6zM383.3 183.4H389.5V187H383.3zM324.4 183.4H330.6V187H324.4zM411.2 183.4H417.4V187H411.2zM420.5 183.4H432.9V190.6H420.5zM308.9 187H318.2V190.6H308.9zM398.8 187H417.4V190.6H398.8zM321.3 187H324.4V190.6H321.3zM358.5 187H380.2V190.6H358.5zM333.7 187H349.2V190.6H333.7zM299.6 183.4H302.7V194.2H299.6zM277.9 187H284.1V194.2H277.9zM383.3 187H392.6V194.2H383.3zM370.9 190.6H374V194.2H370.9zM290.3 190.6H293.4V194.2H290.3zM265.5 190.6H268.6V194.2H265.5zM315.1 190.6H327.5V194.2H315.1zM398.8 190.6H432.9V194.2H398.8zM330.6 190.6H336.8V194.2H330.6zM361.6 190.6H364.7V194.2H361.6zM308.9 190.6H312V194.2H308.9zM377.1 190.6H380.2V197.8H377.1zM439.1 190.6H442.2V197.8H439.1zM339.9 190.6H349.2V197.8H339.9zM358.5 194.2H370.9V197.8H358.5zM405 194.2H426.7V197.8H405zM277.9 194.2H281V197.8H277.9zM383.3 194.2H389.5V197.8H383.3zM395.7 194.2H401.9V197.8H395.7zM429.8 194.2H432.9V197.8H429.8zM324.4 194.2H336.8V197.8H324.4zM293.4 194.2H302.7V197.8H293.4zM352.3 187H355.4V201.4H352.3zM318.2 194.2H321.3V201.4H318.2zM312 197.8H315.1V201.4H312zM436 197.8H442.2V201.4H436zM296.5 197.8H308.9V201.4H296.5zM358.5 197.8H389.5V201.4H358.5zM327.5 197.8H349.2V201.4H327.5zM411.2 197.8H432.9V201.4H411.2zM392.6 197.8H401.9V201.4H392.6zM374 201.4H389.5V205H374zM265.5 201.4H268.6V205H265.5zM315.1 201.4H321.3V205H315.1zM361.6 201.4H370.9V205H361.6zM333.7 201.4H355.4V205H333.7zM429.8 201.4H439.1V205H429.8zM259.3 201.4H262.4V208.6H259.3zM408.1 201.4H426.7V208.6H408.1zM392.6 201.4H395.7V208.6H392.6zM355.4 205H358.5V208.6H355.4zM324.4 205H327.5V208.6H324.4zM361.6 205H389.5V208.6H361.6zM432.9 205H439.1V208.6H432.9zM330.6 205H346.1V208.6H330.6zM349.2 205H352.3V208.6H349.2zM284.1 194.2H287.2V212.2H284.1zM296.5 201.4H312V212.2H296.5zM318.2 205H321.3V212.2H318.2zM386.4 208.6H392.6V212.2H386.4zM395.7 208.6H426.7V212.2H395.7zM346.1 208.6H383.3V212.2H346.1zM432.9 208.6H436V212.2H432.9zM445.3 194.2H448.4V215.8H445.3zM451.5 208.6H454.6V215.8H451.5zM324.4 208.6H343V215.8H324.4zM395.7 212.2H411.2V215.8H395.7zM432.9 212.2H439.1V215.8H432.9zM293.4 212.2H312V215.8H293.4zM367.8 212.2H374V215.8H367.8zM423.6 212.2H429.8V215.8H423.6zM414.3 212.2H420.5V219.4H414.3zM386.4 212.2H389.5V219.4H386.4zM346.1 212.2H364.7V219.4H346.1zM284.1 212.2H290.3V219.4H284.1zM436 215.8H439.1V219.4H436zM367.8 215.8H370.9V219.4H367.8zM426.7 215.8H432.9V219.4H426.7zM293.4 215.8H315.1V219.4H293.4zM473.2 215.8H479.4V219.4H473.2zM321.3 215.8H339.9V219.4H321.3zM442.2 215.8H454.6V219.4H442.2zM463.9 215.8H470.1V219.4H463.9zM408.1 215.8H411.2V219.4H408.1zM398.8 215.8H405V219.4H398.8zM336.8 219.4H361.6V223H336.8zM423.6 219.4H432.9V223H423.6zM284.1 219.4H299.6V223H284.1zM321.3 219.4H333.7V223H321.3zM467 219.4H470.1V223H467zM460.8 219.4H463.9V223H460.8zM259.3 219.4H262.4V223H259.3zM277.9 219.4H281V223H277.9zM473.2 219.4H482.5V223H473.2zM405 219.4H417.4V223H405zM302.7 219.4H315.1V223H302.7zM389.5 219.4H392.6V223H389.5zM442.2 219.4H457.7V223H442.2zM277.9 223H299.6V226.6H277.9zM442.2 223H463.9V226.6H442.2zM315.1 223H324.4V226.6H315.1zM386.4 223H389.5V226.6H386.4zM302.7 223H312V226.6H302.7zM467 223H482.5V226.6H467zM262.4 223H265.5V226.6H262.4zM423.6 223H436V226.6H423.6zM346.1 223H361.6V226.6H346.1zM488.7 223H490V226.6H488.7zM250 223H256.2V230.2H250zM327.5 223H339.9V230.2H327.5zM405 223H414.3V230.2H405zM445.3 226.6H451.5V230.2H445.3zM429.8 226.6H436V230.2H429.8zM476.3 226.6H490V230.2H476.3zM454.6 226.6H473.2V230.2H454.6zM420.5 226.6H426.7V230.2H420.5zM352.3 226.6H361.6V230.2H352.3zM281 226.6H312V230.2H281zM265.5 226.6H268.6V230.2H265.5zM346.1 226.6H349.2V230.2H346.1zM259.3 226.6H262.4V233.8H259.3zM318.2 226.6H324.4V233.8H318.2zM448.4 230.2H451.5V233.8H448.4zM467 230.2H490V233.8H467zM271.7 230.2H302.7V233.8H271.7zM411.2 230.2H414.3V233.8H411.2zM361.6 230.2H367.8V233.8H361.6zM253.1 230.2H256.2V233.8H253.1zM392.6 230.2H395.7V233.8H392.6zM308.9 230.2H312V233.8H308.9zM454.6 230.2H460.8V237.4H454.6zM327.5 230.2H336.8V237.4H327.5zM243.8 230.2H250V237.4H243.8zM429.8 230.2H432.9V237.4H429.8zM364.7 233.8H367.8V237.4H364.7zM467 233.8H485.6V237.4H467zM268.6 233.8H290.3V237.4H268.6zM305.8 233.8H315.1V237.4H305.8zM321.3 233.8H324.4V237.4H321.3zM256.2 233.8H262.4V237.4H256.2zM488.7 233.8H490V237.4H488.7zM293.4 233.8H302.7V237.4H293.4zM358.5 233.8H361.6V241H358.5zM268.6 237.4H284.1V241H268.6zM250 237.4H262.4V241H250zM470.1 237.4H482.5V241H470.1zM243.8 237.4H246.9V241H243.8zM451.5 237.4H454.6V241H451.5zM321.3 237.4H330.6V241H321.3zM392.6 237.4H395.7V241H392.6zM296.5 237.4H315.1V241H296.5zM349.2 237.4H352.3V241H349.2zM343 237.4H346.1V241H343zM333.7 237.4H336.8V244.6H333.7zM318.2 241H330.6V244.6H318.2zM240.7 241H253.1V244.6H240.7zM268.6 241H281V244.6H268.6zM299.6 241H315.1V244.6H299.6zM432.9 241H436V244.6H432.9zM470.1 241H479.4V248.2H470.1zM454.6 241H457.7V248.2H454.6zM259.3 241H265.5V248.2H259.3zM277.9 244.6H290.3V248.2H277.9zM405 244.6H408.1V248.2H405zM237.6 244.6H256.2V248.2H237.6zM268.6 244.6H274.8V248.2H268.6zM321.3 244.6H324.4V248.2H321.3zM293.4 244.6H296.5V248.2H293.4zM315.1 244.6H318.2V251.8H315.1zM299.6 244.6H312V251.8H299.6zM271.7 248.2H296.5V251.8H271.7zM259.3 248.2H268.6V251.8H259.3zM451.5 248.2H457.7V251.8H451.5zM240.7 248.2H256.2V251.8H240.7zM228.3 248.2H231.4V251.8H228.3zM361.6 248.2H364.7V251.8H361.6zM370.9 241H374V255.4H370.9zM401.9 248.2H405V255.4H401.9zM473.2 248.2H476.3V255.4H473.2zM253.1 251.8H259.3V255.4H253.1zM361.6 251.8H367.8V255.4H361.6zM237.6 251.8H240.7V255.4H237.6zM228.3 251.8H234.5V255.4H228.3zM243.8 251.8H250V255.4H243.8zM305.8 251.8H321.3V255.4H305.8zM274.8 251.8H287.2V259H274.8zM262.4 251.8H265.5V259H262.4zM290.3 251.8H302.7V259H290.3zM383.3 255.4H386.4V259H383.3zM467 255.4H470.1V259H467zM250 255.4H259.3V259H250zM305.8 255.4H315.1V259H305.8zM237.6 255.4H246.9V259H237.6zM268.6 255.4H271.7V259H268.6zM228.3 255.4H231.4V259H228.3zM395.7 251.8H398.8V262.6H395.7zM346.1 251.8H349.2V262.6H346.1zM454.6 251.8H457.7V262.6H454.6zM367.8 255.4H370.9V262.6H367.8zM405 259H408.1V262.6H405zM463.9 259H473.2V262.6H463.9zM237.6 259H315.1V262.6H237.6zM457.7 262.6H470.1V266.2H457.7zM284.1 262.6H312V266.2H284.1zM256.2 262.6H274.8V266.2H256.2zM234.5 262.6H250V266.2H234.5zM225.2 262.6H228.3V269.8H225.2zM277.9 262.6H281V269.8H277.9zM361.6 262.6H364.7V269.8H361.6zM339.9 266.2H343V269.8H339.9zM271.7 266.2H274.8V269.8H271.7zM457.7 266.2H467V269.8H457.7zM284.1 266.2H290.3V269.8H284.1zM259.3 266.2H265.5V269.8H259.3zM234.5 266.2H243.8V269.8H234.5zM293.4 266.2H302.7V269.8H293.4zM349.2 262.6H352.3V273.4H349.2zM386.4 266.2H389.5V273.4H386.4zM308.9 266.2H312V273.4H308.9zM240.7 269.8H262.4V273.4H240.7zM287.2 269.8H293.4V273.4H287.2zM463.9 269.8H467V273.4H463.9zM361.6 269.8H367.8V273.4H361.6zM296.5 269.8H302.7V273.4H296.5zM228.3 269.8H231.4V273.4H228.3zM271.7 269.8H277.9V273.4H271.7zM377.1 262.6H380.2V277H377.1zM358.5 273.4H364.7V277H358.5zM262.4 273.4H268.6V277H262.4zM271.7 273.4H296.5V277H271.7zM299.6 273.4H302.7V277H299.6zM231.4 273.4H246.9V277H231.4zM253.1 273.4H259.3V280.6H253.1zM228.3 277H243.8V280.6H228.3zM262.4 277H302.7V280.6H262.4zM358.5 277H361.6V280.6H358.5zM268.6 280.6H296.5V284.2H268.6zM253.1 280.6H265.5V284.2H253.1zM234.5 280.6H246.9V284.2H234.5zM228.3 280.6H231.4V284.2H228.3zM287.2 284.2H293.4V287.8H287.2zM268.6 284.2H271.7V287.8H268.6zM253.1 284.2H262.4V287.8H253.1zM237.6 284.2H246.9V291.4H237.6zM265.5 287.8H271.7V291.4H265.5zM411.2 287.8H414.3V291.4H411.2zM250 287.8H253.1V291.4H250zM259.3 287.8H262.4V291.4H259.3zM287.2 287.8H290.3V291.4H287.2zM277.9 284.2H281V295H277.9zM222.1 291.4H228.3V295H222.1zM231.4 291.4H246.9V295H231.4zM284.1 291.4H290.3V295H284.1zM256.2 291.4H268.6V298.6H256.2zM277.9 295H296.5V298.6H277.9zM271.7 295H274.8V298.6H271.7zM231.4 295H253.1V298.6H231.4zM222.1 295H225.2V298.6H222.1zM215.9 298.6H225.2V302.2H215.9zM231.4 298.6H234.5V302.2H231.4zM237.6 298.6H287.2V302.2H237.6zM215.9 302.2H219V305.8H215.9zM290.3 298.6H293.4V309.4H290.3zM231.4 302.2H284.1V309.4H231.4zM231.4 309.4H293.4V313H231.4zM225.2 305.8H228.3V316.6H225.2zM315.1 313H318.2V316.6H315.1zM231.4 313H234.5V316.6H231.4zM237.6 313H268.6V316.6H237.6zM271.7 313H287.2V316.6H271.7zM259.3 316.6H268.6V320.2H259.3zM277.9 316.6H287.2V320.2H277.9zM243.8 316.6H256.2V320.2H243.8zM290.3 313H296.5V323.8H290.3zM284.1 320.2H287.2V323.8H284.1zM259.3 320.2H281V323.8H259.3zM253.1 320.2H256.2V323.8H253.1zM253.1 323.8H305.8V327.4H253.1zM234.5 323.8H237.6V331H234.5zM259.3 327.4H271.7V331H259.3zM312 327.4H315.1V331H312zM274.8 327.4H299.6V331H274.8zM296.5 331H302.7V334.6H296.5zM262.4 331H293.4V334.6H262.4zM265.5 334.6H302.7V338.2H265.5zM318.2 334.6H321.3V341.8H318.2zM284.1 338.2H290.3V341.8H284.1zM265.5 338.2H281V341.8H265.5zM293.4 338.2H302.7V341.8H293.4zM259.3 334.6H262.4V345.4H259.3zM355.4 341.8H358.5V345.4H355.4zM265.5 341.8H299.6V345.4H265.5zM327.5 341.8H330.6V345.4H327.5zM246.9 338.2H250V349H246.9zM305.8 341.8H308.9V349H305.8zM237.6 345.4H240.7V349H237.6zM265.5 345.4H302.7V349H265.5zM243.8 349H246.9V352.6H243.8zM265.5 349H277.9V352.6H265.5zM281 349H312V352.6H281zM315.1 349H321.3V356.2H315.1zM268.6 352.6H308.9V359.8H268.6zM262.4 356.2H265.5V359.8H262.4zM380.2 356.2H383.3V359.8H380.2zM361.6 356.2H364.7V363.4H361.6zM302.7 359.8H308.9V363.4H302.7zM268.6 359.8H299.6V363.4H268.6zM268.6 363.4H277.9V367H268.6zM281 363.4H308.9V370.6H281zM358.5 363.4H361.6V370.6H358.5zM274.8 367H277.9V370.6H274.8zM268.6 367H271.7V370.6H268.6zM274.8 370.6H308.9V374.2H274.8zM389.5 374.2H392.6V377.8H389.5zM271.7 374.2H308.9V377.8H271.7zM265.5 374.2H268.6V377.8H265.5zM256.2 374.2H259.3V381.4H256.2zM20.6 377.8H23.7V381.4H20.6zM265.5 377.8H308.9V385H265.5zM349.2 377.8H352.3V385H349.2zM29.9 381.4H33V385H29.9zM380.2 381.4H383.3V385H380.2zM268.6 385H284.1V388.6H268.6zM14.4 385H20.6V388.6H14.4zM380.2 385H386.4V388.6H380.2zM290.3 385H308.9V388.6H290.3zM29.9 388.6H33V392.2H29.9zM268.6 388.6H281V392.2H268.6zM290.3 388.6H312V392.2H290.3zM20.6 388.6H23.7V392.2H20.6zM389.5 388.6H392.6V395.8H389.5zM29.9 392.2H36.1V395.8H29.9zM271.7 392.2H281V395.8H271.7zM284.1 392.2H308.9V395.8H284.1zM107.4 392.2H113.6V395.8H107.4zM8.2 388.6H11.3V399.4H8.2zM327.5 388.6H330.6V399.4H327.5zM60.9 388.6H64V399.4H60.9zM17.5 392.2H20.6V399.4H17.5zM2 392.2H5.1V399.4H2zM104.3 395.8H107.4V399.4H104.3zM110.5 395.8H113.6V399.4H110.5zM67.1 395.8H70.2V399.4H67.1zM240.7 395.8H243.8V399.4H240.7zM26.8 395.8H33V399.4H26.8zM271.7 395.8H308.9V403H271.7zM45.4 399.4H51.6V403H45.4zM39.2 399.4H42.3V403H39.2zM29.9 399.4H36.1V403H29.9zM76.4 399.4H82.6V403H76.4zM17.5 399.4H23.7V403H17.5zM411.2 399.4H414.3V406.6H411.2zM88.8 403H91.9V406.6H88.8zM113.6 403H119.8V406.6H113.6zM76.4 403H79.5V406.6H76.4zM104.3 403H107.4V406.6H104.3zM277.9 403H302.7V406.6H277.9zM271.7 403H274.8V406.6H271.7zM36.1 403H42.3V406.6H36.1zM20.6 403H23.7V406.6H20.6zM405 403H408.1V410.2H405zM305.8 403H312V410.2H305.8zM45.4 406.6H51.6V410.2H45.4zM36.1 406.6H39.2V410.2H36.1zM271.7 406.6H302.7V410.2H271.7zM107.4 406.6H110.5V410.2H107.4zM5.1 406.6H8.2V410.2H5.1zM101.2 406.6H104.3V410.2H101.2zM88.8 410.2H91.9V413.8H88.8zM29.9 410.2H33V413.8H29.9zM64 410.2H67.1V413.8H64zM126 410.2H132.2V413.8H126zM36.1 410.2H45.4V413.8H36.1zM380.2 410.2H383.3V413.8H380.2zM2 410.2H5.1V413.8H2zM268.6 410.2H312V413.8H268.6zM48.5 410.2H51.6V413.8H48.5zM343 410.2H346.1V413.8H343zM8.2 410.2H11.3V416.5H8.2zM116.7 410.2H119.8V416.5H116.7zM107.4 413.8H110.5V416.5H107.4zM42.3 413.8H45.4V416.5H42.3zM101.2 413.8H104.3V416.5H101.2zM281 413.8H312V416.5H281zM57.8 413.8H73.3V416.5H57.8zM271.7 413.8H277.9V416.5H271.7z"/>
<path fill="#fa000a" d="M414.3 133H420.5V140.2H414.3zM423.6 140.2H426.7V143.8H423.6zM411.2 143.8H414.3V147.4H411.2zM374 143.8H377.1V151H374zM423.6 147.4H426.7V151H423.6zM429.8 154.6H432.9V158.2H429.8zM377.1 151H380.2V161.8H377.1zM364.7 154.6H367.8V165.4H364.7zM405 158.2H408.1V165.4H405zM395.7 161.8H398.8V165.4H395.7zM423.6 161.8H426.7V169H423.6zM395.7 165.4H401.9V169H395.7zM398.8 169H401.9V172.6H398.8zM411.2 172.6H414.3V176.2H411.2zM333.7 172.6H336.8V179.8H333.7zM367.8 176.2H370.9V179.8H367.8zM420.5 179.8H423.6V183.4H420.5zM336.8 179.8H339.9V183.4H336.8zM330.6 183.4H339.9V187H330.6zM408.1 183.4H411.2V187H408.1zM389.5 183.4H392.6V187H389.5zM324.4 187H333.7V190.6H324.4zM327.5 190.6H330.6V194.2H327.5zM364.7 190.6H370.9V194.2H364.7zM374 190.6H377.1V194.2H374zM370.9 194.2H377.1V197.8H370.9zM355.4 176.2H358.5V201.4H355.4zM349.2 187H352.3V201.4H349.2zM315.1 194.2H318.2V201.4H315.1zM355.4 201.4H361.6V205H355.4zM327.5 201.4H333.7V205H327.5zM312 201.4H315.1V205H312zM439.1 201.4H442.2V208.6H439.1zM327.5 205H330.6V208.6H327.5zM358.5 205H361.6V208.6H358.5zM352.3 205H355.4V208.6H352.3zM321.3 194.2H324.4V212.2H321.3zM312 205H318.2V212.2H312zM457.7 208.6H460.8V212.2H457.7zM436 208.6H442.2V212.2H436zM392.6 208.6H395.7V212.2H392.6zM383.3 208.6H386.4V212.2H383.3zM448.4 208.6H451.5V215.8H448.4zM467 212.2H470.1V215.8H467zM374 212.2H386.4V215.8H374zM389.5 212.2H395.7V215.8H389.5zM312 212.2H324.4V215.8H312zM420.5 212.2H423.6V219.4H420.5zM364.7 212.2H367.8V219.4H364.7zM439.1 212.2H442.2V219.4H439.1zM411.2 212.2H414.3V219.4H411.2zM454.6 212.2H460.8V219.4H454.6zM370.9 215.8H386.4V219.4H370.9zM389.5 215.8H398.8V219.4H389.5zM405 215.8H408.1V219.4H405zM315.1 215.8H321.3V223H315.1zM457.7 219.4H460.8V223H457.7zM333.7 219.4H336.8V223H333.7zM417.4 219.4H423.6V223H417.4zM361.6 219.4H389.5V223H361.6zM392.6 219.4H405V223H392.6zM436 219.4H442.2V226.6H436zM299.6 219.4H302.7V226.6H299.6zM463.9 219.4H467V226.6H463.9zM414.3 223H423.6V226.6H414.3zM389.5 223H392.6V226.6H389.5zM361.6 223H383.3V226.6H361.6zM395.7 223H405V226.6H395.7zM339.9 223H346.1V230.2H339.9zM473.2 226.6H476.3V230.2H473.2zM426.7 226.6H429.8V230.2H426.7zM349.2 226.6H352.3V230.2H349.2zM361.6 226.6H405V230.2H361.6zM414.3 226.6H420.5V230.2H414.3zM436 226.6H445.3V230.2H436zM312 223H315.1V233.8H312zM451.5 226.6H454.6V233.8H451.5zM395.7 230.2H411.2V233.8H395.7zM250 230.2H253.1V233.8H250zM380.2 230.2H392.6V233.8H380.2zM414.3 230.2H429.8V233.8H414.3zM432.9 230.2H448.4V233.8H432.9zM336.8 230.2H361.6V233.8H336.8zM367.8 230.2H377.1V237.4H367.8zM336.8 233.8H358.5V237.4H336.8zM485.6 233.8H488.7V237.4H485.6zM361.6 233.8H364.7V237.4H361.6zM380.2 233.8H429.8V237.4H380.2zM432.9 233.8H454.6V237.4H432.9zM250 233.8H256.2V237.4H250zM290.3 233.8H293.4V237.4H290.3zM318.2 233.8H321.3V241H318.2zM426.7 237.4H442.2V241H426.7zM346.1 237.4H349.2V241H346.1zM482.5 237.4H490V241H482.5zM336.8 237.4H343V241H336.8zM352.3 237.4H358.5V241H352.3zM361.6 237.4H383.3V241H361.6zM395.7 237.4H420.5V241H395.7zM386.4 237.4H392.6V241H386.4zM330.6 237.4H333.7V244.6H330.6zM284.1 237.4H296.5V244.6H284.1zM445.3 237.4H451.5V244.6H445.3zM436 241H442.2V244.6H436zM336.8 241H370.9V244.6H336.8zM374 241H383.3V244.6H374zM389.5 241H420.5V244.6H389.5zM479.4 241H490V244.6H479.4zM423.6 241H432.9V244.6H423.6zM479.4 244.6H482.5V248.2H479.4zM324.4 244.6H346.1V248.2H324.4zM318.2 244.6H321.3V248.2H318.2zM374 244.6H405V248.2H374zM408.1 244.6H451.5V248.2H408.1zM485.6 244.6H490V248.2H485.6zM349.2 244.6H370.9V248.2H349.2zM290.3 244.6H293.4V248.2H290.3zM256.2 241H259.3V251.8H256.2zM312 244.6H315.1V251.8H312zM318.2 248.2H333.7V251.8H318.2zM364.7 248.2H370.9V251.8H364.7zM268.6 248.2H271.7V251.8H268.6zM336.8 248.2H361.6V251.8H336.8zM476.3 248.2H479.4V251.8H476.3zM374 248.2H401.9V251.8H374zM405 248.2H448.4V251.8H405zM268.6 251.8H274.8V255.4H268.6zM405 251.8H420.5V255.4H405zM398.8 251.8H401.9V255.4H398.8zM349.2 251.8H361.6V255.4H349.2zM327.5 251.8H333.7V255.4H327.5zM429.8 251.8H439.1V255.4H429.8zM374 251.8H395.7V255.4H374zM367.8 251.8H370.9V255.4H367.8zM442.2 251.8H448.4V255.4H442.2zM336.8 251.8H346.1V255.4H336.8zM259.3 251.8H262.4V259H259.3zM271.7 255.4H274.8V259H271.7zM246.9 255.4H250V259H246.9zM386.4 255.4H395.7V259H386.4zM370.9 255.4H383.3V259H370.9zM327.5 255.4H346.1V259H327.5zM398.8 255.4H417.4V259H398.8zM315.1 255.4H324.4V259H315.1zM423.6 251.8H426.7V262.6H423.6zM451.5 251.8H454.6V262.6H451.5zM349.2 255.4H367.8V262.6H349.2zM473.2 255.4H479.4V262.6H473.2zM370.9 259H380.2V262.6H370.9zM408.1 259H414.3V262.6H408.1zM398.8 259H405V262.6H398.8zM383.3 259H395.7V262.6H383.3zM315.1 259H346.1V262.6H315.1zM436 255.4H439.1V266.2H436zM312 262.6H349.2V266.2H312zM250 262.6H253.1V266.2H250zM470.1 262.6H485.6V266.2H470.1zM454.6 262.6H457.7V266.2H454.6zM429.8 262.6H432.9V266.2H429.8zM383.3 262.6H414.3V266.2H383.3zM445.3 262.6H448.4V269.8H445.3zM364.7 262.6H377.1V269.8H364.7zM281 262.6H284.1V269.8H281zM420.5 262.6H423.6V269.8H420.5zM243.8 266.2H253.1V269.8H243.8zM312 266.2H339.9V269.8H312zM343 266.2H349.2V269.8H343zM451.5 266.2H457.7V269.8H451.5zM389.5 266.2H411.2V269.8H389.5zM265.5 266.2H271.7V269.8H265.5zM290.3 266.2H293.4V269.8H290.3zM488.7 248.2H490V273.4H488.7zM352.3 262.6H361.6V273.4H352.3zM302.7 266.2H308.9V273.4H302.7zM467 266.2H485.6V273.4H467zM380.2 266.2H386.4V273.4H380.2zM389.5 269.8H395.7V273.4H389.5zM262.4 269.8H271.7V273.4H262.4zM312 269.8H318.2V273.4H312zM277.9 269.8H287.2V273.4H277.9zM454.6 269.8H463.9V273.4H454.6zM333.7 269.8H349.2V273.4H333.7zM398.8 269.8H405V273.4H398.8zM367.8 269.8H377.1V273.4H367.8zM321.3 269.8H327.5V273.4H321.3zM302.7 273.4H318.2V277H302.7zM364.7 273.4H370.9V277H364.7zM374 273.4H377.1V277H374zM268.6 273.4H271.7V277H268.6zM380.2 273.4H395.7V277H380.2zM457.7 273.4H490V277H457.7zM324.4 273.4H327.5V277H324.4zM408.1 269.8H411.2V280.6H408.1zM398.8 273.4H401.9V280.6H398.8zM333.7 273.4H358.5V280.6H333.7zM259.3 273.4H262.4V280.6H259.3zM392.6 277H395.7V280.6H392.6zM429.8 277H432.9V280.6H429.8zM302.7 277H321.3V280.6H302.7zM423.6 277H426.7V280.6H423.6zM361.6 277H389.5V280.6H361.6zM454.6 277H482.5V280.6H454.6zM485.6 277H490V284.2H485.6zM445.3 280.6H448.4V284.2H445.3zM479.4 280.6H482.5V284.2H479.4zM408.1 280.6H414.3V284.2H408.1zM318.2 280.6H321.3V284.2H318.2zM308.9 280.6H315.1V284.2H308.9zM463.9 280.6H476.3V284.2H463.9zM454.6 280.6H457.7V284.2H454.6zM417.4 280.6H436V284.2H417.4zM395.7 280.6H398.8V284.2H395.7zM439.1 280.6H442.2V284.2H439.1zM296.5 280.6H305.8V284.2H296.5zM374 280.6H389.5V287.8H374zM358.5 280.6H370.9V287.8H358.5zM293.4 284.2H299.6V287.8H293.4zM460.8 284.2H463.9V287.8H460.8zM426.7 284.2H429.8V287.8H426.7zM417.4 284.2H423.6V287.8H417.4zM411.2 284.2H414.3V287.8H411.2zM482.5 284.2H485.6V291.4H482.5zM262.4 284.2H265.5V291.4H262.4zM290.3 287.8H299.6V291.4H290.3zM374 287.8H386.4V291.4H374zM253.1 287.8H256.2V291.4H253.1zM346.1 287.8H349.2V291.4H346.1zM408.1 287.8H411.2V291.4H408.1zM417.4 287.8H420.5V291.4H417.4zM352.3 280.6H355.4V295H352.3zM488.7 284.2H490V295H488.7zM271.7 284.2H277.9V295H271.7zM432.9 284.2H436V295H432.9zM358.5 287.8H364.7V295H358.5zM281 291.4H284.1V295H281zM250 291.4H256.2V295H250zM377.1 291.4H383.3V295H377.1zM290.3 291.4H296.5V295H290.3zM405 291.4H414.3V295H405zM302.7 284.2H305.8V298.6H302.7zM467 284.2H470.1V298.6H467zM395.7 291.4H398.8V298.6H395.7zM253.1 295H256.2V298.6H253.1zM274.8 295H277.9V298.6H274.8zM405 295H411.2V298.6H405zM367.8 287.8H370.9V302.2H367.8zM336.8 291.4H339.9V302.2H336.8zM343 291.4H346.1V302.2H343zM358.5 295H361.6V302.2H358.5zM417.4 295H420.5V302.2H417.4zM392.6 298.6H398.8V302.2H392.6zM293.4 298.6H299.6V302.2H293.4zM392.6 302.2H395.7V305.8H392.6zM293.4 302.2H302.7V305.8H293.4zM287.2 298.6H290.3V309.4H287.2zM293.4 305.8H308.9V309.4H293.4zM293.4 309.4H327.5V313H293.4zM339.9 313H343V316.6H339.9zM318.2 313H333.7V316.6H318.2zM296.5 313H315.1V316.6H296.5zM268.6 313H271.7V316.6H268.6zM268.6 316.6H277.9V320.2H268.6zM296.5 316.6H346.1V320.2H296.5zM281 320.2H284.1V323.8H281zM324.4 320.2H343V323.8H324.4zM296.5 320.2H321.3V323.8H296.5zM349.2 316.6H352.3V327.4H349.2zM321.3 323.8H339.9V327.4H321.3zM305.8 323.8H318.2V327.4H305.8zM271.7 327.4H274.8V331H271.7zM299.6 327.4H312V331H299.6zM349.2 327.4H358.5V331H349.2zM315.1 327.4H346.1V331H315.1zM302.7 331H364.7V334.6H302.7zM293.4 331H296.5V334.6H293.4zM367.8 331H370.9V334.6H367.8zM321.3 334.6H370.9V338.2H321.3zM302.7 334.6H318.2V341.8H302.7zM321.3 338.2H380.2V341.8H321.3zM281 338.2H284.1V341.8H281zM383.3 338.2H392.6V345.4H383.3zM308.9 341.8H327.5V345.4H308.9zM299.6 341.8H305.8V345.4H299.6zM358.5 341.8H380.2V345.4H358.5zM330.6 341.8H355.4V345.4H330.6zM302.7 345.4H305.8V349H302.7zM308.9 345.4H398.8V349H308.9zM401.9 345.4H405V352.6H401.9zM321.3 349H398.8V352.6H321.3zM312 349H315.1V352.6H312zM321.3 352.6H401.9V356.2H321.3zM308.9 352.6H315.1V356.2H308.9zM383.3 356.2H401.9V359.8H383.3zM364.7 356.2H380.2V359.8H364.7zM308.9 356.2H361.6V363.4H308.9zM364.7 359.8H401.9V363.4H364.7zM308.9 363.4H358.5V367H308.9zM386.4 363.4H401.9V367H386.4zM361.6 363.4H383.3V367H361.6zM277.9 363.4H281V370.6H277.9zM361.6 367H401.9V370.6H361.6zM349.2 367H358.5V370.6H349.2zM308.9 367H346.1V370.6H308.9zM308.9 370.6H321.3V374.2H308.9zM324.4 370.6H411.2V374.2H324.4zM308.9 374.2H389.5V377.8H308.9zM392.6 374.2H414.3V377.8H392.6zM352.3 377.8H420.5V381.4H352.3zM333.7 377.8H349.2V381.4H333.7zM308.9 377.8H330.6V381.4H308.9zM426.7 381.4H429.8V385H426.7zM20.6 381.4H23.7V385H20.6zM352.3 381.4H380.2V385H352.3zM383.3 381.4H423.6V385H383.3zM336.8 381.4H349.2V385H336.8zM308.9 381.4H333.7V388.6H308.9zM336.8 385H364.7V388.6H336.8zM284.1 385H290.3V388.6H284.1zM367.8 385H380.2V388.6H367.8zM29.9 385H33V388.6H29.9zM386.4 385H432.9V388.6H386.4zM367.8 388.6H389.5V392.2H367.8zM17.5 388.6H20.6V392.2H17.5zM312 388.6H327.5V392.2H312zM392.6 388.6H429.8V392.2H392.6zM33 388.6H36.1V392.2H33zM330.6 388.6H364.7V392.2H330.6zM281 388.6H290.3V392.2H281zM23.7 388.6H26.8V392.2H23.7zM281 392.2H284.1V395.8H281zM330.6 392.2H389.5V395.8H330.6zM392.6 392.2H432.9V395.8H392.6zM308.9 392.2H327.5V399.4H308.9zM20.6 392.2H26.8V399.4H20.6zM5.1 395.8H8.2V399.4H5.1zM408.1 395.8H432.9V399.4H408.1zM45.4 395.8H48.5V399.4H45.4zM330.6 395.8H405V399.4H330.6zM436 395.8H439.1V399.4H436zM11.3 395.8H14.4V399.4H11.3zM26.8 399.4H29.9V403H26.8zM308.9 399.4H411.2V403H308.9zM2 399.4H5.1V403H2zM414.3 399.4H436V403H414.3zM104.3 399.4H110.5V403H104.3zM8.2 399.4H11.3V406.6H8.2zM414.3 403H439.1V406.6H414.3zM26.8 403H36.1V406.6H26.8zM408.1 403H411.2V406.6H408.1zM14.4 403H17.5V406.6H14.4zM98.1 403H104.3V406.6H98.1zM312 403H330.6V410.2H312zM333.7 403H389.5V410.2H333.7zM392.6 403H405V410.2H392.6zM20.6 406.6H23.7V410.2H20.6zM11.3 406.6H17.5V410.2H11.3zM129.1 406.6H132.2V410.2H129.1zM2 406.6H5.1V410.2H2zM408.1 406.6H445.3V410.2H408.1zM88.8 406.6H91.9V410.2H88.8zM122.9 406.6H126V410.2H122.9zM116.7 406.6H119.8V410.2H116.7zM423.6 410.2H445.3V413.8H423.6zM398.8 410.2H420.5V413.8H398.8zM392.6 410.2H395.7V413.8H392.6zM383.3 410.2H389.5V413.8H383.3zM104.3 410.2H110.5V413.8H104.3zM73.3 410.2H76.4V413.8H73.3zM17.5 410.2H23.7V413.8H17.5zM346.1 410.2H380.2V413.8H346.1zM312 410.2H343V413.8H312zM45.4 410.2H48.5V416.5H45.4zM85.7 413.8H88.8V416.5H85.7zM277.9 413.8H281V416.5H277.9zM20.6 413.8H23.7V416.5H20.6zM312 413.8H392.6V416.5H312zM408.1 413.8H445.3V416.5H408.1zM29.9 413.8H33V416.5H29.9zM122.9 413.8H126V416.5H122.9zM104.3 413.8H107.4V416.5H104.3zM36.1 413.8H39.2V416.5H36.1zM395.7 413.8H405V416.5H395.7zM2 413.8H8.2V416.5H2z"/>
<path fill="#c8000f" d="M423.6 143.8H426.7V147.4H423.6zM392.6 223H395.7V226.6H392.6zM383.3 223H386.4V226.6H383.3zM377.1 230.2H380.2V237.4H377.1zM383.3 237.4H386.4V241H383.3zM420.5 237.4H426.7V241H420.5zM442.2 237.4H445.3V244.6H442.2zM383.3 241H389.5V244.6H383.3zM420.5 241H423.6V244.6H420.5zM346.1 244.6H349.2V248.2H346.1zM482.5 244.6H485.6V248.2H482.5zM479.4 248.2H488.7V251.8H479.4zM333.7 248.2H336.8V255.4H333.7zM448.4 248.2H451.5V255.4H448.4zM420.5 251.8H423.6V255.4H420.5zM476.3 251.8H488.7V255.4H476.3zM321.3 251.8H327.5V255.4H321.3zM426.7 251.8H429.8V255.4H426.7zM439.1 251.8H442.2V259H439.1zM417.4 255.4H423.6V259H417.4zM445.3 255.4H451.5V259H445.3zM324.4 255.4H327.5V259H324.4zM479.4 255.4H488.7V262.6H479.4zM426.7 255.4H436V262.6H426.7zM414.3 259H423.6V262.6H414.3zM439.1 259H451.5V262.6H439.1zM380.2 259H383.3V266.2H380.2zM423.6 262.6H429.8V266.2H423.6zM439.1 262.6H445.3V266.2H439.1zM432.9 262.6H436V266.2H432.9zM414.3 262.6H420.5V266.2H414.3zM448.4 262.6H454.6V266.2H448.4zM423.6 266.2H432.9V269.8H423.6zM436 266.2H445.3V269.8H436zM448.4 266.2H451.5V269.8H448.4zM417.4 266.2H420.5V269.8H417.4zM485.6 262.6H488.7V273.4H485.6zM411.2 266.2H414.3V273.4H411.2zM429.8 269.8H454.6V273.4H429.8zM417.4 269.8H426.7V273.4H417.4zM405 269.8H408.1V273.4H405zM318.2 269.8H321.3V273.4H318.2zM327.5 269.8H333.7V277H327.5zM318.2 273.4H324.4V277H318.2zM411.2 273.4H457.7V277H411.2zM370.9 273.4H374V277H370.9zM395.7 269.8H398.8V280.6H395.7zM401.9 273.4H408.1V280.6H401.9zM389.5 277H392.6V280.6H389.5zM432.9 277H454.6V280.6H432.9zM411.2 277H423.6V280.6H411.2zM426.7 277H429.8V280.6H426.7zM321.3 277H330.6V284.2H321.3zM482.5 277H485.6V284.2H482.5zM398.8 280.6H408.1V284.2H398.8zM442.2 280.6H445.3V284.2H442.2zM436 280.6H439.1V284.2H436zM476.3 280.6H479.4V284.2H476.3zM315.1 280.6H318.2V284.2H315.1zM305.8 280.6H308.9V284.2H305.8zM389.5 280.6H395.7V284.2H389.5zM448.4 280.6H454.6V284.2H448.4zM333.7 280.6H352.3V287.8H333.7zM429.8 284.2H432.9V287.8H429.8zM423.6 284.2H426.7V287.8H423.6zM389.5 284.2H411.2V287.8H389.5zM463.9 284.2H467V287.8H463.9zM370.9 280.6H374V291.4H370.9zM414.3 280.6H417.4V291.4H414.3zM436 284.2H454.6V291.4H436zM299.6 284.2H302.7V291.4H299.6zM470.1 284.2H482.5V291.4H470.1zM305.8 284.2H330.6V291.4H305.8zM485.6 284.2H488.7V291.4H485.6zM349.2 287.8H352.3V291.4H349.2zM395.7 287.8H408.1V291.4H395.7zM386.4 287.8H392.6V291.4H386.4zM333.7 287.8H346.1V291.4H333.7zM460.8 287.8H467V291.4H460.8zM420.5 287.8H432.9V291.4H420.5zM355.4 280.6H358.5V295H355.4zM364.7 287.8H367.8V295H364.7zM370.9 291.4H377.1V295H370.9zM324.4 291.4H330.6V295H324.4zM423.6 291.4H432.9V295H423.6zM346.1 291.4H352.3V295H346.1zM482.5 291.4H488.7V295H482.5zM463.9 291.4H467V295H463.9zM305.8 291.4H315.1V295H305.8zM333.7 291.4H336.8V295H333.7zM383.3 291.4H392.6V295H383.3zM318.2 291.4H321.3V295H318.2zM414.3 291.4H420.5V295H414.3zM436 291.4H442.2V295H436zM448.4 291.4H460.8V298.6H448.4zM470.1 291.4H479.4V298.6H470.1zM398.8 291.4H405V298.6H398.8zM296.5 291.4H302.7V298.6H296.5zM305.8 295H321.3V298.6H305.8zM346.1 295H349.2V298.6H346.1zM423.6 295H442.2V298.6H423.6zM482.5 295H490V298.6H482.5zM370.9 295H383.3V298.6H370.9zM324.4 295H336.8V298.6H324.4zM411.2 295H417.4V298.6H411.2zM352.3 295H358.5V298.6H352.3zM386.4 295H395.7V298.6H386.4zM339.9 291.4H343V302.2H339.9zM361.6 295H367.8V302.2H361.6zM423.6 298.6H448.4V302.2H423.6zM454.6 298.6H490V302.2H454.6zM349.2 298.6H358.5V302.2H349.2zM398.8 298.6H417.4V302.2H398.8zM299.6 298.6H336.8V302.2H299.6zM374 298.6H392.6V305.8H374zM395.7 302.2H401.9V305.8H395.7zM343 302.2H346.1V305.8H343zM408.1 302.2H490V305.8H408.1zM349.2 302.2H370.9V305.8H349.2zM302.7 302.2H312V305.8H302.7zM308.9 305.8H312V309.4H308.9zM439.1 305.8H490V309.4H439.1zM408.1 305.8H423.6V309.4H408.1zM377.1 305.8H405V309.4H377.1zM426.7 305.8H429.8V309.4H426.7zM343 305.8H370.9V313H343zM420.5 309.4H423.6V313H420.5zM392.6 309.4H417.4V313H392.6zM377.1 309.4H389.5V313H377.1zM417.4 313H423.6V316.6H417.4zM343 313H367.8V316.6H343zM370.9 313H389.5V316.6H370.9zM392.6 313H414.3V316.6H392.6zM333.7 313H339.9V316.6H333.7zM432.9 305.8H436V320.2H432.9zM445.3 309.4H490V320.2H445.3zM346.1 316.6H349.2V320.2H346.1zM408.1 316.6H411.2V320.2H408.1zM417.4 316.6H426.7V320.2H417.4zM352.3 316.6H380.2V323.8H352.3zM383.3 316.6H405V323.8H383.3zM321.3 320.2H324.4V323.8H321.3zM429.8 320.2H490V323.8H429.8zM420.5 320.2H426.7V323.8H420.5zM343 320.2H349.2V323.8H343zM352.3 323.8H358.5V327.4H352.3zM339.9 323.8H349.2V327.4H339.9zM318.2 323.8H321.3V327.4H318.2zM414.3 320.2H417.4V331H414.3zM370.9 323.8H380.2V331H370.9zM346.1 327.4H349.2V331H346.1zM386.4 323.8H408.1V334.6H386.4zM423.6 323.8H426.7V334.6H423.6zM436 323.8H490V334.6H436zM429.8 331H432.9V334.6H429.8zM370.9 331H383.3V334.6H370.9zM364.7 331H367.8V334.6H364.7zM414.3 331H420.5V334.6H414.3zM370.9 334.6H423.6V338.2H370.9zM429.8 334.6H490V338.2H429.8zM380.2 338.2H383.3V345.4H380.2zM392.6 338.2H411.2V345.4H392.6zM414.3 338.2H490V349H414.3zM405 345.4H411.2V352.6H405zM398.8 345.4H401.9V352.6H398.8zM401.9 352.6H414.3V356.2H401.9zM417.4 349H490V359.8H417.4zM401.9 356.2H411.2V363.4H401.9zM414.3 359.8H490V363.4H414.3zM383.3 363.4H386.4V367H383.3zM401.9 363.4H490V370.6H401.9zM346.1 367H349.2V370.6H346.1zM321.3 370.6H324.4V374.2H321.3zM411.2 370.6H490V374.2H411.2zM414.3 374.2H490V377.8H414.3zM420.5 377.8H490V381.4H420.5zM330.6 377.8H333.7V381.4H330.6zM423.6 381.4H426.7V385H423.6zM429.8 381.4H490V385H429.8zM333.7 381.4H336.8V388.6H333.7zM432.9 385H490V388.6H432.9zM23.7 385H26.8V388.6H23.7zM364.7 385H367.8V392.2H364.7zM429.8 388.6H490V392.2H429.8zM5.1 388.6H8.2V395.8H5.1zM432.9 392.2H490V395.8H432.9zM432.9 395.8H436V399.4H432.9zM439.1 395.8H490V399.4H439.1zM405 395.8H408.1V399.4H405zM107.4 395.8H110.5V399.4H107.4zM14.4 399.4H17.5V403H14.4zM436 399.4H490V403H436zM5.1 399.4H8.2V403H5.1zM439.1 403H490V406.6H439.1zM11.3 403H14.4V406.6H11.3zM2 403H8.2V406.6H2zM330.6 403H333.7V410.2H330.6zM98.1 406.6H101.2V410.2H98.1zM26.8 406.6H36.1V410.2H26.8zM389.5 403H392.6V413.8H389.5zM11.3 410.2H17.5V413.8H11.3zM420.5 410.2H423.6V413.8H420.5zM122.9 410.2H126V413.8H122.9zM395.7 410.2H398.8V413.8H395.7zM26.8 410.2H29.9V413.8H26.8zM445.3 406.6H490V416.5H445.3zM392.6 413.8H395.7V416.5H392.6zM33 413.8H36.1V416.5H33zM11.3 413.8H14.4V416.5H11.3zM405 413.8H408.1V416.5H405zM39.2 413.8H42.3V416.5H39.2z"/>
<path fill="#8c0005" d="M442.2 255.4H445.3V259H442.2zM432.9 266.2H436V269.8H432.9zM414.3 266.2H417.4V273.4H414.3zM426.7 269.8H429.8V273.4H426.7zM330.6 277H333.7V295H330.6zM392.6 287.8H395.7V295H392.6zM460.8 291.4H463.9V295H460.8zM315.1 291.4H318.2V295H315.1zM442.2 291.4H448.4V298.6H442.2zM479.4 291.4H482.5V298.6H479.4zM321.3 291.4H324.4V298.6H321.3zM460.8 295H467V298.6H460.8zM383.3 295H386.4V298.6H383.3zM349.2 295H352.3V298.6H349.2zM420.5 291.4H423.6V302.2H420.5zM370.9 298.6H374V305.8H370.9zM346.1 298.6H349.2V305.8H346.1zM401.9 302.2H408.1V305.8H401.9zM423.6 305.8H426.7V309.4H423.6zM405 305.8H408.1V309.4H405zM429.8 305.8H432.9V309.4H429.8zM370.9 305.8H377.1V313H370.9zM417.4 309.4H420.5V313H417.4zM423.6 309.4H432.9V316.6H423.6zM389.5 309.4H392.6V316.6H389.5zM367.8 313H370.9V316.6H367.8zM414.3 313H417.4V316.6H414.3zM436 305.8H439.1V320.2H436zM426.7 316.6H432.9V320.2H426.7zM405 316.6H408.1V320.2H405zM411.2 316.6H417.4V320.2H411.2zM380.2 316.6H383.3V323.8H380.2zM417.4 320.2H420.5V323.8H417.4zM405 320.2H414.3V323.8H405zM426.7 320.2H429.8V323.8H426.7zM380.2 323.8H386.4V331H380.2zM426.7 323.8H436V331H426.7zM417.4 323.8H423.6V331H417.4zM408.1 323.8H414.3V334.6H408.1zM383.3 331H386.4V334.6H383.3zM426.7 331H429.8V334.6H426.7zM420.5 331H423.6V334.6H420.5zM432.9 331H436V334.6H432.9zM423.6 334.6H429.8V338.2H423.6zM411.2 338.2H414.3V349H411.2zM411.2 349H417.4V352.6H411.2zM414.3 352.6H417.4V356.2H414.3zM411.2 356.2H417.4V359.8H411.2zM411.2 359.8H414.3V363.4H411.2zM11.3 392.2H17.5V395.8H11.3zM14.4 395.8H17.5V399.4H14.4zM23.7 399.4H26.8V413.8H23.7zM33 410.2H36.1V413.8H33zM14.4 413.8H20.6V416.5H14.4zM23.7 413.8H29.9V416.5H23.7z"/>
<rect x="501" y="25" width="497" height="391.5" fill="#ffe80f"/>
<path fill="#b4b4b4" d="M992.4 245.5H998V251.8H992.4zM979.8 251.8H998V264.4H979.8zM967.2 264.4H998V277H967.2zM778.2 277H790.8V289.6H778.2zM954.6 277H998V302.2H954.6zM765.6 289.6H816V302.2H765.6zM942 302.2H998V308.5H942zM847.5 302.2H860.1V314.8H847.5zM753 302.2H841.2V314.8H753zM935.7 308.5H998V327.4H935.7zM734.1 314.8H860.1V327.4H734.1zM734.1 327.4H885.3V333.7H734.1zM916.8 327.4H998V340H916.8zM721.5 333.7H885.3V340H721.5zM721.5 340H998V415.6H721.5z"/>
<path fill="#96ebfa" d="M954.6 50.2H960.9V56.5H954.6zM614.4 371.5H620.7V377.8H614.4z"/>
<path fill="#a5f2fa" d="M942 25H960.9V31.3H942zM942 31.3H954.6V37.6H942zM960.9 31.3H967.2V43.9H960.9zM942 37.6H948.3V43.9H942zM942 43.9H967.2V50.2H942zM942 50.2H954.6V56.5H942zM960.9 50.2H967.2V56.5H960.9zM948.3 56.5H967.2V62.8H948.3zM960.9 88H967.2V100.6H960.9zM954.6 100.6H967.2V106.9H954.6zM942 113.2H948.3V125.8H942zM954.6 106.9H960.9V132.1H954.6zM954.6 138.4H960.9V151H954.6zM526.2 321.1H532.5V340H526.2zM557.7 333.7H582.9V340H557.7zM519.9 340H538.8V346.3H519.9zM545.1 340H570.3V346.3H545.1zM576.6 340H601.8V346.3H576.6zM570.3 346.3H608.1V352.6H570.3zM526.2 346.3H564V358.9H526.2zM570.3 352.6H614.4V358.9H570.3zM570.3 358.9H627V365.2H570.3zM538.8 358.9H564V365.2H538.8zM519.9 358.9H532.5V371.5H519.9zM601.8 365.2H627V371.5H601.8zM551.4 365.2H595.5V371.5H551.4zM620.7 371.5H633.3V377.8H620.7zM589.2 371.5H595.5V377.8H589.2zM551.4 371.5H582.9V377.8H551.4zM538.8 365.2H545.1V384.1H538.8zM601.8 371.5H608.1V384.1H601.8zM551.4 377.8H595.5V384.1H551.4zM614.4 377.8H639.6V384.1H614.4zM627 384.1H639.6V390.4H627zM551.4 384.1H589.2V390.4H551.4zM595.5 384.1H620.7V390.4H595.5zM557.7 390.4H614.4V396.7H557.7zM627 390.4H633.3V396.7H627zM557.7 396.7H576.6V403H557.7zM620.7 396.7H627V403H620.7zM582.9 396.7H614.4V403H582.9zM608.1 403H614.4V409.3H608.1z"/>
<path fill="#c3ffff" d="M929.4 25H942V31.3H929.4zM916.8 25H923.1V31.3H916.8zM960.9 25H973.5V31.3H960.9zM979.8 25H986.1V31.3H979.8zM954.6 31.3H960.9V37.6H954.6zM916.8 31.3H942V37.6H916.8zM948.3 37.6H960.9V43.9H948.3zM986.1 31.3H992.4V50.2H986.1zM923.1 37.6H942V50.2H923.1zM935.7 50.2H942V56.5H935.7zM967.2 31.3H973.5V62.8H967.2zM935.7 56.5H948.3V75.4H935.7zM929.4 75.4H948.3V88H929.4zM954.6 88H960.9V94.3H954.6zM935.7 88H948.3V94.3H935.7zM935.7 94.3H960.9V100.6H935.7zM967.2 100.6H973.5V106.9H967.2zM935.7 100.6H954.6V113.2H935.7zM923.1 100.6H929.4V113.2H923.1zM960.9 106.9H979.8V119.5H960.9zM935.7 113.2H942V119.5H935.7zM948.3 113.2H954.6V125.8H948.3zM960.9 119.5H973.5V125.8H960.9zM942 125.8H954.6V132.1H942zM948.3 132.1H960.9V138.4H948.3zM948.3 138.4H954.6V144.7H948.3zM954.6 151H960.9V157.3H954.6zM545.1 220.3H557.7V226.6H545.1zM526.2 220.3H538.8V226.6H526.2zM519.9 226.6H557.7V232.9H519.9zM570.3 232.9H576.6V239.2H570.3zM519.9 232.9H564V239.2H519.9zM519.9 239.2H582.9V245.5H519.9zM507.3 245.5H582.9V264.4H507.3zM501 264.4H595.5V277H501zM501 277H601.8V283.3H501zM507.3 283.3H608.1V295.9H507.3zM507.3 295.9H614.4V302.2H507.3zM507.3 302.2H620.7V321.1H507.3zM532.5 321.1H627V333.7H532.5zM507.3 321.1H526.2V340H507.3zM532.5 333.7H557.7V340H532.5zM582.9 333.7H627V340H582.9zM570.3 340H576.6V346.3H570.3zM538.8 340H545.1V346.3H538.8zM601.8 340H633.3V346.3H601.8zM507.3 340H513.6V346.3H507.3zM608.1 346.3H633.3V352.6H608.1zM519.9 346.3H526.2V358.9H519.9zM614.4 352.6H639.6V358.9H614.4zM564 346.3H570.3V365.2H564zM532.5 358.9H538.8V371.5H532.5zM513.6 358.9H519.9V371.5H513.6zM627 358.9H639.6V371.5H627zM633.3 371.5H645.9V377.8H633.3zM582.9 371.5H589.2V377.8H582.9zM513.6 371.5H538.8V377.8H513.6zM595.5 365.2H601.8V384.1H595.5zM545.1 365.2H551.4V384.1H545.1zM608.1 371.5H614.4V384.1H608.1zM519.9 377.8H526.2V384.1H519.9zM639.6 377.8H645.9V384.1H639.6zM589.2 384.1H595.5V390.4H589.2zM639.6 384.1H658.5V390.4H639.6zM538.8 384.1H551.4V390.4H538.8zM620.7 384.1H627V390.4H620.7zM633.3 390.4H671.1V396.7H633.3zM614.4 390.4H627V396.7H614.4zM538.8 390.4H557.7V403H538.8zM614.4 396.7H620.7V403H614.4zM576.6 396.7H582.9V403H576.6zM627 396.7H677.4V403H627zM545.1 403H551.4V409.3H545.1zM614.4 403H683.7V409.3H614.4zM557.7 403H608.1V409.3H557.7zM576.6 409.3H683.7V415.6H576.6zM576.6 415.6H690V416.5H576.6z"/>
<path fill="#ffff5a" d="M973.5 25H979.8V31.3H973.5zM923.1 25H929.4V31.3H923.1zM753 25H765.6V31.3H753zM986.1 25H998V31.3H986.1zM652.2 25H690V37.6H652.2zM501 25H589.2V37.6H501zM746.7 31.3H765.6V37.6H746.7zM696.3 25H740.4V43.9H696.3zM771.9 25H778.2V43.9H771.9zM652.2 37.6H683.7V43.9H652.2zM753 37.6H765.6V43.9H753zM582.9 37.6H589.2V43.9H582.9zM992.4 31.3H998V50.2H992.4zM973.5 31.3H986.1V50.2H973.5zM916.8 37.6H923.1V50.2H916.8zM690 43.9H740.4V50.2H690zM904.2 25H910.5V62.8H904.2zM916.8 50.2H935.7V62.8H916.8zM973.5 50.2H998V62.8H973.5zM929.4 62.8H935.7V69.1H929.4zM979.8 62.8H986.1V69.1H979.8zM916.8 62.8H923.1V69.1H916.8zM948.3 62.8H973.5V69.1H948.3zM897.9 62.8H910.5V75.4H897.9zM948.3 69.1H954.6V75.4H948.3zM916.8 69.1H935.7V75.4H916.8zM677.4 50.2H740.4V81.7H677.4zM960.9 69.1H973.5V81.7H960.9zM897.9 75.4H929.4V81.7H897.9zM916.8 81.7H929.4V88H916.8zM891.6 81.7H910.5V88H891.6zM954.6 81.7H967.2V88H954.6zM727.8 81.7H740.4V94.3H727.8zM683.7 81.7H690V94.3H683.7zM702.6 81.7H715.2V94.3H702.6zM948.3 88H954.6V94.3H948.3zM897.9 88H904.2V94.3H897.9zM916.8 88H935.7V100.6H916.8zM967.2 88H973.5V100.6H967.2zM897.9 94.3H910.5V100.6H897.9zM501 37.6H576.6V106.9H501zM916.8 100.6H923.1V106.9H916.8zM973.5 100.6H986.1V106.9H973.5zM929.4 100.6H935.7V113.2H929.4zM904.2 100.6H910.5V119.5H904.2zM923.1 113.2H935.7V119.5H923.1zM501 106.9H564V125.8H501zM973.5 119.5H979.8V125.8H973.5zM929.4 119.5H942V125.8H929.4zM910.5 119.5H916.8V132.1H910.5zM986.1 119.5H992.4V132.1H986.1zM929.4 125.8H935.7V132.1H929.4zM960.9 125.8H979.8V132.1H960.9zM501 125.8H576.6V138.4H501zM973.5 132.1H979.8V138.4H973.5zM942 132.1H948.3V138.4H942zM916.8 132.1H923.1V144.7H916.8zM501 138.4H582.9V151H501zM916.8 144.7H929.4V151H916.8zM960.9 132.1H967.2V157.3H960.9zM948.3 144.7H954.6V157.3H948.3zM954.6 157.3H967.2V163.6H954.6zM501 151H589.2V182.5H501zM501 182.5H595.5V195.1H501zM979.8 201.4H986.1V207.7H979.8zM501 195.1H601.8V220.3H501zM538.8 220.3H545.1V226.6H538.8zM501 220.3H526.2V226.6H501zM557.7 220.3H608.1V232.9H557.7zM564 232.9H570.3V239.2H564zM576.6 232.9H614.4V239.2H576.6zM501 226.6H519.9V245.5H501zM582.9 239.2H620.7V251.8H582.9zM582.9 251.8H614.4V258.1H582.9zM501 245.5H507.3V264.4H501zM582.9 258.1H620.7V264.4H582.9zM595.5 264.4H620.7V277H595.5zM601.8 277H627V283.3H601.8zM608.1 283.3H633.3V295.9H608.1zM614.4 295.9H645.9V302.2H614.4zM620.7 302.2H645.9V308.5H620.7zM620.7 308.5H652.2V314.8H620.7zM620.7 314.8H658.5V321.1H620.7zM627 321.1H658.5V327.4H627zM627 327.4H664.8V340H627zM501 283.3H507.3V346.3H501zM513.6 340H519.9V346.3H513.6zM633.3 340H671.1V352.6H633.3zM501 346.3H519.9V358.9H501zM639.6 352.6H671.1V358.9H639.6zM639.6 358.9H677.4V365.2H639.6zM501 358.9H513.6V365.2H501zM639.6 365.2H683.7V371.5H639.6zM501 365.2H507.3V384.1H501zM645.9 371.5H683.7V384.1H645.9zM513.6 377.8H519.9V384.1H513.6zM526.2 377.8H538.8V384.1H526.2zM658.5 384.1H690V390.4H658.5zM532.5 384.1H538.8V396.7H532.5zM519.9 384.1H526.2V396.7H519.9zM671.1 390.4H690V396.7H671.1zM519.9 396.7H538.8V403H519.9zM677.4 396.7H696.3V403H677.4zM519.9 403H545.1V409.3H519.9zM501 403H507.3V409.3H501zM551.4 403H557.7V409.3H551.4zM683.7 403H696.3V415.6H683.7zM519.9 409.3H532.5V415.6H519.9zM564 409.3H576.6V415.6H564zM570.3 415.6H576.6V416.5H570.3zM507.3 415.6H513.6V416.5H507.3zM526.2 415.6H532.5V416.5H526.2zM690 415.6H696.3V416.5H690z"/>
<path fill="#ffe80f" d="M740.4 25H753V31.3H740.4zM841.2 25H904.2V31.3H841.2zM690 25H696.3V37.6H690zM740.4 31.3H746.7V37.6H740.4zM834.9 31.3H904.2V37.6H834.9zM765.6 25H771.9V43.9H765.6zM589.2 25H652.2V43.9H589.2zM778.2 25H822.3V43.9H778.2zM740.4 37.6H753V43.9H740.4zM853.8 37.6H860.1V43.9H853.8zM576.6 37.6H582.9V43.9H576.6zM683.7 37.6H696.3V43.9H683.7zM872.7 37.6H897.9V43.9H872.7zM879 43.9H897.9V50.2H879zM576.6 43.9H690V50.2H576.6zM740.4 43.9H822.3V56.5H740.4zM891.6 50.2H904.2V62.8H891.6zM740.4 56.5H809.7V69.1H740.4zM973.5 62.8H979.8V69.1H973.5zM923.1 62.8H929.4V69.1H923.1zM986.1 62.8H998V69.1H986.1zM910.5 25H916.8V75.4H910.5zM954.6 69.1H960.9V75.4H954.6zM576.6 50.2H677.4V81.7H576.6zM891.6 62.8H897.9V81.7H891.6zM740.4 69.1H816V81.7H740.4zM973.5 69.1H998V81.7H973.5zM948.3 75.4H960.9V81.7H948.3zM967.2 81.7H998V88H967.2zM885.3 81.7H891.6V88H885.3zM910.5 81.7H916.8V88H910.5zM948.3 81.7H954.6V88H948.3zM740.4 81.7H809.7V88H740.4zM576.6 81.7H683.7V94.3H576.6zM690 81.7H702.6V94.3H690zM715.2 81.7H727.8V94.3H715.2zM885.3 88H897.9V94.3H885.3zM740.4 88H803.4V94.3H740.4zM904.2 88H916.8V94.3H904.2zM973.5 88H998V100.6H973.5zM891.6 94.3H897.9V100.6H891.6zM576.6 94.3H790.8V106.9H576.6zM910.5 94.3H916.8V106.9H910.5zM986.1 100.6H998V106.9H986.1zM885.3 100.6H904.2V106.9H885.3zM979.8 106.9H998V119.5H979.8zM910.5 106.9H923.1V119.5H910.5zM891.6 106.9H904.2V119.5H891.6zM564 106.9H790.8V125.8H564zM904.2 119.5H910.5V132.1H904.2zM916.8 119.5H929.4V132.1H916.8zM992.4 119.5H998V132.1H992.4zM979.8 119.5H986.1V132.1H979.8zM576.6 125.8H784.5V132.1H576.6zM935.7 125.8H942V132.1H935.7zM576.6 132.1H771.9V138.4H576.6zM979.8 132.1H998V138.4H979.8zM967.2 132.1H973.5V138.4H967.2zM923.1 132.1H942V138.4H923.1zM582.9 138.4H771.9V144.7H582.9zM923.1 138.4H948.3V144.7H923.1zM910.5 132.1H916.8V151H910.5zM582.9 144.7H734.1V151H582.9zM929.4 144.7H948.3V151H929.4zM916.8 151H948.3V157.3H916.8zM967.2 138.4H998V163.6H967.2zM929.4 157.3H954.6V163.6H929.4zM929.4 163.6H998V169.9H929.4zM929.4 169.9H973.5V176.2H929.4zM589.2 151H715.2V182.5H589.2zM923.1 176.2H973.5V182.5H923.1zM992.4 169.9H998V188.8H992.4zM929.4 182.5H973.5V188.8H929.4zM595.5 182.5H715.2V195.1H595.5zM929.4 188.8H998V195.1H929.4zM967.2 195.1H998V201.4H967.2zM967.2 201.4H979.8V207.7H967.2zM986.1 201.4H998V207.7H986.1zM601.8 195.1H715.2V214H601.8zM973.5 207.7H998V214H973.5zM601.8 214H696.3V220.3H601.8zM608.1 220.3H690V226.6H608.1zM608.1 226.6H683.7V232.9H608.1zM614.4 232.9H683.7V239.2H614.4zM620.7 239.2H696.3V245.5H620.7zM620.7 245.5H708.9V251.8H620.7zM614.4 251.8H708.9V258.1H614.4zM620.7 258.1H708.9V264.4H620.7zM620.7 264.4H715.2V277H620.7zM627 277H702.6V283.3H627zM633.3 283.3H702.6V289.6H633.3zM633.3 289.6H696.3V295.9H633.3zM645.9 295.9H696.3V302.2H645.9zM645.9 302.2H690V308.5H645.9zM652.2 308.5H690V314.8H652.2zM658.5 314.8H690V327.4H658.5zM664.8 327.4H690V333.7H664.8zM664.8 333.7H696.3V340H664.8zM671.1 340H702.6V358.9H671.1zM677.4 358.9H708.9V365.2H677.4zM507.3 365.2H513.6V384.1H507.3zM683.7 365.2H708.9V384.1H683.7zM526.2 384.1H532.5V396.7H526.2zM690 384.1H702.6V396.7H690zM501 384.1H519.9V403H501zM507.3 403H519.9V409.3H507.3zM501 409.3H519.9V415.6H501zM532.5 409.3H564V415.6H532.5zM696.3 396.7H708.9V416.5H696.3zM501 415.6H507.3V416.5H501zM513.6 415.6H526.2V416.5H513.6zM532.5 415.6H570.3V416.5H532.5z"/>
<path fill="#ffb914" d="M822.3 25H841.2V31.3H822.3zM822.3 31.3H834.9V37.6H822.3zM822.3 37.6H853.8V43.9H822.3zM860.1 37.6H872.7V43.9H860.1zM897.9 37.6H904.2V50.2H897.9zM822.3 43.9H879V50.2H822.3zM822.3 50.2H891.6V56.5H822.3zM809.7 56.5H891.6V69.1H809.7zM816 69.1H891.6V81.7H816zM809.7 81.7H885.3V88H809.7zM803.4 88H828.6V94.3H803.4zM834.9 88H885.3V94.3H834.9zM834.9 94.3H891.6V100.6H834.9zM790.8 94.3H828.6V106.9H790.8zM834.9 100.6H885.3V106.9H834.9zM841.2 106.9H891.6V113.2H841.2zM790.8 106.9H816V119.5H790.8zM841.2 113.2H853.8V119.5H841.2zM860.1 113.2H891.6V119.5H860.1zM790.8 119.5H809.7V125.8H790.8zM866.4 119.5H904.2V132.1H866.4zM784.5 125.8H809.7V132.1H784.5zM771.9 132.1H790.8V144.7H771.9zM872.7 132.1H910.5V144.7H872.7zM891.6 144.7H910.5V151H891.6zM734.1 144.7H778.2V151H734.1zM891.6 151H916.8V157.3H891.6zM715.2 151H778.2V169.9H715.2zM891.6 157.3H897.9V169.9H891.6zM904.2 157.3H929.4V169.9H904.2zM771.9 169.9H778.2V176.2H771.9zM910.5 169.9H929.4V176.2H910.5zM715.2 169.9H765.6V182.5H715.2zM910.5 176.2H923.1V182.5H910.5zM973.5 169.9H992.4V188.8H973.5zM904.2 182.5H929.4V195.1H904.2zM715.2 182.5H759.3V201.4H715.2zM904.2 195.1H967.2V201.4H904.2zM910.5 201.4H929.4V207.7H910.5zM960.9 201.4H967.2V207.7H960.9zM715.2 201.4H753V207.7H715.2zM935.7 201.4H942V207.7H935.7zM948.3 201.4H954.6V207.7H948.3zM740.4 207.7H746.7V214H740.4zM967.2 207.7H973.5V214H967.2zM715.2 207.7H734.1V214H715.2zM696.3 214H734.1V220.3H696.3zM967.2 214H998V220.3H967.2zM967.2 220.3H992.4V226.6H967.2zM690 220.3H740.4V226.6H690zM683.7 226.6H740.4V239.2H683.7zM696.3 239.2H734.1V245.5H696.3zM708.9 245.5H727.8V264.4H708.9zM715.2 264.4H727.8V277H715.2zM702.6 277H721.5V289.6H702.6zM696.3 289.6H721.5V302.2H696.3zM690 302.2H715.2V327.4H690zM690 327.4H721.5V333.7H690zM696.3 333.7H721.5V340H696.3zM702.6 340H721.5V358.9H702.6zM708.9 358.9H721.5V384.1H708.9zM702.6 384.1H721.5V396.7H702.6zM708.9 396.7H721.5V416.5H708.9z"/>
<path fill="#ff7d0f" d="M828.6 88H834.9V106.9H828.6zM816 106.9H841.2V119.5H816zM853.8 113.2H860.1V119.5H853.8zM809.7 119.5H866.4V132.1H809.7zM790.8 132.1H872.7V144.7H790.8zM778.2 144.7H891.6V169.9H778.2zM897.9 157.3H904.2V169.9H897.9zM853.8 169.9H910.5V176.2H853.8zM778.2 169.9H790.8V176.2H778.2zM765.6 169.9H771.9V176.2H765.6zM765.6 176.2H790.8V182.5H765.6zM860.1 176.2H910.5V182.5H860.1zM866.4 182.5H904.2V188.8H866.4zM759.3 182.5H784.5V188.8H759.3zM866.4 188.8H891.6V195.1H866.4zM759.3 188.8H778.2V201.4H759.3zM897.9 188.8H904.2V201.4H897.9zM879 195.1H885.3V201.4H879zM954.6 201.4H960.9V207.7H954.6zM753 201.4H771.9V207.7H753zM929.4 201.4H935.7V207.7H929.4zM942 201.4H948.3V207.7H942zM897.9 201.4H910.5V207.7H897.9zM734.1 207.7H740.4V214H734.1zM746.7 207.7H759.3V214H746.7zM904.2 207.7H967.2V214H904.2zM734.1 214H759.3V220.3H734.1zM916.8 214H967.2V220.3H916.8zM916.8 220.3H948.3V226.6H916.8zM992.4 220.3H998V226.6H992.4zM954.6 220.3H960.9V226.6H954.6zM967.2 226.6H998V232.9H967.2zM740.4 220.3H759.3V239.2H740.4zM973.5 232.9H979.8V239.2H973.5zM986.1 232.9H992.4V239.2H986.1zM734.1 239.2H759.3V245.5H734.1zM727.8 245.5H753V264.4H727.8zM727.8 264.4H746.7V277H727.8zM721.5 277H746.7V289.6H721.5zM721.5 289.6H740.4V302.2H721.5zM715.2 302.2H734.1V327.4H715.2zM721.5 327.4H734.1V333.7H721.5zM721.5 415.6H790.8V416.5H721.5zM797.1 415.6H998V416.5H797.1z"/>
<path fill="#fa320f" d="M790.8 169.9H853.8V176.2H790.8zM790.8 176.2H860.1V182.5H790.8zM784.5 182.5H866.4V188.8H784.5zM847.5 188.8H866.4V195.1H847.5zM891.6 188.8H897.9V195.1H891.6zM778.2 188.8H841.2V201.4H778.2zM885.3 195.1H897.9V201.4H885.3zM847.5 195.1H879V201.4H847.5zM771.9 201.4H897.9V207.7H771.9zM759.3 207.7H822.3V214H759.3zM847.5 207.7H904.2V214H847.5zM828.6 207.7H834.9V214H828.6zM759.3 214H816V220.3H759.3zM853.8 214H916.8V220.3H853.8zM891.6 220.3H916.8V226.6H891.6zM872.7 220.3H879V226.6H872.7zM948.3 220.3H954.6V226.6H948.3zM809.7 220.3H816V226.6H809.7zM960.9 220.3H967.2V226.6H960.9zM759.3 220.3H797.1V232.9H759.3zM897.9 226.6H967.2V232.9H897.9zM759.3 232.9H778.2V239.2H759.3zM979.8 232.9H986.1V239.2H979.8zM897.9 232.9H973.5V239.2H897.9zM992.4 232.9H998V239.2H992.4zM759.3 239.2H771.9V245.5H759.3zM897.9 239.2H998V245.5H897.9zM897.9 245.5H992.4V251.8H897.9zM753 245.5H771.9V264.4H753zM746.7 264.4H771.9V283.3H746.7zM746.7 283.3H765.6V289.6H746.7zM740.4 289.6H765.6V302.2H740.4zM734.1 302.2H753V314.8H734.1zM790.8 415.6H797.1V416.5H790.8z"/>
<path fill="#fa000a" d="M841.2 188.8H847.5V201.4H841.2zM822.3 207.7H828.6V214H822.3zM834.9 207.7H847.5V214H834.9zM816 214H853.8V220.3H816zM879 220.3H891.6V226.6H879zM816 220.3H872.7V226.6H816zM797.1 220.3H809.7V226.6H797.1zM797.1 226.6H897.9V232.9H797.1zM778.2 232.9H897.9V239.2H778.2zM771.9 239.2H897.9V245.5H771.9zM860.1 245.5H897.9V251.8H860.1zM866.4 251.8H979.8V258.1H866.4zM771.9 245.5H841.2V264.4H771.9zM866.4 258.1H935.7V264.4H866.4zM942 258.1H979.8V264.4H942zM879 264.4H923.1V270.7H879zM954.6 264.4H967.2V277H954.6zM771.9 264.4H816V277H771.9zM879 270.7H916.8V277H879zM771.9 277H778.2V283.3H771.9zM885.3 277H891.6V289.6H885.3zM790.8 277H816V289.6H790.8zM872.7 277H879V289.6H872.7zM904.2 277H910.5V289.6H904.2zM765.6 283.3H778.2V289.6H765.6zM879 302.2H897.9V314.8H879z"/>
<path fill="#c8000f" d="M841.2 245.5H860.1V251.8H841.2zM841.2 251.8H866.4V264.4H841.2zM935.7 258.1H942V264.4H935.7zM923.1 264.4H954.6V270.7H923.1zM816 264.4H879V277H816zM916.8 270.7H954.6V277H916.8zM891.6 277H904.2V289.6H891.6zM816 277H872.7V289.6H816zM910.5 277H954.6V289.6H910.5zM879 277H885.3V289.6H879zM816 289.6H954.6V302.2H816zM897.9 302.2H942V308.5H897.9zM841.2 302.2H847.5V314.8H841.2zM860.1 302.2H879V314.8H860.1zM897.9 308.5H935.7V314.8H897.9zM860.1 314.8H935.7V327.4H860.1zM885.3 327.4H916.8V340H885.3z"/>
</g>
<g stroke="#55503c" stroke-opacity=".62" stroke-width="1" fill="none">
<path d="M2 90.2H490M501 90.2H998M42.2 25V416M342.2 25V416M540.4 25V416M838.3 25V416"/>
</g>
<g stroke="#1c1c18" stroke-width=".85" stroke-opacity=".9" fill="none" stroke-linejoin="round">
<polyline points="2.5,54 11.3,89.5 8.8,102 3.8,94.5"/>
<polyline points="467.9,25 471.8,35.6 469.8,57 437.7,74.4 462.8,112.2 452,154 460.3,188 489.5,194.3"/>
<polyline points="2.6,357.8 23.7,369.6 39.5,386.7 84.3,389.4 87,368.3 129,403.9 147.5,403.9 145,415.7 128.3,415.7 128.3,403.9"/>
<polyline points="489,251 464,279 440,315 437,327 410,345 362,324 359.2,304 343,304.8 348.3,296.6 330.7,302 344.3,280.4 330.7,302 323.2,280.4 330.7,302 317,300.7 287,285 282.5,277.5 227,336 221.3,371 231.8,416"/>
<polyline points="502.5,54 511.3,89.5 508.8,102 503.8,94.5"/>
<polyline points="964,25 970.4,36.6 966.6,56.7 936.4,74.4 960.3,112.2 950.3,154 957.8,188 997.5,195.6 993,247"/>
<polyline points="502.6,356.4 523.7,369.6 540.8,388 584.3,388.8 586.4,367 629,403.9 647.5,403.9 645,415.7 628.3,415.7 628.3,403.9"/>
<polyline points="997.5,245.6 986,251.2 960.8,276.4 944,303 935.6,329.6 910.4,345.8 860,322.6 857.2,303 844.6,304.4 843.2,294.6 832,303 827.8,305.8 820.8,279.2 816.6,300.2 787.2,286.2 776,277.8 726.5,334 720,372 730.5,416"/>
</g>
<rect x="501" y="80" width="5.5" height="12.2" fill="#a9a9b0"/>
<g fill="none" stroke="#222" stroke-width="1.4">
<path d="M1 24.3H490.5M1 416.6H490.5M500.3 24.3H998.5M500.3 416.6H998.5M500.7 24V417"/>
</g>
<path d="M1.5 24V417" stroke="#8a8a8a" stroke-width="1.6" fill="none"/>
<path d="M998.2 24V417" stroke="#8a8a8a" stroke-width="1.2" fill="none"/>
<g fill="#000">
<circle cx="81" cy="117.7" r="8.3"/>
<circle cx="126" cy="117.7" r="8.3"/>
<circle cx="323" cy="142.4" r="8.3"/>
<circle cx="431.4" cy="141.9" r="8.3"/>
<circle cx="74.3" cy="236.4" r="8.3"/>
<circle cx="125.4" cy="274.4" r="8.3"/>
<circle cx="282.6" cy="276.5" r="8.3"/>
<circle cx="353.7" cy="286.8" r="8.3"/>
<circle cx="473" cy="273.3" r="8.3"/>
<circle cx="42.1" cy="324.8" r="8.3"/>
<circle cx="107.5" cy="352" r="8.3"/>
<circle cx="212.6" cy="390.7" r="8.3"/>
<circle cx="581.9" cy="116.7" r="8.3"/>
<circle cx="623.4" cy="116.7" r="8.3"/>
<circle cx="820.5" cy="142.4" r="8.3"/>
<circle cx="928.8" cy="141.9" r="8.3"/>
<circle cx="570.5" cy="236.6" r="8.3"/>
<circle cx="624.7" cy="272.4" r="8.3"/>
<circle cx="778.8" cy="268.4" r="8.3"/>
<circle cx="850.6" cy="286.4" r="8.3"/>
<circle cx="967.8" cy="272.2" r="8.3"/>
<circle cx="540.8" cy="325.4" r="8.3"/>
<circle cx="606.7" cy="352.5" r="8.3"/>
<circle cx="711.5" cy="388.6" r="8.3"/>
</g>
<g font-size="24.5" fill="#2e2e2e">
<text transform="translate(42,90.3) scale(.985,1.12)">45°N</text>
<text transform="translate(540.5,90.3) scale(.985,1.12)">45°N</text>
<text transform="translate(41.5,388) scale(.985,1.12)">0°</text>
<text transform="translate(540,388.5) scale(.985,1.12)">0°</text>
<text transform="translate(341.5,388.5) scale(.985,1.12)">5°E</text>
<text transform="translate(839,389.5) scale(.985,1.12)">5°E</text>
</g>
<g font-size="16.1" fill="#2c2c2c" text-anchor="middle">
<text x="240.5" y="14.5">SD-CTY monthly sum July 2008</text>
<text x="735" y="14.5">SD-RCC monthly sum July 2008</text>
</g>
<g stroke="#161616" stroke-width="1" stroke-linejoin="miter">
<path d="M938.3 283.6L938.3 310.2L946.8 312.7Z" fill="#161616"/>
<path d="M938.3 283.6L938.3 310.2L929.8 312.7Z" fill="none"/>
<path d="M939.3 371.3L938.3 344.2L929.8 341.7Z" fill="#161616"/>
<path d="M939.3 371.3L938.3 344.2L946.8 341.7Z" fill="#cfcfcf"/>
<path d="M896.6 327.7L921.3 327.2L923.8 318.7Z" fill="#161616"/>
<path d="M896.6 327.7L921.3 327.2L923.8 335.7Z" fill="none"/>
<path d="M980.7 327.7L955.3 327.2L952.8 335.7Z" fill="#161616"/>
<path d="M980.7 327.7L955.3 327.2L952.8 318.7Z" fill="#cfcfcf"/>
<circle cx="938.3" cy="327.2" r="17" fill="none" stroke-width="1.8"/>
</g>
<text class="sf" x="939" y="278" font-size="17" text-anchor="middle" fill="#3a0505">N</text>
<rect x="883" y="405.2" width="111.8" height="8.6" fill="#161616"/>
<rect x="906.3" y="406.8" width="21" height="5.4" fill="#fff"/>
<rect x="951.3" y="406.8" width="21" height="5.4" fill="#fff"/>
<path d="M883 399V406M905.3 399V406M927.8 399V406M950.3 399V406M972.8 399V406M994.8 399V406" stroke="#333" stroke-width=".9" fill="none"/>
<text transform="translate(937.3,396.6) scale(1,1.15)" font-size="20" text-anchor="middle" fill="#262626">150 km</text>
<g shape-rendering="crispEdges">
<rect x="277.50" y="442" width="27.33" height="14.5" fill="#0505c8"/>
<rect x="304.53" y="442" width="27.33" height="14.5" fill="#192df5"/>
<rect x="331.56" y="442" width="27.33" height="14.5" fill="#327dfa"/>
<rect x="358.59" y="442" width="27.33" height="14.5" fill="#5aaffa"/>
<rect x="385.62" y="442" width="27.33" height="14.5" fill="#78d2fa"/>
<rect x="412.65" y="442" width="27.33" height="14.5" fill="#96ebfa"/>
<rect x="439.68" y="442" width="27.33" height="14.5" fill="#a5f2fa"/>
<rect x="466.71" y="442" width="27.33" height="14.5" fill="#c3ffff"/>
<rect x="493.74" y="442" width="27.33" height="14.5" fill="#ffff5a"/>
<rect x="520.77" y="442" width="27.33" height="14.5" fill="#ffe80f"/>
<rect x="547.80" y="442" width="27.33" height="14.5" fill="#ffb914"/>
<rect x="574.83" y="442" width="27.33" height="14.5" fill="#ff7d0f"/>
<rect x="601.86" y="442" width="27.33" height="14.5" fill="#fa320f"/>
<rect x="628.89" y="442" width="27.33" height="14.5" fill="#fa000a"/>
<rect x="655.92" y="442" width="27.33" height="14.5" fill="#c8000f"/>
<rect x="682.95" y="442" width="27.33" height="14.5" fill="#8c0005"/>
</g>
<rect x="277.5" y="442" width="432.5" height="14.5" fill="none" stroke="#333" stroke-width=".9"/>
<path d="M277.50 454.8V457.4M304.53 454.8V457.4M331.56 454.8V457.4M358.59 454.8V457.4M385.62 454.8V457.4M412.65 454.8V457.4M439.68 454.8V457.4M466.71 454.8V457.4M493.74 454.8V457.4M520.77 454.8V457.4M547.80 454.8V457.4M574.83 454.8V457.4M601.86 454.8V457.4M628.89 454.8V457.4M655.92 454.8V457.4M682.95 454.8V457.4M709.98 454.8V457.4" stroke="#333" stroke-width=".8" fill="none"/>
<path d="M258.8 449.3L272 441.3V457.5Z" fill="#05055a"/>
<path d="M729.5 449.3L715.8 441.3V457.5Z" fill="#4a0000"/>
<g font-size="10.8" fill="#484848" text-anchor="middle">
<text x="279.0" y="469.5">100</text>
<text x="333.1" y="469.5">138</text>
<text x="387.1" y="469.5">175</text>
<text x="441.2" y="469.5">212</text>
<text x="495.2" y="469.5">250</text>
<text x="549.3" y="469.5">288</text>
<text x="603.4" y="469.5">325</text>
<text x="657.4" y="469.5">362</text>
<text x="711.5" y="469.5">400</text>
</g>
<text x="493" y="438.3" font-size="14.7" text-anchor="middle" fill="#262626">sunshine duration [h]</text>
<g font-size="31" fill="#0a0a0a" text-anchor="middle">
<text class="sf" x="232.3" y="509.3">(<tspan font-weight="bold">a</tspan>)</text>
<text class="sf" x="764" y="509.3">(<tspan font-weight="bold">b</tspan>)</text>
</g>
</svg>
</body></html>
